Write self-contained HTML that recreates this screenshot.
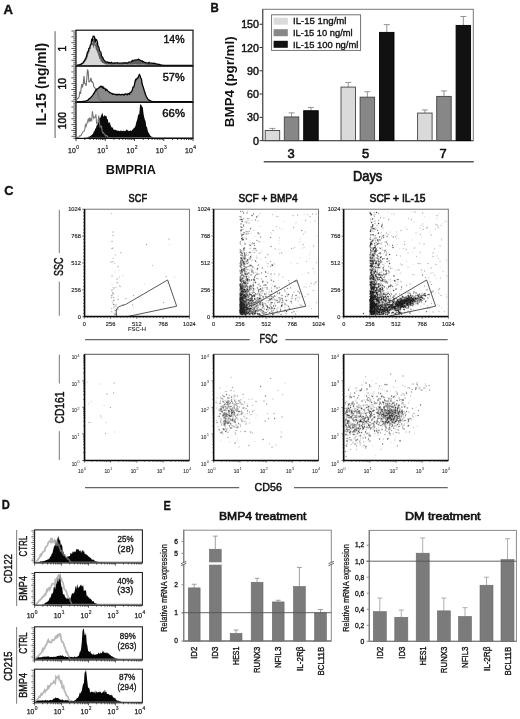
<!DOCTYPE html><html><head><meta charset="utf-8"><style>html,body{margin:0;padding:0;background:#fff;}svg{display:block;font-family:"Liberation Sans",sans-serif;will-change:transform;}</style></head><body><svg width="520" height="719" viewBox="0 0 520 719" font-family='"Liberation Sans", sans-serif'><rect width="520" height="719" fill="#fff"/><text x="3.5" y="13.8" font-size="12.5" font-weight="bold" fill="#111" stroke="#111" stroke-width="0.35" textLength="9.5" lengthAdjust="spacingAndGlyphs">A</text><text x="210.5" y="12.2" font-size="12.21" font-weight="bold" fill="#111" stroke="#111" stroke-width="0.35" textLength="8.3" lengthAdjust="spacingAndGlyphs">B</text><text x="4.2" y="195.2" font-size="13.37" font-weight="bold" fill="#111" stroke="#111" stroke-width="0.35" textLength="9.3" lengthAdjust="spacingAndGlyphs">C</text><text x="1.8" y="508.6" font-size="12.79" font-weight="bold" fill="#111" stroke="#111" stroke-width="0.35" textLength="8.1" lengthAdjust="spacingAndGlyphs">D</text><text x="163.5" y="510.2" font-size="12.79" font-weight="bold" fill="#111" stroke="#111" stroke-width="0.35" textLength="7.3" lengthAdjust="spacingAndGlyphs">E</text><path d="M77 65.4L77 65.21L77.7 65.13L78.4 65.06L79.1 64.83L79.8 64.72L80.5 64.46L81.2 64.23L81.9 63.5L82.6 63.35L83.3 62.73L84 61.63L84.7 60.59L85.4 59.4L86.1 58.33L86.8 56.12L87.5 53.35L88.2 53.17L88.9 50.19L89.6 49.93L90.3 47.27L91 46.46L91.7 42.31L92.4 42.98L93.1 39.22L93.8 39.08L94.5 39.88L95.2 44.82L95.9 42.06L96.6 42.56L97.3 43.97L98 48.25L98.7 48.79L99.4 51.4L100.1 53.2L100.8 53.39L101.5 56.74L102.2 57.83L102.9 58.52L103.6 60.28L104.3 60.95L105 61.49L105.7 61.98L106.4 62.48L107.1 62.6L107.8 62.35L108.5 63.05L109.2 62.8L109.9 63.13L110.6 63.25L111.3 62.65L112 63.08L112.7 63.37L113.4 63.34L114.1 63.2L114.8 63.39L115.5 63.19L116.2 63.4L116.9 63.2L117.6 62.97L118.3 63.42L119 63.35L119.7 63.42L120.4 63.38L121.1 63.43L121.8 63.42L122.5 63.4L123.2 63.12L123.9 63.02L124.6 63.38L125.3 63.33L126 63.06L126.7 63.26L127.4 63.11L128.1 62.98L128.8 62.38L129.5 62.38L130.2 62.45L130.9 62.21L131.6 61.92L132.3 60.91L133 61.38L133.7 61.08L134.4 60.57L135.1 60.57L135.8 60.43L136.5 60.58L137.2 60.28L137.9 60.45L138.6 59.83L139.3 60.31L140 60.9L140.7 60.85L141.4 61.53L142.1 61.31L142.8 62.05L143.5 62.08L144.2 62.66L144.9 62.62L145.6 63.01L146.3 63.14L147 63.17L147.7 63.27L148.4 63.26L149.1 62.67L149.8 63.41L150.5 63.44L151.2 63.4L151.9 63.35L152.6 63.54L153.3 63.59L154 63.45L154.7 63.59L155.4 63.82L156.1 63.97L156.8 64.11L157.5 64.23L158.2 64.4L158.9 64.56L159.6 64.6L160.3 64.89L161 65.04L161.7 65.14L162.4 65.2L163.1 65.28L163.8 65.31L164.5 65.32L165.2 65.36L165.9 65.36L166.6 65.38L167.3 65.38L168 65.39L168.7 65.39L169.4 65.39L170.1 65.4L170.8 65.4L171.5 65.4L172.2 65.4L172.9 65.4L173.6 65.4L174.3 65.4L175 65.4L175.7 65.4L176.4 65.4L177.1 65.4L177.8 65.4L178.5 65.4L179.2 65.4L179.9 65.4L180.6 65.4L181.3 65.4L182 65.4L182.7 65.4L183.4 65.4L184.1 65.4L184.8 65.4L185.5 65.4L186.2 65.4L186.9 65.4L187.6 65.4L188.3 65.4L189 65.4L189.7 65.4L190.4 65.4L191.1 65.4L191.8 65.4L192.5 65.4L192.5 65.4Z" fill="#5e5e5e" stroke="none" stroke-width="1"/><path d="M77 65.4L77 65.39L77.7 65.37L78.4 65.35L79.1 65.32L79.8 65.27L80.5 65.15L81.2 65.03L81.9 64.77L82.6 64.35L83.3 63.94L84 62.85L84.7 62.6L85.4 61.34L86.1 60.22L86.8 58.88L87.5 57.24L88.2 54.2L88.9 53.29L89.6 51.17L90.3 49.08L91 45.19L91.7 44.88L92.4 44.73L93.1 46.37L93.8 48.14L94.5 44.57L95.2 45.96L95.9 49.68L96.6 50.48L97.3 52.21L98 54.24L98.7 56.13L99.4 58.95L100.1 59.07L100.8 61.61L101.5 61.87L102.2 62.83L102.9 63.27L103.6 63.37L104.3 63.83L105 64.36L105.7 64.4L106.4 64.46L107.1 64.6L107.8 64.76L108.5 64.56L109.2 64.56L109.9 64.5L110.6 64.73L111.3 64.79L112 64.77L112.7 64.79L113.4 64.68L114.1 64.59L114.8 64.78L115.5 64.66L116.2 64.57L116.9 64.67L117.6 64.79L118.3 64.69L119 64.66L119.7 64.71L120.4 64.66L121.1 64.68L121.8 64.75L122.5 64.69L123.2 64.71L123.9 64.71L124.6 64.27L125.3 64.61L126 64.57L126.7 64.79L127.4 64.8L128.1 64.6L128.8 64.74L129.5 64.61L130.2 64.79L130.9 64.78L131.6 64.76L132.3 64.5L133 64.8L133.7 64.49L134.4 64.7L135.1 64.52L135.8 64.35L136.5 64.73L137.2 64.45L137.9 64.79L138.6 64.64L139.3 64.67L140 64.51L140.7 64.76L141.4 64.8L142.1 64.8L142.8 64.81L143.5 64.61L144.2 64.69L144.9 64.79L145.6 64.71L146.3 64.75L147 64.94L147.7 64.89L148.4 65.04L149.1 65.04L149.8 65.09L150.5 65.17L151.2 65.15L151.9 65.21L152.6 65.28L153.3 65.3L154 65.33L154.7 65.36L155.4 65.36L156.1 65.37L156.8 65.38L157.5 65.39L158.2 65.39L158.9 65.39L159.6 65.39L160.3 65.4L161 65.4L161.7 65.4L162.4 65.4L163.1 65.4L163.8 65.4L164.5 65.4L165.2 65.4L165.9 65.4L166.6 65.4L167.3 65.4L168 65.4L168.7 65.4L169.4 65.4L170.1 65.4L170.8 65.4L171.5 65.4L172.2 65.4L172.9 65.4L173.6 65.4L174.3 65.4L175 65.4L175.7 65.4L176.4 65.4L177.1 65.4L177.8 65.4L178.5 65.4L179.2 65.4L179.9 65.4L180.6 65.4L181.3 65.4L182 65.4L182.7 65.4L183.4 65.4L184.1 65.4L184.8 65.4L185.5 65.4L186.2 65.4L186.9 65.4L187.6 65.4L188.3 65.4L189 65.4L189.7 65.4L190.4 65.4L191.1 65.4L191.8 65.4L192.5 65.4L192.5 65.4Z" fill="#d8d8d8" stroke="none" stroke-width="1"/><path d="M77 65.19L77.7 65.1L78.4 65.02L79.1 64.77L79.8 64.64L80.5 64.36L81.2 64.1L81.9 63.28L82.6 63.13L83.3 62.43L84 61.21L84.7 60.06L85.4 58.74L86.1 57.55L86.8 55.09L87.5 52.01L88.2 51.81L88.9 48.5L89.6 48.21L90.3 45.25L91 44.36L91.7 39.74L92.4 40.49L93.1 36.31L93.8 36.15L94.5 37.05L95.2 42.54L95.9 39.47L96.6 40.02L97.3 41.59L98 46.35L98.7 46.95L99.4 49.84L100.1 51.84L100.8 52.06L101.5 55.78L102.2 56.99L102.9 57.76L103.6 59.71L104.3 60.45L105 61.06L105.7 61.6L106.4 62.16L107.1 62.29L107.8 62.01L108.5 62.79L109.2 62.52L109.9 62.88L110.6 63.01L111.3 62.35L112 62.82L112.7 63.14L113.4 63.11L114.1 62.96L114.8 63.17L115.5 62.94L116.2 63.18L116.9 62.96L117.6 62.7L118.3 63.2L119 63.12L119.7 63.2L120.4 63.15L121.1 63.21L121.8 63.2L122.5 63.18L123.2 62.86L123.9 62.76L124.6 63.15L125.3 63.1L126 62.8L126.7 63.02L127.4 62.86L128.1 62.71L128.8 62.05L129.5 62.05L130.2 62.12L130.9 61.85L131.6 61.53L132.3 60.41L133 60.93L133.7 60.6L134.4 60.04L135.1 60.03L135.8 59.88L136.5 60.05L137.2 59.71L137.9 59.9L138.6 59.22L139.3 59.75L140 60.4L140.7 60.35L141.4 61.09L142.1 60.85L142.8 61.68L143.5 61.71L144.2 62.35L144.9 62.32L145.6 62.74L146.3 62.89L147 62.92L147.7 63.03L148.4 63.02L149.1 62.36L149.8 63.19L150.5 63.22L151.2 63.18L151.9 63.12L152.6 63.33L153.3 63.39L154 63.24L154.7 63.39L155.4 63.65L156.1 63.81L156.8 63.97L157.5 64.1L158.2 64.29L158.9 64.46L159.6 64.51L160.3 64.83L161 65L161.7 65.12L162.4 65.18L163.1 65.27L163.8 65.3L164.5 65.32L165.2 65.35L165.9 65.36L166.6 65.37L167.3 65.38L168 65.39L168.7 65.39L169.4 65.39L170.1 65.4L170.8 65.4L171.5 65.4L172.2 65.4L172.9 65.4L173.6 65.4L174.3 65.4L175 65.4L175.7 65.4L176.4 65.4L177.1 65.4L177.8 65.4L178.5 65.4L179.2 65.4L179.9 65.4L180.6 65.4L181.3 65.4L182 65.4L182.7 65.4L183.4 65.4L184.1 65.4L184.8 65.4L185.5 65.4L186.2 65.4L186.9 65.4L187.6 65.4L188.3 65.4L189 65.4L189.7 65.4L190.4 65.4L191.1 65.4L191.8 65.4L192.5 65.4" fill="none" stroke="#000" stroke-width="1.3"/><path d="M77 101.7L77 101.68L77.7 101.68L78.4 101.67L79.1 101.66L79.8 101.65L80.5 101.62L81.2 101.59L81.9 101.56L82.6 101.52L83.3 101.47L84 101.36L84.7 101.24L85.4 101.07L86.1 100.87L86.8 100.56L87.5 100.29L88.2 99.88L88.9 99.04L89.6 98.22L90.3 98.08L91 97.38L91.7 96.39L92.4 95.57L93.1 94.65L93.8 93.41L94.5 92.81L95.2 90.9L95.9 90.44L96.6 89.27L97.3 88.79L98 88.47L98.7 88.06L99.4 87.08L100.1 87.01L100.8 86.16L101.5 86.39L102.2 87.59L102.9 86.71L103.6 88.18L104.3 88.1L105 88.42L105.7 90.18L106.4 89.39L107.1 90L107.8 90.84L108.5 91.57L109.2 92.08L109.9 92.84L110.6 92.96L111.3 93.45L112 93.5L112.7 94.24L113.4 93.9L114.1 94.12L114.8 94.38L115.5 94.58L116.2 94.21L116.9 95.09L117.6 94.36L118.3 94.51L119 94.51L119.7 94.48L120.4 94.89L121.1 94.78L121.8 94.36L122.5 94.48L123.2 94.6L123.9 95.15L124.6 94.39L125.3 94L126 94.02L126.7 94.33L127.4 94.8L128.1 93.51L128.8 93.76L129.5 94.22L130.2 92.37L130.9 92.53L131.6 91.55L132.3 90.08L133 87.19L133.7 87.14L134.4 84.9L135.1 81.27L135.8 79.37L136.5 79.68L137.2 78.05L137.9 78.02L138.6 76.37L139.3 74.57L140 75.51L140.7 77.73L141.4 78.9L142.1 83.82L142.8 85.92L143.5 87.89L144.2 90.54L144.9 92.44L145.6 94.74L146.3 96.56L147 97.64L147.7 98.85L148.4 99.62L149.1 100.11L149.8 100.69L150.5 100.97L151.2 101.3L151.9 101.42L152.6 101.53L153.3 101.6L154 101.64L154.7 101.66L155.4 101.68L156.1 101.69L156.8 101.69L157.5 101.7L158.2 101.7L158.9 101.7L159.6 101.7L160.3 101.7L161 101.7L161.7 101.7L162.4 101.7L163.1 101.7L163.8 101.7L164.5 101.7L165.2 101.7L165.9 101.7L166.6 101.7L167.3 101.7L168 101.7L168.7 101.7L169.4 101.7L170.1 101.7L170.8 101.7L171.5 101.7L172.2 101.7L172.9 101.7L173.6 101.7L174.3 101.7L175 101.7L175.7 101.7L176.4 101.7L177.1 101.7L177.8 101.7L178.5 101.7L179.2 101.7L179.9 101.7L180.6 101.7L181.3 101.7L182 101.7L182.7 101.7L183.4 101.7L184.1 101.7L184.8 101.7L185.5 101.7L186.2 101.7L186.9 101.7L187.6 101.7L188.3 101.7L189 101.7L189.7 101.7L190.4 101.7L191.1 101.7L191.8 101.7L192.5 101.7L192.5 101.7Z" fill="#8a8a8a" stroke="none" stroke-width="1"/><path d="M77 99.58L77.7 98.19L78.4 97.96L79.1 96.77L79.8 91.49L80.5 93.88L81.2 87.57L81.9 84.01L82.6 86.39L83.3 83.59L84 75.94L84.7 83.55L85.4 83.78L86.1 85.89L86.8 78.6L87.5 69.46L88.2 71.69L88.9 81.8L89.6 81.66L90.3 80.67L91 77.96L91.7 81.85L92.4 81.62L93.1 82.97L93.8 86.72L94.5 87.45L95.2 88.2L95.9 90.65L96.6 90.9L97.3 89.9L98 94.61L98.7 97.16L99.4 99.01L100.1 99.32L100.8 100.13L101.5 100.58L102.2 101.22L102.9 101.46L103.6 101.6L104.3 101.67L105 101.68L105.7 101.69L106.4 101.69L107.1 101.7L107.8 101.7L108.5 101.7L109.2 101.7L109.9 101.7L110.6 101.7L111.3 101.7L112 101.7L112.7 101.7L113.4 101.7L114.1 101.7L114.8 101.7L115.5 101.7L116.2 101.7L116.9 101.7L117.6 101.7L118.3 101.7L119 101.7L119.7 101.7L120.4 101.7L121.1 101.7L121.8 101.7L122.5 101.7L123.2 101.7L123.9 101.7L124.6 101.7L125.3 101.7L126 101.7L126.7 101.7L127.4 101.7L128.1 101.7L128.8 101.7L129.5 101.7L130.2 101.7L130.9 101.7L131.6 101.7L132.3 101.7L133 101.7L133.7 101.7L134.4 101.7L135.1 101.7L135.8 101.7L136.5 101.7L137.2 101.7L137.9 101.7L138.6 101.7L139.3 101.7L140 101.7L140.7 101.7L141.4 101.7L142.1 101.7L142.8 101.7L143.5 101.7L144.2 101.7L144.9 101.7L145.6 101.7L146.3 101.7L147 101.7L147.7 101.7L148.4 101.7L149.1 101.7L149.8 101.7L150.5 101.7L151.2 101.7L151.9 101.7L152.6 101.7L153.3 101.7L154 101.7L154.7 101.7L155.4 101.7L156.1 101.7L156.8 101.7L157.5 101.7L158.2 101.7L158.9 101.7L159.6 101.7L160.3 101.7L161 101.7L161.7 101.7L162.4 101.7L163.1 101.7L163.8 101.7L164.5 101.7L165.2 101.7L165.9 101.7L166.6 101.7L167.3 101.7L168 101.7L168.7 101.7L169.4 101.7L170.1 101.7L170.8 101.7L171.5 101.7L172.2 101.7L172.9 101.7L173.6 101.7L174.3 101.7L175 101.7L175.7 101.7L176.4 101.7L177.1 101.7L177.8 101.7L178.5 101.7L179.2 101.7L179.9 101.7L180.6 101.7L181.3 101.7L182 101.7L182.7 101.7L183.4 101.7L184.1 101.7L184.8 101.7L185.5 101.7L186.2 101.7L186.9 101.7L187.6 101.7L188.3 101.7L189 101.7L189.7 101.7L190.4 101.7L191.1 101.7L191.8 101.7L192.5 101.7" fill="none" stroke="#707070" stroke-width="1.1"/><path d="M77 101.68L77.7 101.68L78.4 101.67L79.1 101.66L79.8 101.65L80.5 101.62L81.2 101.59L81.9 101.56L82.6 101.52L83.3 101.47L84 101.36L84.7 101.24L85.4 101.07L86.1 100.87L86.8 100.56L87.5 100.29L88.2 99.88L88.9 99.04L89.6 98.22L90.3 98.08L91 97.38L91.7 96.39L92.4 95.57L93.1 94.65L93.8 93.41L94.5 92.81L95.2 90.9L95.9 90.44L96.6 89.27L97.3 88.79L98 88.47L98.7 88.06L99.4 87.08L100.1 87.01L100.8 86.16L101.5 86.39L102.2 87.59L102.9 86.71L103.6 88.18L104.3 88.1L105 88.42L105.7 90.18L106.4 89.39L107.1 90L107.8 90.84L108.5 91.57L109.2 92.08L109.9 92.84L110.6 92.96L111.3 93.45L112 93.5L112.7 94.24L113.4 93.9L114.1 94.12L114.8 94.38L115.5 94.58L116.2 94.21L116.9 95.09L117.6 94.36L118.3 94.51L119 94.51L119.7 94.48L120.4 94.89L121.1 94.78L121.8 94.36L122.5 94.48L123.2 94.6L123.9 95.15L124.6 94.39L125.3 94L126 94.02L126.7 94.33L127.4 94.8L128.1 93.51L128.8 93.76L129.5 94.22L130.2 92.37L130.9 92.53L131.6 91.55L132.3 90.08L133 87.19L133.7 87.14L134.4 84.9L135.1 81.27L135.8 79.37L136.5 79.68L137.2 78.05L137.9 78.02L138.6 76.37L139.3 74.57L140 75.51L140.7 77.73L141.4 78.9L142.1 83.82L142.8 85.92L143.5 87.89L144.2 90.54L144.9 92.44L145.6 94.74L146.3 96.56L147 97.64L147.7 98.85L148.4 99.62L149.1 100.11L149.8 100.69L150.5 100.97L151.2 101.3L151.9 101.42L152.6 101.53L153.3 101.6L154 101.64L154.7 101.66L155.4 101.68L156.1 101.69L156.8 101.69L157.5 101.7L158.2 101.7L158.9 101.7L159.6 101.7L160.3 101.7L161 101.7L161.7 101.7L162.4 101.7L163.1 101.7L163.8 101.7L164.5 101.7L165.2 101.7L165.9 101.7L166.6 101.7L167.3 101.7L168 101.7L168.7 101.7L169.4 101.7L170.1 101.7L170.8 101.7L171.5 101.7L172.2 101.7L172.9 101.7L173.6 101.7L174.3 101.7L175 101.7L175.7 101.7L176.4 101.7L177.1 101.7L177.8 101.7L178.5 101.7L179.2 101.7L179.9 101.7L180.6 101.7L181.3 101.7L182 101.7L182.7 101.7L183.4 101.7L184.1 101.7L184.8 101.7L185.5 101.7L186.2 101.7L186.9 101.7L187.6 101.7L188.3 101.7L189 101.7L189.7 101.7L190.4 101.7L191.1 101.7L191.8 101.7L192.5 101.7" fill="none" stroke="#000" stroke-width="1.3"/><path d="M77 137.8L77 137.78L77.7 137.78L78.4 137.77L79.1 137.77L79.8 137.76L80.5 137.74L81.2 137.73L81.9 137.72L82.6 137.69L83.3 137.68L84 137.64L84.7 137.58L85.4 137.5L86.1 137.43L86.8 137.38L87.5 137.13L88.2 136.84L88.9 136.64L89.6 136.46L90.3 136.06L91 135.41L91.7 135.02L92.4 134.37L93.1 133.48L93.8 131.52L94.5 130.91L95.2 128.82L95.9 128.34L96.6 125.52L97.3 125.09L98 122.94L98.7 117.73L99.4 118.18L100.1 118.35L100.8 116.5L101.5 114.77L102.2 112.48L102.9 115.01L103.6 116.93L104.3 115.13L105 115.43L105.7 116.3L106.4 115.69L107.1 118.66L107.8 119.49L108.5 123.12L109.2 122.49L109.9 122.6L110.6 125.24L111.3 126.79L112 127.77L112.7 127.22L113.4 129.62L114.1 129.69L114.8 129.67L115.5 129.74L116.2 130.59L116.9 130.36L117.6 130.75L118.3 130.63L119 130.8L119.7 131.18L120.4 130.81L121.1 130.27L121.8 131.17L122.5 130.93L123.2 130.45L123.9 131.25L124.6 130.79L125.3 131.29L126 130.26L126.7 129.57L127.4 129.78L128.1 131.13L128.8 130.62L129.5 130.99L130.2 130.95L130.9 129.93L131.6 131.14L132.3 129.6L133 129.77L133.7 127.88L134.4 127.72L135.1 126.9L135.8 124.38L136.5 121.57L137.2 119.75L137.9 115.92L138.6 114.17L139.3 113.91L140 105.33L140.7 104.11L141.4 105.28L142.1 106.81L142.8 107.28L143.5 113.44L144.2 117.13L144.9 119.78L145.6 121.31L146.3 126.6L147 127.18L147.7 130.61L148.4 132.49L149.1 133.19L149.8 134.92L150.5 135.81L151.2 136.45L151.9 136.75L152.6 137.04L153.3 137.47L154 137.59L154.7 137.67L155.4 137.73L156.1 137.76L156.8 137.77L157.5 137.79L158.2 137.79L158.9 137.79L159.6 137.8L160.3 137.8L161 137.8L161.7 137.8L162.4 137.8L163.1 137.8L163.8 137.8L164.5 137.8L165.2 137.8L165.9 137.8L166.6 137.8L167.3 137.8L168 137.8L168.7 137.8L169.4 137.8L170.1 137.8L170.8 137.8L171.5 137.8L172.2 137.8L172.9 137.8L173.6 137.8L174.3 137.8L175 137.8L175.7 137.8L176.4 137.8L177.1 137.8L177.8 137.8L178.5 137.8L179.2 137.8L179.9 137.8L180.6 137.8L181.3 137.8L182 137.8L182.7 137.8L183.4 137.8L184.1 137.8L184.8 137.8L185.5 137.8L186.2 137.8L186.9 137.8L187.6 137.8L188.3 137.8L189 137.8L189.7 137.8L190.4 137.8L191.1 137.8L191.8 137.8L192.5 137.8L192.5 137.8Z" fill="#0a0a0a" stroke="none" stroke-width="1"/><path d="M77 137.56L77.7 137.4L78.4 137.31L79.1 136.9L79.8 135.67L80.5 135.92L81.2 135.2L81.9 133.85L82.6 132.07L83.3 131.84L84 131.39L84.7 129.94L85.4 124.7L86.1 126.36L86.8 123.89L87.5 121.77L88.2 119.35L88.9 121.37L89.6 117.68L90.3 121.33L91 118.86L91.7 120.36L92.4 111.39L93.1 115.86L93.8 118.3L94.5 117.06L95.2 117.1L95.9 114.34L96.6 123.38L97.3 122.79L98 122.41L98.7 115.6L99.4 122.42L100.1 126.93L100.8 126.99L101.5 126.4L102.2 131.64L102.9 132.92L103.6 132.49L104.3 134.25L105 134.93L105.7 136.03L106.4 135.38L107.1 135.98L107.8 136.88L108.5 137.29L109.2 137.61L109.9 137.57L110.6 137.67L111.3 137.71L112 137.74L112.7 137.77L113.4 137.79L114.1 137.79L114.8 137.79L115.5 137.8L116.2 137.8L116.9 137.8L117.6 137.8L118.3 137.8L119 137.8L119.7 137.8L120.4 137.8L121.1 137.8L121.8 137.8L122.5 137.8L123.2 137.8L123.9 137.8L124.6 137.8L125.3 137.8L126 137.8L126.7 137.8L127.4 137.8L128.1 137.8L128.8 137.8L129.5 137.8L130.2 137.8L130.9 137.8L131.6 137.8L132.3 137.8L133 137.8L133.7 137.8L134.4 137.8L135.1 137.8L135.8 137.8L136.5 137.8L137.2 137.8L137.9 137.8L138.6 137.8L139.3 137.8L140 137.8L140.7 137.8L141.4 137.8L142.1 137.8L142.8 137.8L143.5 137.8L144.2 137.8L144.9 137.8L145.6 137.8L146.3 137.8L147 137.8L147.7 137.8L148.4 137.8L149.1 137.8L149.8 137.8L150.5 137.8L151.2 137.8L151.9 137.8L152.6 137.8L153.3 137.8L154 137.8L154.7 137.8L155.4 137.8L156.1 137.8L156.8 137.8L157.5 137.8L158.2 137.8L158.9 137.8L159.6 137.8L160.3 137.8L161 137.8L161.7 137.8L162.4 137.8L163.1 137.8L163.8 137.8L164.5 137.8L165.2 137.8L165.9 137.8L166.6 137.8L167.3 137.8L168 137.8L168.7 137.8L169.4 137.8L170.1 137.8L170.8 137.8L171.5 137.8L172.2 137.8L172.9 137.8L173.6 137.8L174.3 137.8L175 137.8L175.7 137.8L176.4 137.8L177.1 137.8L177.8 137.8L178.5 137.8L179.2 137.8L179.9 137.8L180.6 137.8L181.3 137.8L182 137.8L182.7 137.8L183.4 137.8L184.1 137.8L184.8 137.8L185.5 137.8L186.2 137.8L186.9 137.8L187.6 137.8L188.3 137.8L189 137.8L189.7 137.8L190.4 137.8L191.1 137.8L191.8 137.8L192.5 137.8" fill="none" stroke="#7a7a7a" stroke-width="1.1"/><rect x="76" y="30.2" width="117" height="35.8" fill="none" stroke="#111" stroke-width="1.2"/><rect x="76" y="66" width="117" height="36.3" fill="none" stroke="#111" stroke-width="1.2"/><rect x="76" y="102.3" width="117" height="36.1" fill="none" stroke="#111" stroke-width="1.2"/><path d="M76 31h-4.6M76 32.95h-2.8M76 34.9h-2.8M76 36.85h-4.6M76 38.8h-2.8M76 40.75h-2.8M76 42.7h-4.6M76 44.65h-2.8M76 46.6h-2.8M76 48.55h-4.6M76 50.5h-2.8M76 52.45h-2.8M76 54.4h-4.6M76 56.35h-2.8M76 58.3h-2.8M76 60.25h-4.6M76 62.2h-2.8M76 64.15h-2.8M76 66.1h-4.6M76 68.05h-2.8M76 70h-2.8M76 71.95h-4.6M76 73.9h-2.8M76 75.85h-2.8M76 77.8h-4.6M76 79.75h-2.8M76 81.7h-2.8M76 83.65h-4.6M76 85.6h-2.8M76 87.55h-2.8M76 89.5h-4.6M76 91.45h-2.8M76 93.4h-2.8M76 95.35h-4.6M76 97.3h-2.8M76 99.25h-2.8M76 101.2h-4.6M76 103.15h-2.8M76 105.1h-2.8M76 107.05h-4.6M76 109h-2.8M76 110.95h-2.8M76 112.9h-4.6M76 114.85h-2.8M76 116.8h-2.8M76 118.75h-4.6M76 120.7h-2.8M76 122.65h-2.8M76 124.6h-4.6M76 126.55h-2.8M76 128.5h-2.8M76 130.45h-4.6M76 132.4h-2.8M76 134.35h-2.8M76 136.3h-4.6M76 138.25h-2.8" fill="none" stroke="#222" stroke-width="0.75"/><path d="M76 138.4v2.6M84.81 138.4v1.6M89.96 138.4v1.6M93.61 138.4v1.6M96.44 138.4v1.6M98.76 138.4v1.6M100.72 138.4v1.6M102.42 138.4v1.6M103.91 138.4v1.6M105.25 138.4v2.6M114.06 138.4v1.6M119.21 138.4v1.6M122.86 138.4v1.6M125.69 138.4v1.6M128.01 138.4v1.6M129.97 138.4v1.6M131.67 138.4v1.6M133.16 138.4v1.6M134.5 138.4v2.6M143.31 138.4v1.6M148.46 138.4v1.6M152.11 138.4v1.6M154.94 138.4v1.6M157.26 138.4v1.6M159.22 138.4v1.6M160.92 138.4v1.6M162.41 138.4v1.6M163.75 138.4v2.6M172.56 138.4v1.6M177.71 138.4v1.6M181.36 138.4v1.6M184.19 138.4v1.6M186.51 138.4v1.6M188.47 138.4v1.6M190.17 138.4v1.6M191.66 138.4v1.6M193 138.4v2.6" fill="none" stroke="#111" stroke-width="0.8"/><text x="68.1" y="152.8" font-size="7.06" fill="#222" stroke="#222" stroke-width="0.25" textLength="7.7" lengthAdjust="spacingAndGlyphs">10</text><text x="76.2" y="148.8" font-size="4.94" fill="#222" stroke="#222" stroke-width="0.17">0</text><text x="97.35" y="152.8" font-size="7.06" fill="#222" stroke="#222" stroke-width="0.25" textLength="7.7" lengthAdjust="spacingAndGlyphs">10</text><text x="105.45" y="148.8" font-size="4.94" fill="#222" stroke="#222" stroke-width="0.17">1</text><text x="126.6" y="152.8" font-size="7.06" fill="#222" stroke="#222" stroke-width="0.25" textLength="7.7" lengthAdjust="spacingAndGlyphs">10</text><text x="134.7" y="148.8" font-size="4.94" fill="#222" stroke="#222" stroke-width="0.17">2</text><text x="155.85" y="152.8" font-size="7.06" fill="#222" stroke="#222" stroke-width="0.25" textLength="7.7" lengthAdjust="spacingAndGlyphs">10</text><text x="163.95" y="148.8" font-size="4.94" fill="#222" stroke="#222" stroke-width="0.17">3</text><text x="185.1" y="152.8" font-size="7.06" fill="#222" stroke="#222" stroke-width="0.25" textLength="7.7" lengthAdjust="spacingAndGlyphs">10</text><text x="193.2" y="148.8" font-size="4.94" fill="#222" stroke="#222" stroke-width="0.17">4</text><text x="163.5" y="43.2" font-size="10.76" font-weight="normal" fill="#111" stroke="#111" stroke-width="0.45" textLength="21.1" lengthAdjust="spacingAndGlyphs">14%</text><text x="162.8" y="80.7" font-size="10.47" font-weight="normal" fill="#111" stroke="#111" stroke-width="0.45" textLength="21.8" lengthAdjust="spacingAndGlyphs">57%</text><text x="162.3" y="116.5" font-size="11.05" font-weight="normal" fill="#111" stroke="#111" stroke-width="0.45" textLength="22.7" lengthAdjust="spacingAndGlyphs">66%</text><text x="105.8" y="174.4" font-size="13.66" font-weight="bold" fill="#111" textLength="50.2" lengthAdjust="spacingAndGlyphs">BMPRIA</text><line x1="55.1" y1="31.3" x2="55.1" y2="137.9" stroke="#8a8a8a" stroke-width="1.4"/><text transform="translate(46 125.4) rotate(-90)" font-size="13.95" font-weight="bold" fill="#111" textLength="82.6" lengthAdjust="spacingAndGlyphs">IL-15 (ng/ml)</text><text transform="translate(66.4 51.6) rotate(-90)" font-size="10.17" font-weight="normal" fill="#111" stroke="#111" stroke-width="0.45" textLength="5.8" lengthAdjust="spacingAndGlyphs">1</text><text transform="translate(66.4 89.6) rotate(-90)" font-size="10.17" font-weight="normal" fill="#111" stroke="#111" stroke-width="0.45" textLength="11.6" lengthAdjust="spacingAndGlyphs">10</text><text transform="translate(66.4 129.2) rotate(-90)" font-size="10.17" font-weight="normal" fill="#111" stroke="#111" stroke-width="0.45" textLength="17.3" lengthAdjust="spacingAndGlyphs">100</text><rect x="262.7" y="9.3" width="210.6" height="131.3" fill="none" stroke="#777" stroke-width="1"/><line x1="262.7" y1="9.3" x2="262.7" y2="140.6" stroke="#555" stroke-width="1.2"/><line x1="262.7" y1="140.6" x2="473.3" y2="140.6" stroke="#555" stroke-width="1.2"/><line x1="259.5" y1="140.6" x2="262.7" y2="140.6" stroke="#333" stroke-width="1"/><text x="253" y="144.6" font-size="11.34" font-weight="normal" fill="#111" stroke="#111" stroke-width="0.45" textLength="6" lengthAdjust="spacingAndGlyphs">0</text><line x1="259.5" y1="117.33" x2="262.7" y2="117.33" stroke="#333" stroke-width="1"/><text x="247.1" y="121.33" font-size="11.34" font-weight="normal" fill="#111" stroke="#111" stroke-width="0.45" textLength="11.9" lengthAdjust="spacingAndGlyphs">30</text><line x1="259.5" y1="94.06" x2="262.7" y2="94.06" stroke="#333" stroke-width="1"/><text x="247.1" y="98.06" font-size="11.34" font-weight="normal" fill="#111" stroke="#111" stroke-width="0.45" textLength="11.9" lengthAdjust="spacingAndGlyphs">60</text><line x1="259.5" y1="70.79" x2="262.7" y2="70.79" stroke="#333" stroke-width="1"/><text x="247.1" y="74.79" font-size="11.34" font-weight="normal" fill="#111" stroke="#111" stroke-width="0.45" textLength="11.9" lengthAdjust="spacingAndGlyphs">90</text><line x1="259.5" y1="47.52" x2="262.7" y2="47.52" stroke="#333" stroke-width="1"/><text x="241.2" y="51.52" font-size="11.34" font-weight="normal" fill="#111" stroke="#111" stroke-width="0.45" textLength="17.8" lengthAdjust="spacingAndGlyphs">120</text><line x1="259.5" y1="24.25" x2="262.7" y2="24.25" stroke="#333" stroke-width="1"/><text x="241.2" y="28.25" font-size="11.34" font-weight="normal" fill="#111" stroke="#111" stroke-width="0.45" textLength="17.8" lengthAdjust="spacingAndGlyphs">150</text><text transform="translate(233.7 127.2) rotate(-90)" font-size="13.08" font-weight="bold" fill="#111" textLength="90.9" lengthAdjust="spacingAndGlyphs">BMP4 (pgr/ml)</text><line x1="272.45" y1="128.42" x2="272.45" y2="130.52" stroke="#8a8a8a" stroke-width="0.9"/><line x1="269.45" y1="128.42" x2="275.45" y2="128.42" stroke="#8a8a8a" stroke-width="0.9"/><rect x="265.2" y="130.52" width="14.5" height="10.08" fill="#dadada" stroke="#444" stroke-width="0.9"/><line x1="291.55" y1="112.83" x2="291.55" y2="116.94" stroke="#8a8a8a" stroke-width="0.9"/><line x1="288.55" y1="112.83" x2="294.55" y2="112.83" stroke="#8a8a8a" stroke-width="0.9"/><rect x="284.3" y="116.94" width="14.5" height="23.66" fill="#878787" stroke="#444" stroke-width="0.9"/><line x1="310.95" y1="107.48" x2="310.95" y2="110.74" stroke="#8a8a8a" stroke-width="0.9"/><line x1="307.95" y1="107.48" x2="313.95" y2="107.48" stroke="#8a8a8a" stroke-width="0.9"/><rect x="303.7" y="110.74" width="14.5" height="29.86" fill="#111111" stroke="#000" stroke-width="0.9"/><line x1="348.25" y1="82.42" x2="348.25" y2="87.08" stroke="#8a8a8a" stroke-width="0.9"/><line x1="345.25" y1="82.42" x2="351.25" y2="82.42" stroke="#8a8a8a" stroke-width="0.9"/><rect x="341" y="87.08" width="14.5" height="53.52" fill="#dadada" stroke="#444" stroke-width="0.9"/><line x1="367.35" y1="91.73" x2="367.35" y2="97.16" stroke="#8a8a8a" stroke-width="0.9"/><line x1="364.35" y1="91.73" x2="370.35" y2="91.73" stroke="#8a8a8a" stroke-width="0.9"/><rect x="360.1" y="97.16" width="14.5" height="43.44" fill="#878787" stroke="#444" stroke-width="0.9"/><line x1="386.75" y1="24.64" x2="386.75" y2="32.39" stroke="#8a8a8a" stroke-width="0.9"/><line x1="383.75" y1="24.64" x2="389.75" y2="24.64" stroke="#8a8a8a" stroke-width="0.9"/><rect x="379.5" y="32.39" width="14.5" height="108.21" fill="#111111" stroke="#000" stroke-width="0.9"/><line x1="424.85" y1="109.96" x2="424.85" y2="113.06" stroke="#8a8a8a" stroke-width="0.9"/><line x1="421.85" y1="109.96" x2="427.85" y2="109.96" stroke="#8a8a8a" stroke-width="0.9"/><rect x="417.6" y="113.06" width="14.5" height="27.54" fill="#dadada" stroke="#444" stroke-width="0.9"/><line x1="443.95" y1="90.96" x2="443.95" y2="96.39" stroke="#8a8a8a" stroke-width="0.9"/><line x1="440.95" y1="90.96" x2="446.95" y2="90.96" stroke="#8a8a8a" stroke-width="0.9"/><rect x="436.7" y="96.39" width="14.5" height="44.21" fill="#878787" stroke="#444" stroke-width="0.9"/><line x1="463.35" y1="16.49" x2="463.35" y2="25.41" stroke="#8a8a8a" stroke-width="0.9"/><line x1="460.35" y1="16.49" x2="466.35" y2="16.49" stroke="#8a8a8a" stroke-width="0.9"/><rect x="456.1" y="25.41" width="14.5" height="115.19" fill="#111111" stroke="#000" stroke-width="0.9"/><rect x="271.6" y="14.8" width="89" height="35.6" fill="#fff" stroke="#666" stroke-width="0.9"/><rect x="273.6" y="17.7" width="14.2" height="7" fill="#dadada" stroke="none" stroke-width="1"/><text x="293" y="24.4" font-size="9.3" font-weight="normal" fill="#111" stroke="#111" stroke-width="0.35" textLength="53.5" lengthAdjust="spacingAndGlyphs">IL-15 1ng/ml</text><rect x="273.6" y="29.2" width="14.2" height="7" fill="#878787" stroke="none" stroke-width="1"/><text x="293" y="35.9" font-size="9.3" font-weight="normal" fill="#111" stroke="#111" stroke-width="0.35" textLength="59.6" lengthAdjust="spacingAndGlyphs">IL-15 10 ng/ml</text><rect x="273.6" y="40.8" width="14.2" height="7" fill="#111111" stroke="none" stroke-width="1"/><text x="293" y="47.5" font-size="9.3" font-weight="normal" fill="#111" stroke="#111" stroke-width="0.35" textLength="65.4" lengthAdjust="spacingAndGlyphs">IL-15 100 ng/ml</text><text x="287.4" y="157.6" font-size="13.08" font-weight="normal" fill="#111" stroke="#111" stroke-width="0.6" textLength="7.2" lengthAdjust="spacingAndGlyphs">3</text><text x="361.9" y="157.6" font-size="13.08" font-weight="normal" fill="#111" stroke="#111" stroke-width="0.6" textLength="7.2" lengthAdjust="spacingAndGlyphs">5</text><text x="439.4" y="157.6" font-size="13.08" font-weight="normal" fill="#111" stroke="#111" stroke-width="0.6" textLength="7.2" lengthAdjust="spacingAndGlyphs">7</text><line x1="263.7" y1="161.8" x2="473.8" y2="161.8" stroke="#555" stroke-width="1.5"/><text x="353" y="180.8" font-size="13.95" font-weight="normal" fill="#111" stroke="#111" stroke-width="0.65" textLength="29.3" lengthAdjust="spacingAndGlyphs">Days</text><path d="M112.5 292.5h.1M114.5 305h.1M119.5 285.5h.1M118 296h.1M114.5 304.5h.1M112 312.5h.1M113 302h.1M112 301.5h.1M115 312.5h.1M117 314h.1M113.5 308h.1M113 287.5h.1M112 284.5h.1M119 270.5h.1M115 272h.1M114 314h.1M118 283h.1M119.5 276.5h.1M112.5 295.5h.1M112.5 303h.1M113 289.5h.1M167.5 283.5h.1M120.5 253h.1M119 278h.1M174.5 277h.1M133.5 308h.1M123 275.5h.1M169.5 244.5h.1M144.5 284h.1" stroke="#000" stroke-opacity="0.12" stroke-width="1.3" stroke-linecap="round" fill="none"/><path d="M112.5 262h.1M112 290h.1M111.5 311.5h.1M111.5 311.5h.1M113 261.5h.1M121 252.5h.1M113 248h.1M113 258.5h.1M113.5 304.5h.1M111.5 213.5h.1M116 306.5h.1M113 294h.1M114.5 263.5h.1M114.5 314h.1M116 287.5h.1M115.5 255h.1M111.5 290.5h.1M111.5 308.5h.1M152.5 265.5h.1" stroke="#000" stroke-opacity="0.22" stroke-width="1.3" stroke-linecap="round" fill="none"/><path d="M118 299.5h.1M116 305h.1M115 314.5h.1M132.5 305h.1M113 235.5h.1M112 241.5h.1M117.5 308h.1M117 279h.1M126 298.5h.1M111 262h.1M111.5 295.5h.1M116 310.5h.1M113 293h.1M114 307h.1M118 309.5h.1M114 300h.1M113 293.5h.1M116 314h.1M112 248.5h.1M113.5 297.5h.1M117 282.5h.1M113.5 304.5h.1M115 310.5h.1M118 266.5h.1M114 288h.1M113.5 300.5h.1M113 232h.1M120 286.5h.1M111.5 297.5h.1M112 276h.1M123 305h.1M166 276.5h.1M133.5 295.5h.1M146.5 244.5h.1M163.5 302.5h.1M169 239h.1" stroke="#000" stroke-opacity="0.32" stroke-width="1.3" stroke-linecap="round" fill="none"/><path d="M259.5 303.5h.1M276.5 313h.1M257 287h.1M253.5 280.5h.1M251.5 292.5h.1M270 309h.1M247 279h.1M251.5 255h.1M250.5 308.5h.1M240 304h.1M248 303.5h.1M240.5 291.5h.1M249.5 311h.1M243.5 278.5h.1M250 286.5h.1M255 303h.1M241 293h.1M246 312.5h.1M243 306.5h.1M241 268.5h.1M242 310h.1M240 293h.1M243 307.5h.1M249.5 265h.1M240.5 233.5h.1M245 310h.1M240 284h.1M242.5 235h.1M253.5 281h.1M266 281.5h.1M248 307h.1M242.5 269.5h.1M251 233h.1M256.5 273h.1M243.5 264h.1M250 313h.1M275.5 312h.1M250 288.5h.1M245.5 288.5h.1M244.5 298.5h.1M246.5 284h.1M245.5 311h.1M246.5 299.5h.1M251 310h.1M260.5 288.5h.1M248.5 310h.1M240 302h.1M245.5 299h.1M241.5 300h.1M261.5 251h.1M241 279.5h.1M241 301h.1M241.5 311h.1M279.5 294h.1M250 303.5h.1M242.5 300.5h.1M251 309h.1M262.5 307.5h.1M250.5 229h.1M251.5 308h.1M245.5 304.5h.1M240 311.5h.1M254.5 303.5h.1M240.5 281.5h.1M242 292h.1M241.5 309h.1M245 276.5h.1M242 292.5h.1M240.5 304h.1M248.5 291.5h.1M256.5 256h.1M246.5 298h.1M253 296h.1M258.5 311.5h.1M241.5 257.5h.1M245 308h.1M242 264.5h.1M240.5 250h.1M243 306h.1M242.5 299.5h.1M241.5 314.5h.1M241 287h.1M250 242.5h.1M243.5 306h.1M266 313.5h.1M255.5 306h.1M249 311.5h.1M248.5 304.5h.1M247.5 285h.1M245.5 280h.1M245.5 274.5h.1M241 295.5h.1M245.5 284.5h.1M242.5 251h.1M254 305h.1M251 303.5h.1M245.5 307.5h.1M251.5 305.5h.1M250 314.5h.1M248 310.5h.1M254 307.5h.1M244 304h.1M240 265.5h.1M242 312h.1M246.5 290h.1M252.5 296.5h.1M258 305.5h.1M240.5 307h.1M244 283h.1M241 313h.1M274.5 304.5h.1M246 302.5h.1M255.5 272.5h.1M244.5 307.5h.1M244.5 314h.1M241.5 287.5h.1M247 314.5h.1M256 302.5h.1M252 251h.1M246.5 277.5h.1M242 262h.1M249 305h.1M241 282.5h.1M243.5 310h.1M245 310h.1M244 313.5h.1M256.5 308h.1M251.5 313.5h.1M261 298.5h.1M259 253.5h.1M246 290h.1M242 303h.1M259 309h.1M245 276h.1M244.5 299h.1M244 297.5h.1M240 286h.1M274.5 313.5h.1M252 298.5h.1M266.5 292.5h.1M241.5 306h.1M241.5 314.5h.1M243.5 307h.1M247 291.5h.1M276.5 299.5h.1M242.5 297h.1M241.5 308.5h.1M264 312.5h.1M246.5 313h.1M244 263.5h.1M243.5 213h.1M246 312.5h.1M260.5 259h.1M241 306h.1M246.5 298h.1M262 312.5h.1M241 295h.1M251 297.5h.1M249.5 298.5h.1M248.5 305.5h.1M247 301h.1M248 311.5h.1M244 309.5h.1M249.5 293h.1M249.5 231h.1M242.5 288h.1M243 297h.1M242 304.5h.1M243 310.5h.1M277.5 314h.1M241.5 281.5h.1M248.5 278h.1M252 283.5h.1M243.5 298h.1M249 286.5h.1M240 297h.1M252 220.5h.1M245 284h.1M240 308h.1M241.5 313h.1M247 305h.1M240 311.5h.1M253 286.5h.1M246 305h.1M251 269h.1M242.5 281h.1M245.5 286.5h.1M245.5 278h.1M243.5 306h.1M267.5 298.5h.1M246 309.5h.1M247 313h.1M249 295h.1M241.5 310h.1M257.5 309h.1M243 305h.1M245 278.5h.1M267.5 308.5h.1M244 268.5h.1M252.5 308.5h.1M243.5 296h.1M256.5 250.5h.1M258 295h.1M241.5 300.5h.1M279 287h.1M252.5 307.5h.1M244.5 277.5h.1M242 245.5h.1M250.5 265h.1M250.5 313h.1M241.5 302h.1M243.5 283.5h.1M256 313.5h.1M240 304.5h.1M243.5 307.5h.1M249.5 296h.1M243 310h.1M243 298.5h.1M248.5 293h.1M247.5 291.5h.1M262 308.5h.1M242 297h.1M252 306.5h.1M241 286h.1M252.5 309h.1M261.5 313h.1M247.5 294h.1M240 290h.1M263.5 281.5h.1M246 279.5h.1M252.5 260h.1M252.5 287h.1M242 307h.1M243.5 303h.1M252 296h.1M241 223.5h.1M252.5 306.5h.1M246 306.5h.1M243 299.5h.1M252.5 314.5h.1M241 308h.1M241.5 289.5h.1M261.5 312.5h.1M263.5 305.5h.1M255 282h.1M242.5 309h.1M243.5 314.5h.1M243.5 283.5h.1M247.5 211.5h.1M242.5 280.5h.1M257.5 294h.1M246 281h.1M266 261.5h.1M249 220.5h.1M254 278.5h.1M244.5 290h.1M245 309.5h.1M245.5 290h.1M247.5 232h.1M249.5 265h.1M240.5 266h.1M251.5 305h.1M246 283h.1M240 286.5h.1M248.5 290.5h.1M242 287h.1M242.5 309h.1M243.5 296h.1M240.5 301h.1M240 300h.1M244 298.5h.1M252.5 287.5h.1M257 305h.1M246 269h.1M240.5 255h.1M240 308h.1M240 312h.1M250 304h.1M242 311h.1M253.5 290.5h.1M243.5 262h.1M240 273.5h.1M241.5 285.5h.1M243 285.5h.1M247.5 291.5h.1M243 297h.1M247.5 297.5h.1M241.5 285h.1M244.5 308.5h.1M247 272h.1M247.5 295.5h.1M247 295h.1M245.5 298.5h.1M250 281.5h.1M245.5 283h.1M243 256.5h.1M243.5 307h.1M241 312.5h.1M251.5 307h.1M241 305.5h.1M242 306.5h.1M241.5 282h.1M250 314.5h.1M241.5 312.5h.1M275 305h.1M245.5 306.5h.1M242.5 221.5h.1M252 300.5h.1M243.5 302h.1M245.5 259.5h.1M249 304.5h.1M241.5 305h.1M242 283.5h.1M243 307.5h.1M247 313h.1M244.5 302h.1M246.5 272.5h.1M252.5 306.5h.1M241.5 277.5h.1M241.5 310.5h.1M280.5 308.5h.1M242 288.5h.1M244.5 289.5h.1M244 292.5h.1M241 292h.1M240.5 297.5h.1M247 218.5h.1M241 291.5h.1M242.5 272h.1M262 311.5h.1M252 311.5h.1M244.5 304h.1M259.5 300h.1M243 280.5h.1M245 301.5h.1M244.5 242h.1M258.5 279h.1M251.5 290h.1M255 289h.1M245 237.5h.1M246 302.5h.1M245.5 302.5h.1M241.5 305.5h.1M241 262h.1M242.5 234.5h.1M241.5 313h.1M249.5 313h.1M243 310.5h.1M249.5 293.5h.1M242.5 310h.1M256 307h.1M254.5 314.5h.1M241.5 302h.1M244.5 297.5h.1M256.5 262h.1M251.5 306.5h.1M240.5 312h.1M249 302.5h.1M244 260h.1M240.5 309.5h.1M243.5 300.5h.1M240 301.5h.1M271 277h.1M244.5 257h.1M252.5 301h.1M242.5 260.5h.1M243.5 294.5h.1M252 270.5h.1M244.5 297h.1M250 245h.1M241 280h.1M244.5 274h.1M246.5 296.5h.1M257 294.5h.1M241.5 252.5h.1M243.5 291h.1M243 295h.1M245.5 314h.1M240.5 267h.1M261 305h.1M246.5 314h.1M248 303.5h.1M268 273h.1M254.5 268.5h.1M255 308h.1M244.5 271h.1M252 301.5h.1M243 280h.1M243 298.5h.1M255.5 307h.1M245 300h.1M276.5 311h.1M264.5 309h.1M241 297h.1M241.5 285.5h.1M272.5 285.5h.1M247 272h.1M266.5 305.5h.1M244 283h.1M266.5 301h.1M242.5 307.5h.1M241 282h.1M249 269.5h.1M240.5 309h.1M241 306h.1M246.5 299h.1M240.5 314.5h.1M254 291h.1M267.5 311.5h.1M241 293h.1M242 314.5h.1M243.5 299.5h.1M242 297h.1M245 287.5h.1M244.5 272.5h.1M247 222h.1M263.5 310.5h.1M243.5 276h.1M260.5 286h.1M244 277.5h.1M244.5 307h.1M247.5 309.5h.1M254.5 280h.1M241.5 258.5h.1M244.5 308h.1M256.5 311h.1M245 288h.1M243.5 292h.1M252 297.5h.1M251 312.5h.1M256.5 312h.1M243.5 281h.1M260 306h.1M241.5 312h.1M241 301h.1M241.5 279.5h.1M253.5 307.5h.1M260.5 242h.1M245 278h.1M244 286h.1M241 260h.1M242 291h.1M244.5 298.5h.1M255 312h.1M248 276h.1M241.5 280h.1M247.5 313h.1M246.5 302.5h.1M243.5 297.5h.1M244 309h.1M245 312.5h.1M240.5 298h.1M240 311h.1M240.5 300.5h.1M241.5 309.5h.1M253.5 305.5h.1M247.5 308.5h.1M240 310.5h.1M242 305.5h.1M241.5 307h.1M244 312h.1M243.5 309h.1M243.5 304.5h.1M246.5 260h.1M243 304.5h.1M241.5 306.5h.1M242.5 312h.1M240.5 304.5h.1M241 301.5h.1M241 304h.1M246.5 301h.1M245.5 302.5h.1M241.5 300h.1M241 292.5h.1M241 312h.1M241.5 306h.1M243 311.5h.1M240.5 303h.1M240.5 310h.1M241.5 295h.1M244 302.5h.1M242.5 309h.1M240 312h.1M240.5 312.5h.1M242.5 287.5h.1M242.5 307.5h.1M241.5 301h.1M245 307.5h.1M241.5 312h.1M243 292h.1M242 310.5h.1M241 311.5h.1M246.5 312h.1M240.5 304.5h.1M242 310.5h.1M242 309.5h.1M241.5 312.5h.1M243.5 310h.1M241.5 310h.1M250.5 312.5h.1M241.5 309.5h.1M242.5 306.5h.1M241.5 303h.1M241 308.5h.1M240.5 299h.1M241.5 306.5h.1M240.5 311.5h.1M240 311.5h.1M240 312h.1M240.5 306.5h.1M242 310h.1M240 289h.1M245.5 303.5h.1M240.5 302.5h.1M247 311.5h.1M241 305.5h.1M241 301h.1M242.5 312h.1M246 308.5h.1M240.5 305.5h.1M241 289h.1M241 311h.1M241 312h.1M241.5 298.5h.1M244 312h.1M242 306h.1M241.5 312.5h.1M244.5 312h.1M243 307h.1M244 310.5h.1M242.5 311h.1M241 308.5h.1M241.5 310.5h.1M244.5 278h.1M240 304h.1M241.5 312h.1M241 312h.1M241 310.5h.1M240.5 298.5h.1M241.5 306.5h.1M240 310.5h.1M241.5 300h.1M246.5 310.5h.1M244.5 311h.1M241.5 292.5h.1M241 310.5h.1M241.5 310.5h.1M242.5 306.5h.1M243.5 301.5h.1M246 308.5h.1M242.5 309h.1M250 307.5h.1M240.5 309.5h.1M241.5 303.5h.1M241.5 299h.1M241.5 306h.1M242.5 294h.1M240 300h.1M242 310h.1M242.5 311.5h.1M240.5 312.5h.1M241.5 304h.1M244 307h.1M246.5 308.5h.1M241 307.5h.1M242 310h.1M251.5 290.5h.1M240.5 307h.1M241 309h.1M245 309h.1M249 310.5h.1M242 300h.1M242.5 304.5h.1M240 311h.1M241.5 309h.1M285 297h.1M269.5 304.5h.1M285 305.5h.1M262.5 302.5h.1M273 297h.1M280.5 307.5h.1M268.5 302.5h.1M259.5 304h.1M276.5 295.5h.1M272.5 310.5h.1M268 302.5h.1M282 303.5h.1M263 312h.1M257 308.5h.1M259.5 303.5h.1M241.5 302.5h.1M259 314.5h.1M252.5 309.5h.1M284.5 307.5h.1M270.5 305.5h.1M281 302.5h.1M291 299h.1M278.5 294h.1M272 292h.1M286.5 293h.1M267.5 298.5h.1M291 288.5h.1M275.5 296.5h.1M269 289.5h.1M297 311h.1M268 300.5h.1M286.5 300.5h.1M266.5 300.5h.1M254.5 295h.1M278.5 307.5h.1M301 297h.1M272 292.5h.1M288 306h.1M282.5 300.5h.1M269.5 298.5h.1M298.5 296.5h.1M299.5 298h.1M265.5 295h.1" stroke="#000" stroke-opacity="0.15" stroke-width="1.3" stroke-linecap="round" fill="none"/><path d="M240.5 281h.1M243 285h.1M262 300h.1M243.5 270h.1M249.5 245h.1M270 312.5h.1M259 274h.1M241 300h.1M242 301h.1M244.5 264.5h.1M247 234h.1M258.5 264.5h.1M247 296h.1M242 240h.1M241.5 280h.1M250 290.5h.1M240.5 299.5h.1M245 294h.1M271 309h.1M277 216.5h.1M243.5 301h.1M242.5 271.5h.1M247.5 312.5h.1M244.5 276.5h.1M246 299.5h.1M262 293h.1M240 271.5h.1M245 306.5h.1M241.5 310.5h.1M255 306h.1M262.5 307.5h.1M249.5 293h.1M242 235.5h.1M252 305h.1M274 299h.1M240.5 307.5h.1M244.5 291h.1M244.5 255.5h.1M246.5 313.5h.1M244.5 288h.1M257 258h.1M247.5 279.5h.1M246 276h.1M259 241.5h.1M252 288h.1M258 293.5h.1M251.5 271h.1M260 311h.1M294 292h.1M240.5 298h.1M243.5 312h.1M245 296h.1M241.5 271h.1M242 301.5h.1M250.5 265.5h.1M253.5 310.5h.1M240.5 303h.1M242 298h.1M259.5 313.5h.1M244.5 303h.1M242 310.5h.1M249.5 289h.1M246 253h.1M240.5 312.5h.1M247 304.5h.1M240 291.5h.1M241 287.5h.1M251 299h.1M243.5 309h.1M255 302.5h.1M255 306h.1M245 287h.1M255 304h.1M240.5 241.5h.1M246 302.5h.1M244 309h.1M241 309.5h.1M257 309.5h.1M246 309.5h.1M247 231.5h.1M252 269.5h.1M261.5 291h.1M247.5 311h.1M272.5 313h.1M301.5 230.5h.1M240 301h.1M262.5 290h.1M241.5 290.5h.1M243 312h.1M248 283h.1M261.5 302h.1M245 283h.1M240 291.5h.1M250 258h.1M244 288.5h.1M246 231.5h.1M240 249.5h.1M244.5 303.5h.1M244.5 306.5h.1M261.5 295.5h.1M247.5 308.5h.1M240.5 298.5h.1M270.5 261.5h.1M243 281.5h.1M258 265.5h.1M243 302h.1M245.5 305.5h.1M243 292h.1M240.5 283.5h.1M249 277h.1M241.5 308h.1M257.5 311.5h.1M246.5 309h.1M243 293h.1M241 287.5h.1M242.5 285h.1M244 289.5h.1M265.5 305h.1M259.5 309.5h.1M258 305h.1M254 314.5h.1M253 311.5h.1M241 289.5h.1M242 305h.1M240.5 299.5h.1M244.5 303h.1M241.5 306h.1M244.5 290.5h.1M241.5 303h.1M240.5 300.5h.1M245.5 304h.1M257.5 303.5h.1M260 300.5h.1M247 308.5h.1M290.5 287.5h.1M246.5 263h.1M269 298h.1M241.5 311h.1M244.5 286h.1M257 269.5h.1M241 301.5h.1M242.5 312.5h.1M269 292h.1M240 314h.1M248.5 291.5h.1M241 293.5h.1M253.5 302.5h.1M240.5 297h.1M240 289h.1M272.5 314.5h.1M254.5 252.5h.1M240.5 309.5h.1M244.5 283h.1M244.5 311h.1M241.5 283h.1M243.5 257h.1M244 291h.1M240.5 255h.1M259.5 298.5h.1M241.5 286h.1M241 303h.1M243.5 252h.1M241 258h.1M243 294h.1M244 298h.1M251 286h.1M241 300h.1M241.5 282.5h.1M242.5 237.5h.1M247 295h.1M248.5 312h.1M248 299.5h.1M268 263.5h.1M241.5 288h.1M244 280.5h.1M245 300h.1M241 300h.1M246 311.5h.1M250 248.5h.1M265.5 257.5h.1M246 297.5h.1M246 300.5h.1M243.5 249h.1M242.5 308h.1M260.5 292h.1M247.5 269.5h.1M240.5 288h.1M263 281h.1M243 277.5h.1M245 312.5h.1M241 313h.1M254 248.5h.1M243 285.5h.1M244.5 288h.1M265 312.5h.1M243 240h.1M249.5 289h.1M245 222h.1M241.5 230h.1M240.5 313h.1M241 312.5h.1M242 306h.1M256.5 274.5h.1M243 313.5h.1M249 288h.1M246.5 311h.1M246.5 282.5h.1M253.5 312.5h.1M243 298h.1M256 298h.1M250.5 313h.1M273 297.5h.1M242 314h.1M244.5 300.5h.1M245 306.5h.1M244 313.5h.1M240.5 266.5h.1M246.5 261h.1M249 314.5h.1M245 314.5h.1M240.5 301.5h.1M245 291h.1M243 278h.1M248.5 262.5h.1M240 286.5h.1M240.5 296.5h.1M241.5 270.5h.1M248 307h.1M242 313h.1M257 303h.1M248 307.5h.1M260 253h.1M249 223h.1M250 314h.1M242 293h.1M246.5 285.5h.1M244 291.5h.1M244 313.5h.1M258.5 292h.1M264 308.5h.1M244.5 312h.1M240 308h.1M244.5 311.5h.1M243 303.5h.1M251.5 297h.1M242.5 285.5h.1M241 304h.1M266 294h.1M242.5 300h.1M244.5 293h.1M258 306.5h.1M243 268.5h.1M243 298.5h.1M245.5 313h.1M246.5 313.5h.1M242.5 308h.1M275 285.5h.1M242.5 254h.1M240 289.5h.1M262 311h.1M242 305h.1M241.5 311.5h.1M260 301h.1M251 308.5h.1M253 310.5h.1M240.5 289h.1M242 313h.1M244.5 262.5h.1M241 260h.1M249 304h.1M242.5 314.5h.1M246 263.5h.1M250 303h.1M267 306h.1M241 311.5h.1M251 295h.1M248 255h.1M243 297.5h.1M242.5 281h.1M244.5 287h.1M241 275h.1M247 289h.1M240 290h.1M245 314.5h.1M242 302.5h.1M249.5 305.5h.1M242.5 292h.1M241.5 308h.1M249.5 311h.1M244.5 288h.1M241 310.5h.1M249 310.5h.1M271.5 288h.1M249 314h.1M243 308h.1M242.5 289h.1M247.5 308h.1M274 313.5h.1M250.5 314h.1M243 291.5h.1M243 304.5h.1M243 288h.1M243.5 276.5h.1M263 304.5h.1M241.5 278h.1M244 295h.1M242.5 301h.1M301.5 305.5h.1M241 307.5h.1M273.5 310.5h.1M241 298.5h.1M241 301.5h.1M252 244h.1M241 303h.1M243 297h.1M245.5 300.5h.1M240 299.5h.1M246 294h.1M253.5 279.5h.1M252 296h.1M244 308.5h.1M270.5 299h.1M261 289.5h.1M253 309h.1M259 284h.1M241.5 300h.1M246.5 304h.1M245.5 310h.1M240 304h.1M249.5 286h.1M253 267.5h.1M240.5 244h.1M245 303.5h.1M242 265h.1M248 304h.1M251.5 294.5h.1M249 252.5h.1M244.5 268.5h.1M242 298h.1M240.5 277h.1M242 312.5h.1M246.5 312h.1M242.5 258h.1M241.5 300.5h.1M241 314.5h.1M274.5 274h.1M253 271h.1M273 308.5h.1M241.5 299.5h.1M248.5 233.5h.1M254.5 276.5h.1M241.5 291h.1M240 309h.1M240.5 309.5h.1M245.5 291.5h.1M249.5 314.5h.1M240.5 297h.1M240 295h.1M244.5 304h.1M251 257.5h.1M242 272h.1M248.5 273h.1M241.5 284.5h.1M263 297.5h.1M284 311.5h.1M246 304h.1M243.5 295h.1M289.5 283h.1M240.5 295.5h.1M243.5 218.5h.1M240 243h.1M243.5 300.5h.1M255 302.5h.1M244 310h.1M283 302h.1M243.5 311.5h.1M244 312h.1M243 314h.1M286 313.5h.1M244.5 259h.1M243 286.5h.1M243 288h.1M252.5 243h.1M241 309.5h.1M258 300.5h.1M263.5 285.5h.1M247.5 290h.1M251 306h.1M247.5 311.5h.1M244 310.5h.1M245 291.5h.1M243.5 287h.1M242 313h.1M246 295.5h.1M242 296h.1M253 314.5h.1M245 308h.1M245 290h.1M241 273.5h.1M242.5 307h.1M240 301.5h.1M253 309.5h.1M244 301h.1M248 301.5h.1M254.5 304h.1M241.5 265.5h.1M241.5 263.5h.1M241.5 300.5h.1M251.5 303h.1M247.5 311h.1M241.5 270h.1M256 294.5h.1M240 219.5h.1M246.5 277h.1M251.5 313h.1M240 285.5h.1M256 250.5h.1M246 284h.1M245 264.5h.1M243 290.5h.1M240.5 291.5h.1M244.5 294.5h.1M243 229.5h.1M242.5 280.5h.1M240.5 243.5h.1M258 307.5h.1M242.5 311h.1M240 284.5h.1M245 306h.1M247.5 311h.1M244.5 291h.1M249 303.5h.1M251 289h.1M244.5 300.5h.1M245.5 267h.1M249 291h.1M242.5 311h.1M241 231h.1M242.5 304h.1M251.5 306.5h.1M246 297.5h.1M242.5 211.5h.1M240 296.5h.1M240 297h.1M252 288h.1M245 306h.1M262.5 312.5h.1M262 304h.1M247 296.5h.1M245.5 304.5h.1M242 292h.1M244 312h.1M279 274.5h.1M244 233h.1M243 300h.1M243.5 311.5h.1M246 293.5h.1M245.5 300.5h.1M241 311.5h.1M241 304.5h.1M245.5 304.5h.1M245.5 301h.1M241.5 311.5h.1M241.5 312h.1M242.5 306h.1M247.5 307h.1M241.5 301h.1M243 295h.1M240.5 312h.1M245.5 297h.1M240.5 302.5h.1M247 310h.1M244.5 312.5h.1M240 310h.1M241.5 311.5h.1M241.5 302h.1M243 307h.1M240.5 300h.1M240 308h.1M243 302.5h.1M241.5 304.5h.1M241.5 302.5h.1M241 312.5h.1M242 310.5h.1M250 311.5h.1M241.5 310h.1M240.5 308.5h.1M242 299h.1M244 312.5h.1M243.5 305.5h.1M242 301h.1M240.5 305.5h.1M243 309.5h.1M246 309.5h.1M241.5 306h.1M241.5 307h.1M240.5 306.5h.1M246.5 312.5h.1M241.5 305.5h.1M242 302h.1M240.5 310.5h.1M243 308h.1M240.5 310.5h.1M241.5 312h.1M240.5 304.5h.1M242 312.5h.1M240.5 312h.1M244.5 308h.1M240.5 307h.1M241 310h.1M242.5 305.5h.1M242 304h.1M242.5 302.5h.1M241.5 305h.1M243 306h.1M242.5 312.5h.1M240 307h.1M242 305.5h.1M241.5 310.5h.1M240.5 300h.1M241 310.5h.1M245.5 306h.1M242.5 305h.1M245.5 310.5h.1M241 303.5h.1M242.5 312h.1M241 312.5h.1M242 305h.1M242 312.5h.1M240 311.5h.1M242 302.5h.1M244.5 308h.1M245.5 296.5h.1M241.5 311.5h.1M242 309.5h.1M241 309.5h.1M240.5 309h.1M247 311.5h.1M245.5 306h.1M241 311.5h.1M241.5 303.5h.1M243 301.5h.1M242.5 304h.1M241 310.5h.1M240 306.5h.1M241 311.5h.1M242.5 309.5h.1M240.5 311h.1M241.5 312h.1M241.5 305h.1M242 291.5h.1M244 312h.1M245 296h.1M242 306.5h.1M240.5 310h.1M241.5 306.5h.1M240.5 299.5h.1M240.5 310h.1M241.5 283h.1M241 305h.1M240.5 303h.1M241.5 307.5h.1M240.5 304h.1M241 311.5h.1M240.5 303.5h.1M240 311h.1M243 309h.1M240.5 312.5h.1M242 306.5h.1M241.5 301.5h.1M241.5 301h.1M242 289.5h.1M242.5 306.5h.1M242.5 303.5h.1M241 307h.1M242 311.5h.1M246.5 298.5h.1M242.5 312.5h.1M243.5 312.5h.1M241 312.5h.1M240.5 311h.1M240 311.5h.1M242.5 311.5h.1M242.5 307.5h.1M292 298.5h.1M275 292h.1M298 301h.1M292 296.5h.1M295.5 314h.1M263.5 299h.1M269 294.5h.1M289 309h.1M291.5 303h.1M260 296.5h.1M253 307.5h.1M253.5 301h.1M269 300.5h.1M282.5 295.5h.1M246 291h.1M281.5 295.5h.1M274.5 286.5h.1M263 306h.1M264 303.5h.1M286 311h.1M265.5 303.5h.1M260 298h.1M285 291.5h.1M302.5 296.5h.1M278.5 302h.1M271.5 280.5h.1M295.5 298.5h.1M261 302h.1M274.5 303h.1M260.5 295h.1M280.5 298h.1M284.5 290h.1M277 309h.1M270 296.5h.1M295.5 300h.1M287 294.5h.1M259 300.5h.1M300 305h.1" stroke="#000" stroke-opacity="0.3" stroke-width="1.3" stroke-linecap="round" fill="none"/><path d="M253.5 214h.1M243 312.5h.1M240 266h.1M245.5 287h.1M241.5 313.5h.1M256.5 300.5h.1M249 311h.1M245 298.5h.1M253 303.5h.1M241.5 267.5h.1M241 263h.1M240.5 312h.1M240.5 298h.1M249.5 301h.1M240 301h.1M244 283h.1M246.5 310.5h.1M250 304h.1M241.5 230h.1M243 295h.1M241 307.5h.1M252.5 296.5h.1M250 308.5h.1M262.5 303h.1M246.5 278.5h.1M260.5 314.5h.1M241.5 311h.1M244 297.5h.1M285.5 296.5h.1M241.5 289h.1M245 307.5h.1M242 227.5h.1M243 275.5h.1M241 261h.1M248 260h.1M241.5 255.5h.1M240.5 297.5h.1M254.5 245.5h.1M246 279.5h.1M248 313.5h.1M245 292h.1M246 310.5h.1M269.5 312.5h.1M267.5 282.5h.1M248 266.5h.1M255.5 275.5h.1M258.5 302h.1M243 300h.1M243 309h.1M250 300h.1M246 292.5h.1M247.5 287.5h.1M246.5 239h.1M245 272h.1M240 306h.1M271 302.5h.1M246.5 267.5h.1M266 285h.1M246 314.5h.1M242.5 290h.1M243 304.5h.1M246 314h.1M240.5 311.5h.1M263 296.5h.1M240 298h.1M241 294.5h.1M250.5 285.5h.1M240 310h.1M240.5 309.5h.1M249.5 311h.1M247 304.5h.1M257.5 313.5h.1M246 234h.1M251 303h.1M249.5 310.5h.1M240.5 230.5h.1M243.5 289.5h.1M243.5 304.5h.1M244.5 308.5h.1M244.5 306h.1M260.5 298.5h.1M253 311.5h.1M243.5 312h.1M246.5 274h.1M249 303h.1M252 311.5h.1M241 260.5h.1M246.5 305h.1M254 249h.1M247 305.5h.1M244 307.5h.1M240.5 298.5h.1M246 295.5h.1M254 295h.1M241 217h.1M251.5 300h.1M240.5 309h.1M248 300h.1M240 280.5h.1M261.5 273h.1M241.5 293h.1M248.5 308.5h.1M243.5 307h.1M243.5 234.5h.1M240 299.5h.1M255.5 220h.1M258 310h.1M242.5 270h.1M260 286h.1M243 239.5h.1M248 260h.1M242.5 285h.1M246 305.5h.1M249 296h.1M242 293.5h.1M240.5 297.5h.1M257 278.5h.1M244 291.5h.1M240 293.5h.1M243 292h.1M244 289.5h.1M240.5 297h.1M244.5 307.5h.1M271 306.5h.1M271 274h.1M262 310.5h.1M246 302h.1M245.5 309.5h.1M254.5 280.5h.1M250 305h.1M241.5 309h.1M245.5 312.5h.1M252.5 303h.1M240.5 298h.1M255.5 293.5h.1M272 312h.1M246 274.5h.1M244 313.5h.1M270.5 237.5h.1M245.5 309h.1M240.5 293.5h.1M257 240.5h.1M240 299.5h.1M255 295h.1M246 300h.1M247.5 309.5h.1M246 267.5h.1M249 298.5h.1M242.5 303h.1M242.5 255.5h.1M240.5 273h.1M244.5 266.5h.1M242 274h.1M260 299h.1M242.5 309h.1M240 305h.1M241 292.5h.1M267 289h.1M251.5 295.5h.1M241.5 305h.1M241 224h.1M243.5 309h.1M242 312.5h.1M244.5 295.5h.1M253.5 285.5h.1M262.5 268h.1M247 313h.1M243 294.5h.1M241.5 238.5h.1M246.5 286.5h.1M243 310h.1M247 306h.1M242.5 290h.1M250.5 228.5h.1M260 310h.1M241.5 304.5h.1M241.5 288h.1M251 300h.1M247.5 292h.1M250.5 245.5h.1M251 305.5h.1M241.5 286h.1M246 301.5h.1M243.5 303h.1M246 304h.1M240.5 297.5h.1M249 295h.1M242.5 270h.1M277.5 311.5h.1M241 272h.1M241.5 303.5h.1M294 311.5h.1M247 312h.1M247 299.5h.1M254.5 277.5h.1M249.5 287h.1M245.5 298h.1M241.5 236h.1M258.5 290.5h.1M241 287h.1M244.5 284h.1M246 255h.1M246 297h.1M244 304.5h.1M244 307.5h.1M242 260.5h.1M244 296h.1M273.5 281.5h.1M241.5 307.5h.1M242 307h.1M241 250.5h.1M251.5 306.5h.1M242 288h.1M245.5 274h.1M240.5 258h.1M245 313.5h.1M241 307.5h.1M271 304h.1M240 302.5h.1M275 286.5h.1M245.5 291.5h.1M255 307h.1M254.5 304.5h.1M247 292.5h.1M249.5 314.5h.1M243 305.5h.1M252.5 266.5h.1M242 309h.1M240.5 211.5h.1M248 279.5h.1M257.5 274h.1M247 213h.1M246.5 296.5h.1M248 300h.1M245 255.5h.1M246.5 294h.1M242.5 307h.1M241 295h.1M245.5 283.5h.1M252.5 293h.1M247.5 281h.1M246 306h.1M249 313h.1M248 281h.1M240.5 251.5h.1M246.5 293h.1M253 313h.1M254.5 311.5h.1M243 283h.1M247.5 263.5h.1M253.5 273h.1M242.5 306.5h.1M244 232.5h.1M241.5 314h.1M245 298h.1M250 314h.1M244 308h.1M240 263.5h.1M247.5 307.5h.1M263.5 311.5h.1M247 308.5h.1M241.5 304.5h.1M247.5 286.5h.1M255.5 248.5h.1M258 301.5h.1M240 284h.1M243 299.5h.1M241 280h.1M292 312.5h.1M259.5 294h.1M253.5 305h.1M243 311.5h.1M240.5 286h.1M250 308h.1M243 310.5h.1M254.5 299.5h.1M243 312.5h.1M243.5 261.5h.1M262.5 288h.1M241 296h.1M240.5 294h.1M242.5 308.5h.1M244 298.5h.1M244 292.5h.1M271 246.5h.1M241 301h.1M281 314.5h.1M254.5 304.5h.1M250 259h.1M248.5 313.5h.1M244.5 311h.1M251 302h.1M242.5 310.5h.1M247 261.5h.1M249.5 266h.1M248 291h.1M241 311h.1M252.5 293h.1M251 308.5h.1M245.5 274h.1M243.5 283h.1M241 258h.1M254.5 304.5h.1M245 313h.1M257.5 288h.1M243 289.5h.1M247 309h.1M242.5 294.5h.1M243.5 213h.1M241 292.5h.1M257 310.5h.1M242.5 284h.1M248 218.5h.1M249 273h.1M244.5 304.5h.1M243.5 226h.1M241 267.5h.1M246 309h.1M267 306h.1M253.5 286h.1M240 252h.1M245 261.5h.1M268 310h.1M244 264.5h.1M240 304h.1M240.5 278h.1M246 293h.1M243.5 287h.1M253 291h.1M243 302h.1M245 311.5h.1M242 312.5h.1M254.5 313.5h.1M246 296.5h.1M240 313h.1M244.5 298.5h.1M252.5 312.5h.1M240 299h.1M240.5 305.5h.1M240 216.5h.1M243.5 248.5h.1M242 310h.1M240.5 307.5h.1M242.5 297.5h.1M248 290h.1M240 306h.1M240.5 292.5h.1M249.5 289.5h.1M247.5 303h.1M248.5 304h.1M257 308h.1M240 303.5h.1M240 277h.1M255.5 311.5h.1M244.5 268.5h.1M246.5 313h.1M254 312.5h.1M243 263h.1M263 291h.1M246.5 301h.1M243 313.5h.1M248 309h.1M242 311.5h.1M245.5 308h.1M259.5 314.5h.1M247 303h.1M262 300h.1M243.5 275.5h.1M244 286h.1M252 297.5h.1M264 313.5h.1M241.5 286.5h.1M243 303h.1M258.5 310.5h.1M263 313.5h.1M249.5 313.5h.1M241.5 297h.1M246 308h.1M251.5 302.5h.1M252 309.5h.1M246 311.5h.1M263.5 297h.1M240 307.5h.1M242 313.5h.1M242 292h.1M263.5 306.5h.1M244 281h.1M243.5 225h.1M271.5 311h.1M281.5 306h.1M259.5 295h.1M243.5 266h.1M240.5 302h.1M289.5 308.5h.1M249.5 311h.1M247 293.5h.1M245 295.5h.1M249.5 305.5h.1M241 290h.1M240.5 289.5h.1M240.5 313h.1M248.5 312.5h.1M241 276h.1M256.5 310.5h.1M260.5 237h.1M240 270.5h.1M245 314.5h.1M245.5 294.5h.1M246 294h.1M242.5 313h.1M246 292.5h.1M247.5 283.5h.1M241 281.5h.1M244.5 253h.1M240.5 311.5h.1M241 309h.1M241.5 303.5h.1M241.5 294.5h.1M244.5 310.5h.1M272.5 265.5h.1M247.5 289.5h.1M249 313.5h.1M241.5 309.5h.1M243.5 301h.1M245.5 281.5h.1M246.5 307h.1M241 311h.1M241 305.5h.1M242 309.5h.1M247 311.5h.1M242.5 312h.1M242 309h.1M241 310h.1M241 311h.1M245 305.5h.1M242 311h.1M245 309.5h.1M241 306.5h.1M242.5 298.5h.1M242 288.5h.1M242 311h.1M240.5 303h.1M249.5 310h.1M242.5 309.5h.1M241.5 312h.1M240.5 295h.1M242.5 311.5h.1M244.5 303.5h.1M240 311.5h.1M240.5 302.5h.1M240.5 295.5h.1M240.5 308.5h.1M242.5 302h.1M241.5 294.5h.1M240.5 305h.1M241.5 307.5h.1M241 311h.1M241 297.5h.1M241 312h.1M240 295.5h.1M241.5 311h.1M240.5 299h.1M240 299h.1M242 305.5h.1M242.5 312h.1M241 307h.1M246 309h.1M242 309h.1M246.5 301.5h.1M243 311h.1M242.5 297.5h.1M243.5 297h.1M244.5 312h.1M242 304.5h.1M241 303.5h.1M241.5 310.5h.1M242.5 302.5h.1M241.5 305h.1M240.5 288.5h.1M241.5 281.5h.1M241 292.5h.1M244.5 301.5h.1M241 311.5h.1M242 305.5h.1M242.5 300.5h.1M240.5 308h.1M243 310h.1M244.5 305h.1M242.5 310.5h.1M241.5 298.5h.1M242 308.5h.1M243.5 294h.1M249.5 311h.1M241 302h.1M241.5 308.5h.1M245 290h.1M240 306.5h.1M240.5 311.5h.1M242.5 297h.1M243.5 300.5h.1M240.5 311.5h.1M243 310h.1M240 307.5h.1M243 309.5h.1M243 310h.1M243 308.5h.1M243 306h.1M240 304.5h.1M241 307.5h.1M241 298.5h.1M243.5 307h.1M242.5 307h.1M242.5 309h.1M240.5 296.5h.1M243 304h.1M241 306.5h.1M244 307h.1M240.5 308.5h.1M241 294.5h.1M240.5 303h.1M241.5 310.5h.1M247 307h.1M246 308.5h.1M240.5 309.5h.1M240.5 306h.1M240.5 310h.1M242 302.5h.1M241 308h.1M241.5 308.5h.1M242 307.5h.1M244 311.5h.1M277.5 293h.1M277.5 302.5h.1M260 303h.1M298 291.5h.1M265.5 296.5h.1M299.5 293h.1M279 298h.1M257 305h.1M259 298h.1M292.5 295h.1M271.5 296.5h.1M288.5 306.5h.1M273 297h.1M272 299.5h.1M282 302.5h.1M270 300h.1M287.5 288.5h.1M282.5 300h.1M255.5 299.5h.1M251 294.5h.1M271.5 308h.1M275 300h.1M251.5 297.5h.1M275.5 306h.1M279.5 302h.1M286.5 300.5h.1M267 287.5h.1M250 294h.1M266.5 297h.1" stroke="#000" stroke-opacity="0.45" stroke-width="1.3" stroke-linecap="round" fill="none"/><path d="M241 314h.1M244.5 310h.1M241 300h.1M251 311h.1M252.5 314h.1M247 305h.1M247.5 280h.1M247 280.5h.1M250 311h.1M245 283h.1M242 314h.1M270 299.5h.1M265.5 272h.1M268 307.5h.1M288.5 294.5h.1M240 300h.1M245 274h.1M248.5 297h.1M241 265h.1M241.5 301.5h.1M253 296h.1M244.5 289.5h.1M254 302.5h.1M240 306h.1M244.5 312.5h.1M258 299.5h.1M241.5 306h.1M242 234.5h.1M240 304.5h.1M241.5 297.5h.1M253.5 289h.1M241 227h.1M245 298h.1M244 258.5h.1M262.5 282h.1M247 308.5h.1M241 264.5h.1M242.5 294h.1M255.5 302h.1M241.5 295.5h.1M259 314h.1M257 302h.1M258 314h.1M241 300.5h.1M257.5 298h.1M244.5 304.5h.1M243.5 295.5h.1M253 285h.1M245 302.5h.1M242 253.5h.1M246 314h.1M244 263.5h.1M252 304h.1M252 304h.1M262.5 305h.1M269.5 308h.1M247.5 313.5h.1M249.5 280h.1M266 312.5h.1M244 250h.1M250 294.5h.1M252 301h.1M265 285h.1M264.5 294h.1M260 304.5h.1M257.5 268.5h.1M252.5 313.5h.1M254 310h.1M250.5 300.5h.1M255.5 310.5h.1M255.5 312h.1M245 244h.1M241 219.5h.1M250 288h.1M252 272h.1M241.5 308.5h.1M244.5 248h.1M255.5 261h.1M242 238.5h.1M245.5 296.5h.1M246 313h.1M247.5 274h.1M282 298.5h.1M272 308h.1M240.5 287h.1M253 300.5h.1M247.5 308h.1M273 314.5h.1M246 307h.1M240.5 302h.1M272 265h.1M244 301h.1M241.5 295.5h.1M266 276.5h.1M254.5 298.5h.1M242.5 314h.1M244 290h.1M242 286.5h.1M241.5 288.5h.1M245.5 291.5h.1M245 310h.1M247.5 289.5h.1M241.5 258.5h.1M243.5 282h.1M251 265.5h.1M246.5 276.5h.1M251.5 280h.1M242 306h.1M249.5 309h.1M241.5 291.5h.1M244.5 307h.1M279.5 293h.1M246 306h.1M243 291.5h.1M240 310h.1M243.5 304.5h.1M242 308h.1M245 257h.1M244.5 282.5h.1M257.5 314h.1M242 275h.1M242 272h.1M282 305h.1M273.5 306h.1M254 295.5h.1M241 308h.1M241.5 306h.1M242 288h.1M242 219.5h.1M240.5 262h.1M246.5 291h.1M249 300h.1M253.5 288.5h.1M244.5 296h.1M244 269.5h.1M244.5 295h.1M254.5 313.5h.1M250 301h.1M266.5 309.5h.1M240.5 308h.1M243 239.5h.1M252 215.5h.1M244.5 271h.1M242.5 299.5h.1M240 312h.1M242 221.5h.1M254 279.5h.1M241.5 270.5h.1M240.5 300h.1M240 294h.1M256.5 217h.1M244.5 312h.1M249 308.5h.1M245 301.5h.1M243.5 270h.1M240 306h.1M280.5 310h.1M240 285h.1M241.5 306h.1M250 252.5h.1M240.5 287.5h.1M249.5 308.5h.1M254 308h.1M243 262h.1M243 298h.1M246.5 307.5h.1M242.5 308.5h.1M244 314h.1M247.5 279h.1M250.5 256.5h.1M244 306h.1M260.5 289h.1M242.5 288h.1M240 298h.1M240.5 294h.1M240 312.5h.1M243.5 307.5h.1M246 285.5h.1M241.5 269.5h.1M241.5 307.5h.1M243.5 263h.1M240.5 284.5h.1M251 286.5h.1M248.5 309h.1M248.5 312.5h.1M247 300h.1M250.5 298.5h.1M252.5 301h.1M259 289.5h.1M242 303h.1M255.5 282.5h.1M254 243.5h.1M241 299h.1M242 279h.1M254.5 296.5h.1M254.5 309h.1M240.5 280h.1M245 307.5h.1M248.5 300h.1M250 309.5h.1M271.5 298.5h.1M255.5 310.5h.1M259.5 298.5h.1M245 273.5h.1M242.5 260h.1M242 299.5h.1M241 308h.1M251.5 313h.1M242 313h.1M244.5 254h.1M240.5 313h.1M246.5 305.5h.1M243.5 309.5h.1M241 252.5h.1M240.5 298.5h.1M247.5 295h.1M271.5 291h.1M242 234.5h.1M240.5 308.5h.1M256.5 306h.1M243.5 312.5h.1M240 279h.1M247.5 260h.1M254.5 309h.1M242.5 314.5h.1M255.5 313.5h.1M245 258.5h.1M267.5 307h.1M240.5 310.5h.1M241 303h.1M240.5 300h.1M242.5 278.5h.1M242 309h.1M258 233h.1M243.5 304.5h.1M251 275h.1M250.5 308.5h.1M252 299.5h.1M247 289h.1M242.5 300h.1M246 307h.1M240.5 306.5h.1M244 311h.1M244 305h.1M240.5 311.5h.1M240 312h.1M240 310.5h.1M241.5 295h.1M241 310.5h.1M241.5 294h.1M244 307.5h.1M241 311h.1M243 309.5h.1M241 298h.1M241.5 304.5h.1M240.5 295.5h.1M242 290.5h.1M240.5 308.5h.1M242 291.5h.1M241 310h.1M241 309.5h.1M241 312h.1M240 310.5h.1M241 308.5h.1M242.5 305.5h.1M243.5 306h.1M240.5 308h.1M241 312.5h.1M241 300.5h.1M241 310h.1M241.5 312h.1M245.5 310h.1M240 306h.1M243 310h.1M248.5 302.5h.1M241 308h.1M243.5 309h.1M241.5 312h.1M242.5 297.5h.1M243 303.5h.1M241.5 309h.1M240.5 285h.1M243 296.5h.1M242 312h.1M242.5 311h.1M243 302.5h.1M242.5 310h.1M242.5 303.5h.1M242 311.5h.1M244 305.5h.1M240.5 308h.1M240 309.5h.1M240.5 304h.1M241 306h.1M247 309.5h.1M240.5 306.5h.1M242 298.5h.1M240.5 307.5h.1M243 311.5h.1M242 308.5h.1M240.5 311h.1M240.5 302.5h.1M272 302.5h.1M274.5 296h.1M274.5 308.5h.1M261 309.5h.1M286.5 311.5h.1M271 294.5h.1M296 295.5h.1M280 300h.1M277 300.5h.1M271 294.5h.1M281.5 306h.1M254 292.5h.1M277 288h.1M291 301.5h.1M252 298.5h.1M285 304h.1M260 303h.1M251 311h.1" stroke="#000" stroke-opacity="0.65" stroke-width="1.3" stroke-linecap="round" fill="none"/><path d="M296 307h.1M279.5 227.5h.1M278.5 276.5h.1M309.5 254.5h.1M247 252.5h.1M291 263h.1M282 306h.1M280 249.5h.1M267 297.5h.1M302 248.5h.1M254 281h.1M246 271.5h.1M257.5 290.5h.1M280 229h.1M287 310h.1M255 260h.1M247.5 295.5h.1M275.5 302h.1M310.5 252h.1M317 236h.1M271 284h.1M253.5 315.5h.1M253 252.5h.1M246 238.5h.1M300 239h.1M283.5 221.5h.1M283 229h.1M272.5 265h.1M307.5 272.5h.1M268.5 255.5h.1M304 307h.1M314.5 290.5h.1M299 299h.1M299 242.5h.1M250 270.5h.1M260 232.5h.1M278.5 280.5h.1M255 236.5h.1M252 260.5h.1M268 273.5h.1M293 298.5h.1M259.5 226h.1M314.5 273h.1M279 240.5h.1M279 243.5h.1M309.5 258.5h.1M297 280.5h.1M245 238.5h.1M266.5 273h.1M300.5 241.5h.1M304 214h.1M274.5 288h.1M278.5 249.5h.1M264 242h.1M272.5 314.5h.1M300 258h.1M302 274.5h.1M306 284h.1M257.5 270h.1M296 281.5h.1M293.5 248.5h.1M296 281.5h.1M314.5 271h.1M310.5 222h.1M278 216.5h.1M260.5 312h.1" stroke="#000" stroke-opacity="0.1" stroke-width="1.3" stroke-linecap="round" fill="none"/><path d="M297 298h.1M279 297.5h.1M305 232h.1M316.5 281.5h.1M285.5 300h.1M271 233h.1M251 289h.1M315 221h.1M313 290.5h.1M308.5 273h.1M303.5 234h.1M287 305h.1M304 286.5h.1M258 221h.1M260 213.5h.1M316.5 262.5h.1M279.5 253.5h.1M279.5 238h.1M272.5 214.5h.1M265 287.5h.1M254 230.5h.1M279.5 287.5h.1M313 268.5h.1M309.5 286.5h.1M305 296.5h.1M306 287.5h.1M309 306h.1M302 230.5h.1M249 258h.1M316.5 302.5h.1M247 221h.1M294.5 247.5h.1M267.5 266.5h.1M297.5 263.5h.1M247.5 297.5h.1M307.5 214.5h.1M311.5 308.5h.1M304 247.5h.1M296 281.5h.1M276.5 226.5h.1M306.5 261.5h.1M283 277h.1M246 271h.1M296 222.5h.1" stroke="#000" stroke-opacity="0.2" stroke-width="1.3" stroke-linecap="round" fill="none"/><path d="M258 216h.1M273 230.5h.1M249 231.5h.1M311 283.5h.1M259 234h.1M274 264h.1M244.5 313h.1M313.5 246h.1M316 214h.1M258.5 291.5h.1M291.5 248.5h.1M310 216.5h.1M246 269.5h.1M270.5 266.5h.1M305.5 220.5h.1M275 249h.1M315.5 282.5h.1M295 281.5h.1M258 284.5h.1M314 284h.1M253.5 283h.1M285 309.5h.1M312.5 214h.1M308 294.5h.1M246.5 223h.1M245 296.5h.1M297.5 215h.1M288.5 280.5h.1M279 313h.1M267.5 254.5h.1M303 244.5h.1M271 280h.1M293.5 227.5h.1M261.5 279h.1M281.5 253h.1M293 215.5h.1M287.5 296h.1" stroke="#000" stroke-opacity="0.3" stroke-width="1.3" stroke-linecap="round" fill="none"/><path d="M384 298h.1M380.5 296.5h.1M381.5 310h.1M371 299h.1M379.5 243.5h.1M371 304h.1M377 272.5h.1M370 280.5h.1M377 302.5h.1M397.5 281.5h.1M375 286h.1M370.5 276h.1M386.5 292.5h.1M376.5 301h.1M371 305h.1M378 280.5h.1M372.5 299h.1M373 261h.1M382.5 223h.1M373.5 314h.1M385 306h.1M381 257h.1M384.5 309h.1M375.5 227.5h.1M375 301h.1M371 303h.1M372.5 295h.1M371 245.5h.1M378.5 262h.1M374.5 298h.1M381.5 271.5h.1M381 233.5h.1M372.5 275.5h.1M375.5 291.5h.1M372.5 292.5h.1M372 243.5h.1M370.5 245.5h.1M379.5 307h.1M372.5 298h.1M378 298.5h.1M372.5 309.5h.1M377.5 247.5h.1M375.5 296h.1M381.5 307h.1M371 307h.1M380 259.5h.1M372.5 301h.1M371.5 291.5h.1M374 307h.1M379 242.5h.1M389 301h.1M380 256.5h.1M371 272.5h.1M371 312h.1M375.5 288h.1M387 304h.1M372.5 302h.1M374.5 298h.1M371.5 300.5h.1M371 305h.1M373 310h.1M370.5 300.5h.1M393.5 290.5h.1M372 288h.1M370.5 243.5h.1M385 263h.1M377 302h.1M390.5 293h.1M373 299h.1M383.5 292.5h.1M370.5 288h.1M376 261.5h.1M371.5 295.5h.1M371 251.5h.1M379.5 311h.1M392.5 309.5h.1M378 311h.1M379 240h.1M371.5 248.5h.1M374.5 288.5h.1M388 313h.1M372.5 308.5h.1M384.5 266h.1M373.5 309.5h.1M378 278h.1M379 309h.1M373 308.5h.1M379 290.5h.1M376.5 306.5h.1M383.5 314.5h.1M370.5 304h.1M370 269h.1M374.5 313.5h.1M380.5 258h.1M378 263.5h.1M373.5 285.5h.1M371 290h.1M373 299.5h.1M405 311h.1M376.5 288.5h.1M375.5 270h.1M373 303.5h.1M375.5 292.5h.1M391 282h.1M427.5 305.5h.1M370.5 296.5h.1M398.5 299.5h.1M370.5 273.5h.1M394 308h.1M376 239h.1M374 307h.1M377.5 313.5h.1M371 308h.1M383.5 228h.1M381 309h.1M379.5 302.5h.1M375 309.5h.1M371 284h.1M373 287.5h.1M372 269h.1M372 280h.1M373.5 296h.1M385.5 314.5h.1M374 270.5h.1M371 275.5h.1M374 312h.1M386.5 287.5h.1M373 314.5h.1M371 253.5h.1M376 285.5h.1M387.5 306.5h.1M373.5 298h.1M378 276h.1M372.5 287.5h.1M375 307h.1M370 247h.1M374 302h.1M373 302h.1M377 267.5h.1M370 304h.1M381.5 277h.1M376 280h.1M383.5 288.5h.1M390 232h.1M390.5 280h.1M370 312h.1M376 314h.1M404 312.5h.1M370.5 266.5h.1M382 275h.1M377 277.5h.1M400.5 273h.1M375 214.5h.1M373 309h.1M382 242.5h.1M374.5 286h.1M375 310h.1M376.5 282.5h.1M378.5 259h.1M379.5 290.5h.1M382 247.5h.1M372.5 307.5h.1M373.5 301.5h.1M373.5 259.5h.1M384.5 293.5h.1M377.5 303h.1M374.5 296.5h.1M374 312h.1M370.5 246h.1M373.5 285h.1M372.5 302.5h.1M377 298.5h.1M376.5 289h.1M371.5 270h.1M384 296.5h.1M375.5 247h.1M371.5 302h.1M378 297.5h.1M374 291.5h.1M378 309.5h.1M378.5 274h.1M371.5 275h.1M379 274h.1M372.5 253.5h.1M395.5 283.5h.1M376 300.5h.1M374 269.5h.1M387.5 292h.1M378.5 313h.1M393.5 275.5h.1M374 270.5h.1M419.5 300h.1M372 266h.1M370 301.5h.1M371.5 279h.1M388.5 279.5h.1M375 295.5h.1M375 297h.1M377 314h.1M380 297.5h.1M376 262h.1M382 312h.1M390 299.5h.1M380 286.5h.1M373 231.5h.1M404 306h.1M373 295h.1M371.5 291h.1M372.5 261.5h.1M375.5 265h.1M382 295h.1M370 302h.1M370 285.5h.1M378 307h.1M378.5 290.5h.1M370 275.5h.1M376 268h.1M376 301.5h.1M392.5 305.5h.1M377.5 256h.1M383.5 307.5h.1M391.5 314h.1M372.5 255.5h.1M382 296h.1M380.5 260h.1M372 304h.1M378.5 273.5h.1M373.5 312h.1M371 278h.1M370.5 257h.1M381.5 302h.1M381 284h.1M375.5 275h.1M380 313h.1M373 300h.1M374 288.5h.1M378 312h.1M373 254.5h.1M370.5 292.5h.1M379.5 293.5h.1M371 307.5h.1M380 301.5h.1M378 306h.1M376.5 277h.1M381.5 300h.1M381.5 278h.1M371.5 308.5h.1M372 304h.1M370.5 306.5h.1M377.5 266.5h.1M374 303.5h.1M413.5 309.5h.1M375.5 279h.1M393.5 314h.1M376 281h.1M380.5 275h.1M383 235.5h.1M383 310.5h.1M373 264h.1M376 264h.1M373.5 297.5h.1M377.5 311.5h.1M372 272h.1M372.5 255.5h.1M385.5 282h.1M376 303.5h.1M378.5 305.5h.1M381.5 297h.1M370.5 258h.1M371 288.5h.1M382 263h.1M373 277h.1M370 279h.1M379.5 296h.1M420.5 306.5h.1M371 311.5h.1M377 281.5h.1M382.5 307.5h.1M377 293h.1M388 293h.1M371 311.5h.1M372 293h.1M370.5 286.5h.1M381.5 291h.1M371 298.5h.1M385.5 293h.1M374.5 298.5h.1M375.5 291h.1M374 274.5h.1M372.5 292.5h.1M371.5 300.5h.1M370 302.5h.1M370.5 313.5h.1M372.5 304h.1M373 312.5h.1M375 286h.1M371 277.5h.1M379 259.5h.1M379 275h.1M376.5 294h.1M373 258h.1M372 303h.1M371.5 242.5h.1M384 312.5h.1M385.5 282.5h.1M380.5 299.5h.1M383 236.5h.1M373.5 301h.1M379 284h.1M375.5 310h.1M377 308.5h.1M376.5 313.5h.1M370 296.5h.1M371 298.5h.1M373.5 286.5h.1M373.5 299.5h.1M387 288.5h.1M376 314.5h.1M382.5 301.5h.1M376.5 308.5h.1M370 308.5h.1M372 287h.1M390.5 291h.1M378.5 301h.1M373 285h.1M371 283.5h.1M373.5 308.5h.1M370.5 301.5h.1M374 282.5h.1M374.5 297.5h.1M376.5 229h.1M386 299.5h.1M389 301.5h.1M389 272.5h.1M371.5 301.5h.1M374 235.5h.1M372 286.5h.1M374 313.5h.1M386 255h.1M375 246h.1M381 285.5h.1M378.5 314h.1M378.5 303h.1M384 312h.1M401 314h.1M372.5 309.5h.1M377.5 299.5h.1M373 221.5h.1M371.5 293h.1M374 304h.1M375 236h.1M380.5 288.5h.1M389 261h.1M373.5 271h.1M372.5 296h.1M373.5 301.5h.1M370.5 306h.1M370 290.5h.1M373 311.5h.1M370 303.5h.1M382.5 309h.1M371 289.5h.1M378.5 314h.1M371.5 241.5h.1M385 311.5h.1M376 309.5h.1M372.5 306.5h.1M370.5 292h.1M375 301h.1M370 311.5h.1M391.5 235.5h.1M384.5 270h.1M386 274.5h.1M370.5 305.5h.1M380 299.5h.1M374 231.5h.1M376.5 245h.1M375.5 293h.1M373.5 307h.1M372.5 269h.1M387.5 281h.1M397 244.5h.1M387 309h.1M375.5 313.5h.1M378 266h.1M376.5 289.5h.1M371.5 307.5h.1M377.5 295.5h.1M375 264.5h.1M371 291.5h.1M379.5 293.5h.1M371 302.5h.1M370 274h.1M374.5 289.5h.1M370.5 262.5h.1M382.5 292h.1M383 306.5h.1M381.5 237.5h.1M371 292h.1M378 308h.1M373 298.5h.1M379.5 308.5h.1M397 310.5h.1M376 301h.1M370.5 221h.1M419 312h.1M396 285.5h.1M380.5 266.5h.1M371.5 296.5h.1M372 256.5h.1M372 293.5h.1M404.5 301h.1M370.5 313h.1M398 284.5h.1M372.5 295h.1M370 297h.1M381.5 287.5h.1M378 306h.1M373 278.5h.1M373 295.5h.1M372 288h.1M372 313h.1M374 218.5h.1M375.5 298.5h.1M380 313.5h.1M385 282.5h.1M383.5 308h.1M380.5 280h.1M388.5 292h.1M376 310.5h.1M376 313.5h.1M370.5 313h.1M378 279.5h.1M373 313.5h.1M370 211.5h.1M388 310h.1M376.5 311.5h.1M371.5 305.5h.1M373 284h.1M370.5 297h.1M371 310.5h.1M371 311.5h.1M389 245.5h.1M370 311h.1M372 312h.1M372 283.5h.1M370 283h.1M373.5 263h.1M371 307.5h.1M386 298.5h.1M374 312h.1M371.5 294.5h.1M371 280.5h.1M373 264.5h.1M377 307h.1M373.5 239.5h.1M374.5 285h.1M382.5 228h.1M370.5 312h.1M371 310h.1M373.5 309h.1M371 304.5h.1M372.5 311h.1M371.5 309.5h.1M371 310.5h.1M372 305h.1M377.5 311h.1M371.5 288.5h.1M390 289h.1M377 312.5h.1M376.5 307.5h.1M371 308h.1M370 301.5h.1M371.5 294h.1M370 312h.1M372.5 310h.1M370.5 292h.1M374 310.5h.1M372.5 303.5h.1M370.5 311.5h.1M370.5 307.5h.1M370 306.5h.1M374.5 311h.1M374 310.5h.1M371.5 312h.1M371 308.5h.1M374 301.5h.1M371.5 300h.1M370.5 307h.1M371.5 312h.1M370 275.5h.1M371 289.5h.1M383 299.5h.1M371.5 305.5h.1M370.5 303h.1M374.5 310.5h.1M372 294h.1M374 293h.1M370.5 301.5h.1M371.5 310h.1M373 307h.1M375.5 306h.1M384 307h.1M378 305h.1M372 311.5h.1M380 309h.1M371 309.5h.1M372.5 302.5h.1M373.5 309.5h.1M373 304h.1M374 307.5h.1M380.5 302.5h.1M371.5 311h.1M370.5 307.5h.1M375 303h.1M370.5 311h.1M372 300.5h.1M371 295h.1M381.5 307.5h.1M374 290.5h.1M381.5 311h.1M371 311h.1M370 310h.1M373.5 308.5h.1M370 311h.1M379.5 284h.1M370.5 300.5h.1M373.5 311.5h.1M371.5 305h.1M371 306h.1M372.5 288.5h.1M370.5 312h.1M371.5 310h.1M371 308h.1M373 305h.1M370.5 308.5h.1M376.5 297.5h.1M378 301.5h.1M372.5 305h.1M371.5 297h.1M374 300.5h.1M371 305.5h.1M371.5 308h.1M373.5 302.5h.1M375.5 312h.1M377 287h.1M371 312h.1M370.5 304.5h.1M370.5 305.5h.1M375 309h.1M370.5 312h.1M375 309h.1M370.5 308.5h.1M371 300.5h.1M373 304.5h.1M371.5 306h.1M370.5 310.5h.1M379.5 311.5h.1M370.5 278h.1M377 306h.1M378 307.5h.1M371 297.5h.1M371.5 310h.1M370.5 298.5h.1M375.5 311.5h.1M371.5 311h.1M370.5 302h.1M371 311h.1M373 311.5h.1M374.5 311h.1M378 306h.1M371.5 299.5h.1M370.5 291.5h.1M376.5 311.5h.1M370.5 307.5h.1M372 307.5h.1M370.5 292h.1M412 299h.1M412 295.5h.1M408 302.5h.1M402 301.5h.1M402 307h.1M403 304.5h.1M392 309.5h.1M416 299.5h.1M397 308h.1M390 306h.1M398.5 305.5h.1M388 308h.1M400 301.5h.1M402 302h.1M424 298h.1M399.5 306h.1M404 302h.1M405 306h.1M381 306.5h.1M396.5 306.5h.1M414.5 301h.1M384 311.5h.1M388.5 310.5h.1M399 303h.1M399 303h.1M389 311.5h.1M415.5 298h.1M411.5 300.5h.1M415 301.5h.1M407 297h.1M412 297.5h.1M382 308.5h.1M396.5 305h.1M401.5 305h.1M399.5 298.5h.1M378 309h.1M387.5 310h.1M398.5 303.5h.1M410 303h.1M397 307.5h.1M403.5 303h.1M402.5 303.5h.1M410 297.5h.1M384.5 308.5h.1M405 308.5h.1M413.5 300h.1M401 303.5h.1M398 302h.1M404 309h.1M406.5 305h.1M388.5 307.5h.1M387 307.5h.1M391 305h.1M389.5 312h.1M398 305h.1M393.5 306h.1M399.5 305h.1M397.5 303.5h.1M406.5 304h.1M403.5 306h.1M389.5 306h.1M405 303h.1M405.5 300.5h.1M411.5 301h.1M406 302h.1M395.5 304.5h.1M414.5 300.5h.1M414 299.5h.1M410.5 308.5h.1M411 297.5h.1M407.5 305h.1M398.5 306h.1M414.5 300.5h.1M399.5 307h.1M403 301.5h.1M400 302.5h.1M401.5 304h.1M401.5 306h.1M392 309h.1M406 302.5h.1M388.5 307.5h.1M408.5 300.5h.1M402 300h.1M396.5 305.5h.1M391 306.5h.1M400.5 307h.1M399.5 305.5h.1M401.5 301h.1M415.5 295.5h.1M394.5 307.5h.1M401.5 309h.1M414 298.5h.1M392.5 301.5h.1M401 303h.1M412 300.5h.1M394.5 308.5h.1M390.5 307.5h.1M400 307h.1M413 301.5h.1M394 302.5h.1M398.5 307h.1M398.5 306.5h.1M415 304.5h.1M397 300h.1M394.5 301.5h.1M412 304h.1M389 301h.1M408.5 304h.1M395 306.5h.1M401.5 304.5h.1M400 299h.1M403.5 303h.1M400 304.5h.1M419.5 294.5h.1M404.5 302h.1M400 304.5h.1M401.5 306h.1M404 305.5h.1M435 293.5h.1M410 302.5h.1M407.5 300.5h.1M405.5 303h.1M414 301.5h.1M401 304.5h.1M405.5 303.5h.1M404 297.5h.1M402 302h.1M398 305.5h.1M379.5 312.5h.1M398 302h.1M424 294.5h.1M410.5 297.5h.1M429.5 296h.1M417 302h.1M404 306h.1M393 308h.1M400.5 307h.1M395 307h.1M409.5 297.5h.1M397 306h.1M394 304.5h.1M392 309h.1M397.5 307h.1M404.5 304h.1M412.5 300.5h.1M407 301.5h.1M418.5 296.5h.1M408 298h.1M392.5 306h.1M390.5 309h.1M390.5 306h.1M417.5 301h.1M420.5 301h.1M426.5 300.5h.1M389.5 310.5h.1M406.5 302h.1M408 300.5h.1M407 296h.1M409.5 296h.1M400.5 302.5h.1M421 299h.1M399.5 306.5h.1M384.5 308.5h.1M404 303.5h.1M391 308h.1M398 304.5h.1M391.5 298h.1M386.5 308h.1M411 300h.1M403.5 301.5h.1M408.5 301h.1M398.5 305h.1M400.5 305.5h.1M413 302.5h.1M413 301h.1M385.5 304h.1M416 299h.1M417.5 303.5h.1M400 300.5h.1M401 306.5h.1M373.5 309h.1M397.5 301h.1M387 306h.1M412 301h.1M405 301h.1M407 303.5h.1M392.5 309.5h.1M377.5 307h.1M401.5 303.5h.1M396 306.5h.1M422.5 298.5h.1M365.5 315.5h.1M410 302.5h.1M414.5 299.5h.1M412.5 301.5h.1M409.5 302h.1M418 298h.1M424 294h.1M400.5 298.5h.1M401.5 300h.1M407.5 297h.1M400.5 301.5h.1M409 301.5h.1M399 300.5h.1M403.5 302.5h.1M400 307.5h.1M403 303h.1M398.5 309h.1M416 298h.1M397.5 302.5h.1M392 309.5h.1M396 304h.1M387.5 307.5h.1M410.5 300.5h.1M396 303.5h.1M393 302.5h.1M423 298.5h.1M397.5 302h.1M420 301h.1M393.5 306h.1M413 298.5h.1M405.5 299.5h.1M402 304.5h.1M401 302h.1M404.5 299.5h.1M403.5 307.5h.1M419 301h.1M404.5 302h.1M395 305h.1M396.5 307.5h.1M405 301h.1M411 300h.1M401 305.5h.1M410.5 295.5h.1M397.5 307h.1M405.5 302.5h.1M409.5 292.5h.1M420 301.5h.1M412 302h.1M410.5 298.5h.1M406.5 301h.1M403 304.5h.1M406 304.5h.1M396 307h.1M413.5 298h.1M397 303.5h.1M401 300h.1" stroke="#000" stroke-opacity="0.15" stroke-width="1.3" stroke-linecap="round" fill="none"/><path d="M371 302.5h.1M372 308.5h.1M372 303.5h.1M379 239.5h.1M390.5 299h.1M377 291h.1M377 299h.1M370.5 313.5h.1M372.5 283h.1M376.5 276.5h.1M381 272.5h.1M391.5 308h.1M373 302h.1M379.5 272.5h.1M375 280h.1M370 294h.1M384 308.5h.1M377 287.5h.1M387 289h.1M371 255h.1M374.5 311h.1M370 231.5h.1M371.5 265h.1M389.5 311h.1M373.5 259h.1M378 308h.1M375.5 308h.1M374 250.5h.1M374.5 288h.1M395.5 313.5h.1M377.5 308h.1M370.5 299.5h.1M376.5 314h.1M375 245.5h.1M373.5 311h.1M381.5 301h.1M394.5 314h.1M371 311h.1M377.5 255.5h.1M381.5 287h.1M370 311h.1M370 294h.1M373.5 279h.1M371.5 308.5h.1M377 271.5h.1M405.5 293h.1M375 271.5h.1M378 314.5h.1M377 306h.1M371.5 258.5h.1M374 314.5h.1M374 309h.1M375 309h.1M390.5 305.5h.1M371 306.5h.1M409.5 305.5h.1M395.5 313h.1M379 289.5h.1M391 302.5h.1M376 311.5h.1M383.5 302.5h.1M381.5 308h.1M376 312h.1M371 287h.1M370.5 287h.1M372 314h.1M370.5 303h.1M376 309h.1M373 250.5h.1M374 284h.1M378.5 304h.1M375 307h.1M371 262.5h.1M370.5 237.5h.1M371 294.5h.1M382.5 294h.1M387 314.5h.1M374 311.5h.1M375 313.5h.1M372.5 311h.1M373.5 293h.1M372 291.5h.1M374.5 310h.1M372 227.5h.1M374.5 312h.1M370 263.5h.1M375.5 290.5h.1M407 300h.1M398 312.5h.1M378.5 298.5h.1M371.5 300.5h.1M382 300h.1M380.5 293.5h.1M370 299h.1M371.5 266.5h.1M390 305.5h.1M375.5 277h.1M382.5 281h.1M376 275h.1M371.5 300h.1M370.5 304.5h.1M372 240h.1M376.5 281.5h.1M373 289.5h.1M374.5 314.5h.1M383.5 274h.1M375.5 240.5h.1M370 255h.1M388.5 300.5h.1M370 306.5h.1M373.5 256h.1M397.5 308h.1M375 307h.1M375 248h.1M401 313h.1M386.5 301.5h.1M433 312h.1M370.5 303.5h.1M373 297h.1M371.5 284h.1M371 288.5h.1M377.5 302h.1M385.5 294.5h.1M381.5 302h.1M376 313h.1M371 307h.1M384.5 252h.1M380.5 217.5h.1M376.5 238h.1M371 311.5h.1M372 310h.1M371 280h.1M372 309.5h.1M384.5 311.5h.1M386.5 310.5h.1M387.5 310.5h.1M370.5 302h.1M372 289h.1M376 290.5h.1M373 235.5h.1M372.5 311h.1M372.5 270.5h.1M389.5 272h.1M380 294h.1M370.5 279.5h.1M387 302.5h.1M372.5 302h.1M418 299.5h.1M373.5 268h.1M373 293.5h.1M372 314h.1M377 307.5h.1M375 314h.1M380 285h.1M371.5 285.5h.1M372 292h.1M371.5 296h.1M383 302.5h.1M374 284h.1M382.5 295.5h.1M371 294.5h.1M372.5 308.5h.1M372 307.5h.1M393 305h.1M371 292h.1M370 314.5h.1M377.5 307.5h.1M402 298h.1M371 305.5h.1M370 299.5h.1M371 293h.1M371.5 294h.1M372.5 269h.1M371 290.5h.1M375 308h.1M373 262.5h.1M383 302h.1M374 298h.1M384 308.5h.1M372 314.5h.1M387.5 304.5h.1M378 265.5h.1M370.5 219h.1M401 289.5h.1M380 305h.1M388.5 296.5h.1M373.5 251h.1M377 298.5h.1M371.5 302h.1M379 265h.1M372 308h.1M372.5 313.5h.1M373 306.5h.1M371 264h.1M388 311.5h.1M376 306.5h.1M372.5 309.5h.1M371 298h.1M376.5 308h.1M374.5 303h.1M378.5 220.5h.1M379.5 284.5h.1M378 292.5h.1M372.5 265.5h.1M378.5 314h.1M382.5 280.5h.1M373.5 253h.1M373 308.5h.1M371 289h.1M386 314h.1M378.5 261.5h.1M370.5 308h.1M374 310.5h.1M379.5 248h.1M372.5 293.5h.1M371 311.5h.1M374 287h.1M373 303h.1M386.5 281.5h.1M408 300h.1M382.5 302h.1M375.5 304h.1M379 309h.1M374.5 255h.1M380.5 275h.1M371.5 311.5h.1M395.5 306h.1M380 311h.1M371 290.5h.1M372 284.5h.1M378.5 264.5h.1M379.5 312.5h.1M387.5 302.5h.1M373 274h.1M370.5 249h.1M373 293h.1M372 306.5h.1M374.5 314h.1M374.5 309.5h.1M399.5 307h.1M379 297.5h.1M373.5 277h.1M378.5 265h.1M372.5 270.5h.1M381 303h.1M372 297h.1M372 313.5h.1M377.5 270.5h.1M372.5 303h.1M371 312h.1M374.5 279.5h.1M382.5 288.5h.1M370 256h.1M377 299.5h.1M384.5 306.5h.1M376 281.5h.1M370 314h.1M385 309h.1M384 304h.1M371 289.5h.1M380.5 309.5h.1M375.5 276.5h.1M375.5 306h.1M370.5 242.5h.1M375.5 246.5h.1M381.5 298h.1M382.5 309.5h.1M371 291.5h.1M392.5 309h.1M378.5 213.5h.1M372.5 289.5h.1M370.5 310.5h.1M377 312.5h.1M370.5 242.5h.1M381 275.5h.1M374.5 292.5h.1M371 310.5h.1M377 299h.1M377 225.5h.1M383 286h.1M374 263.5h.1M375.5 308h.1M372 314h.1M371 289h.1M388.5 219.5h.1M379.5 278h.1M370 311h.1M379.5 279.5h.1M374.5 306h.1M370.5 285h.1M380.5 280.5h.1M375.5 311h.1M375.5 272h.1M370 289h.1M386.5 253h.1M372 288.5h.1M370.5 311h.1M372.5 253.5h.1M381 313.5h.1M375.5 262h.1M374.5 273h.1M377.5 292h.1M372 293h.1M370.5 303.5h.1M386 304.5h.1M370.5 295.5h.1M371 298.5h.1M393.5 303.5h.1M374 304.5h.1M374.5 286.5h.1M375.5 296.5h.1M376.5 306h.1M378.5 264h.1M371.5 305h.1M370.5 242h.1M413.5 300h.1M371 314.5h.1M374 239h.1M379.5 253h.1M372.5 302h.1M389 261h.1M374.5 294.5h.1M374.5 292h.1M371 308.5h.1M370 313.5h.1M373 281h.1M375.5 235.5h.1M375.5 254h.1M377 313h.1M399.5 310h.1M384.5 280h.1M380.5 300.5h.1M370 303h.1M382.5 314h.1M375 258h.1M380 300h.1M384 286.5h.1M372 277.5h.1M378.5 312.5h.1M371.5 228.5h.1M396.5 313h.1M393 297h.1M371 290.5h.1M371 267.5h.1M378 288h.1M390.5 284.5h.1M385.5 312h.1M373 269.5h.1M372 299.5h.1M390 302.5h.1M378 309h.1M374 258h.1M373.5 314.5h.1M370 271h.1M373.5 275.5h.1M376.5 278.5h.1M377 244.5h.1M373 288h.1M373 284h.1M388 234.5h.1M370 300.5h.1M382.5 250h.1M372 230.5h.1M375.5 305.5h.1M378.5 259.5h.1M375.5 251.5h.1M371 292h.1M380 268h.1M377 294h.1M373.5 312.5h.1M371 313h.1M370.5 301.5h.1M387.5 312h.1M373.5 303.5h.1M376.5 274.5h.1M374.5 274h.1M373.5 288h.1M371.5 310.5h.1M400 311.5h.1M372.5 311h.1M375 309h.1M372 269.5h.1M371 309h.1M372.5 279.5h.1M370.5 298h.1M371.5 303h.1M371.5 314.5h.1M372 274.5h.1M385 242h.1M370.5 258h.1M383.5 310h.1M373 281h.1M373 303h.1M375 314h.1M370.5 295.5h.1M371 297h.1M387 301.5h.1M373 309h.1M402 313h.1M412 299h.1M383.5 296.5h.1M378 280h.1M371 314h.1M372.5 258h.1M375.5 245.5h.1M376 314.5h.1M381 283h.1M372 276h.1M398.5 312h.1M375.5 307h.1M372.5 311.5h.1M374 212.5h.1M379 287h.1M371 273.5h.1M377.5 296.5h.1M389 306h.1M373.5 285h.1M386 303h.1M371.5 310.5h.1M374 286h.1M371 265h.1M388.5 266.5h.1M405 313h.1M379 261.5h.1M371 310h.1M371 303h.1M372.5 293h.1M372.5 309.5h.1M394 296h.1M370 303.5h.1M377 305h.1M374.5 309.5h.1M372.5 279.5h.1M370.5 282.5h.1M384 290.5h.1M372 313.5h.1M370.5 292.5h.1M373.5 304.5h.1M372 285.5h.1M375.5 263h.1M371 308h.1M371 314h.1M371 251h.1M382 307h.1M372 229h.1M376 251.5h.1M379 286h.1M371 303h.1M370.5 308.5h.1M376 263.5h.1M372 287.5h.1M377 311h.1M372.5 305.5h.1M372 285.5h.1M381.5 309h.1M379.5 303h.1M377.5 310.5h.1M372 309.5h.1M383 264.5h.1M381.5 302.5h.1M379.5 302h.1M384.5 276.5h.1M374.5 304.5h.1M376 277h.1M375 287.5h.1M393.5 304.5h.1M370 276.5h.1M371 274.5h.1M371.5 269h.1M382 304h.1M374 308h.1M373 276h.1M370.5 257.5h.1M385.5 301.5h.1M371 309h.1M379 309.5h.1M383.5 300h.1M373 302h.1M376 293.5h.1M375 221h.1M373 309.5h.1M383.5 294h.1M390.5 268.5h.1M375 260.5h.1M376 294.5h.1M371 285h.1M382 291h.1M377.5 308h.1M374 281.5h.1M379.5 295.5h.1M381 300h.1M372 292.5h.1M372 308.5h.1M374 314h.1M390 298.5h.1M372.5 312.5h.1M371.5 313h.1M379.5 308.5h.1M376.5 303h.1M385.5 246h.1M378 301h.1M381.5 238.5h.1M373.5 272h.1M370 300.5h.1M372.5 279.5h.1M370.5 305.5h.1M376.5 309h.1M376.5 299h.1M380.5 308h.1M397 301h.1M375 308.5h.1M373 256h.1M378.5 311.5h.1M375 253.5h.1M371 252h.1M373.5 311.5h.1M373 289h.1M371 288h.1M387.5 299h.1M377 302h.1M370.5 314h.1M372.5 303.5h.1M372.5 293.5h.1M373.5 292.5h.1M373 289h.1M372 286.5h.1M370.5 290.5h.1M373.5 306h.1M375 313h.1M370 307h.1M374 215h.1M372 230.5h.1M373 272h.1M374 269.5h.1M371 261.5h.1M375 311.5h.1M372.5 296h.1M379 301.5h.1M376 266h.1M370.5 290h.1M401 281.5h.1M387.5 308.5h.1M375 269h.1M376 260.5h.1M374 277.5h.1M372.5 292h.1M372 302h.1M373 309h.1M373.5 291h.1M373.5 302h.1M372 308h.1M383.5 267h.1M379 313h.1M370.5 299h.1M375.5 313.5h.1M388 312h.1M382 305h.1M385.5 275h.1M378.5 258.5h.1M373.5 256h.1M371 305h.1M392 306.5h.1M375 223.5h.1M373.5 277h.1M370.5 285h.1M377 294h.1M375 299h.1M377 301h.1M373.5 309h.1M377 305.5h.1M371.5 303h.1M373 309h.1M379 310h.1M371.5 311.5h.1M373 300h.1M370.5 309h.1M370 306.5h.1M371.5 302h.1M374.5 303.5h.1M373.5 312h.1M374 291.5h.1M374.5 312h.1M375 309.5h.1M372 306.5h.1M370.5 309h.1M373.5 295h.1M372.5 311h.1M372 310h.1M374 303h.1M372 308h.1M376 308h.1M371.5 311.5h.1M377 299.5h.1M370.5 309.5h.1M372.5 308h.1M371.5 300.5h.1M374 311.5h.1M371 306.5h.1M372.5 307h.1M372.5 307h.1M371 309.5h.1M374.5 308.5h.1M370.5 303h.1M370.5 307.5h.1M373 310h.1M371 302h.1M371.5 308h.1M374 303.5h.1M376 308h.1M370 302h.1M371 308.5h.1M373 290.5h.1M376.5 305.5h.1M371.5 296h.1M372 309h.1M371.5 291.5h.1M370.5 300.5h.1M371.5 309.5h.1M373.5 306.5h.1M377 310h.1M375.5 309h.1M372 307h.1M374.5 311h.1M374 287h.1M370.5 306h.1M371 299.5h.1M376.5 310.5h.1M376.5 302.5h.1M372 306.5h.1M374 305.5h.1M371.5 287.5h.1M371.5 290.5h.1M371 309h.1M385 305.5h.1M370 299.5h.1M370.5 310.5h.1M373 312h.1M371.5 305.5h.1M376.5 303h.1M371 307h.1M381.5 308h.1M374.5 309h.1M381 297.5h.1M374.5 289.5h.1M370 304.5h.1M371 294.5h.1M370 307.5h.1M374.5 310h.1M371.5 294h.1M371 303h.1M372 302h.1M373.5 310h.1M372 301h.1M373 300.5h.1M370 311h.1M370.5 307.5h.1M376.5 306h.1M376 304h.1M370 307.5h.1M370 311.5h.1M371.5 307h.1M372 312h.1M371 311.5h.1M370.5 309h.1M372 296h.1M384 293h.1M372 310.5h.1M372.5 288h.1M382 299h.1M371.5 291h.1M372.5 301h.1M370 310.5h.1M376 307h.1M373 310.5h.1M371.5 306.5h.1M372 291h.1M371.5 310.5h.1M370.5 304.5h.1M371.5 308.5h.1M371 310h.1M371.5 281.5h.1M374 309h.1M371 305h.1M371 311h.1M370.5 305.5h.1M377 306.5h.1M374 309.5h.1M376 294h.1M371 307.5h.1M370.5 307h.1M379 311.5h.1M380 311.5h.1M374.5 285.5h.1M376.5 308h.1M371 303.5h.1M371 301h.1M370.5 311h.1M376 310.5h.1M370.5 302h.1M377 304.5h.1M373.5 310.5h.1M375.5 305h.1M374 294h.1M372.5 311.5h.1M378 309h.1M371.5 303.5h.1M374 304.5h.1M374.5 305h.1M370.5 296h.1M380.5 304.5h.1M372 292.5h.1M373 300h.1M377.5 311h.1M372 311.5h.1M374 311.5h.1M397 305h.1M392 309h.1M401 305.5h.1M404 298h.1M403 304.5h.1M383 312h.1M401 303.5h.1M418 300h.1M421.5 300.5h.1M399 308.5h.1M405 302h.1M418 296.5h.1M394.5 300h.1M401 305h.1M399 299.5h.1M415 300.5h.1M394.5 302.5h.1M413.5 299.5h.1M393.5 306.5h.1M403.5 305h.1M417 303.5h.1M415.5 295.5h.1M433 291h.1M396.5 301h.1M407 303.5h.1M405.5 302h.1M392 305h.1M405.5 301.5h.1M402.5 304.5h.1M410 304h.1M412 299.5h.1M393 305h.1M397.5 308.5h.1M396.5 308.5h.1M386.5 302.5h.1M394 307h.1M399.5 306h.1M409.5 301.5h.1M383 312.5h.1M413.5 299.5h.1M393 307.5h.1M407.5 302.5h.1M420 296h.1M401 299h.1M407 304.5h.1M398.5 312h.1M408.5 300.5h.1M403.5 306.5h.1M391.5 308.5h.1M382.5 307h.1M405 297.5h.1M410 301h.1M406 301h.1M417 302h.1M408.5 304.5h.1M404.5 300.5h.1M398.5 311.5h.1M403 302h.1M392.5 305.5h.1M414.5 300.5h.1M418.5 301h.1M412.5 303h.1M406.5 304h.1M407 298h.1M387.5 304.5h.1M415.5 301h.1M412 303h.1M402.5 304h.1M421 300.5h.1M431.5 292.5h.1M394.5 301h.1M404.5 301h.1M401 306.5h.1M409 301.5h.1M402.5 302h.1M400.5 303.5h.1M397 307.5h.1M404 307h.1M401.5 301h.1M398.5 301.5h.1M400 304.5h.1M400 305.5h.1M388.5 307.5h.1M405 302h.1M397.5 299.5h.1M409 302h.1M393.5 303.5h.1M392.5 312.5h.1M399 306h.1M392.5 307h.1M382.5 308.5h.1M400.5 301h.1M389.5 308.5h.1M405 300.5h.1M407.5 299h.1M404.5 302.5h.1M402.5 304h.1M393.5 306h.1M414.5 301h.1M408 302h.1M412.5 300.5h.1M399 304h.1M396.5 306.5h.1M412.5 299h.1M418 299.5h.1M409 298h.1M385.5 308h.1M411 299h.1M405 299h.1M399 306h.1M400 299h.1M405 305.5h.1M398.5 307h.1M400.5 300.5h.1M406 303h.1M387 309.5h.1M411.5 300h.1M409 305h.1M411 303.5h.1M411 300h.1M407 297h.1M398 303h.1M388.5 304h.1M401 304h.1M417.5 301.5h.1M404 304h.1M409.5 304.5h.1M379 314.5h.1M414.5 298.5h.1M412.5 304h.1M389 313h.1M412.5 299h.1M400 304.5h.1M396.5 311h.1M396.5 307h.1M396 306.5h.1M398 310h.1M404 302h.1M403 305.5h.1M404 298h.1M405 302h.1M391 305.5h.1M405 298h.1M411 300.5h.1M410 302h.1M407 304.5h.1M410 297.5h.1M408.5 302.5h.1M399.5 302.5h.1M393.5 300h.1M402 304.5h.1M397.5 305h.1M405 305.5h.1M418.5 295.5h.1M420.5 297.5h.1M414 303h.1M410.5 305h.1M394 308h.1M395 307h.1M408 301.5h.1M399 307h.1M422.5 300.5h.1M393 309h.1M423.5 295.5h.1M382.5 311.5h.1M400 301.5h.1M396 302h.1M393 307.5h.1M389.5 308.5h.1M395 307.5h.1M406 300.5h.1M418.5 296h.1M400.5 303h.1M401.5 303.5h.1M410 305h.1M404.5 302.5h.1M399 306h.1M416.5 298h.1M408 300.5h.1M407 300.5h.1M369.5 315h.1M406 299h.1M404.5 303h.1M389.5 307h.1M397 304h.1M402.5 300.5h.1M395.5 303.5h.1M412.5 302.5h.1M419 298.5h.1M400 310h.1M396.5 306h.1M406.5 302h.1M411 300h.1M392 308h.1M401.5 299h.1M385.5 309h.1M411.5 297.5h.1M407 299h.1M393 302.5h.1M391.5 310h.1M413.5 293.5h.1M400 309h.1M422 295h.1M406.5 302h.1M415.5 300.5h.1M394 302.5h.1M410 306h.1M406 305.5h.1M418 304.5h.1M418.5 300h.1M399.5 304h.1M407.5 301h.1M404.5 301.5h.1M402 301.5h.1M397 302.5h.1M374.5 308h.1M399.5 304.5h.1M401 300h.1M396.5 306h.1M416 300h.1M397 302.5h.1M422 293.5h.1M407 302.5h.1M415.5 298.5h.1M400 303.5h.1M387.5 305h.1M393 307h.1M400.5 300h.1M405 302h.1M413 303.5h.1M394.5 303.5h.1M412 303.5h.1M399.5 307h.1M420 297.5h.1M412.5 303.5h.1M406.5 300.5h.1M409 299.5h.1M402.5 307h.1M393.5 304.5h.1M390.5 310.5h.1M402 302.5h.1M406.5 304h.1M419 295h.1M418 297h.1M405.5 300.5h.1M414 299.5h.1M398.5 300h.1M397.5 307.5h.1M397.5 304h.1M407.5 298h.1M401 300.5h.1M402.5 306h.1M393.5 312.5h.1M398.5 305.5h.1M398.5 308.5h.1M399 306.5h.1M406 301.5h.1M402 303.5h.1M402.5 307h.1M422.5 297.5h.1M406.5 300h.1M402 305.5h.1M404 304h.1M409.5 304h.1M421.5 296.5h.1M406 303.5h.1M400.5 306h.1M387.5 309.5h.1M404 305.5h.1M375 310h.1M416 303.5h.1M411.5 298.5h.1M420 300h.1M414.5 297h.1M407.5 301.5h.1M390 300.5h.1M396.5 301h.1M393.5 307h.1M403.5 303h.1M417.5 303.5h.1M391 305h.1M394 307.5h.1M393 307.5h.1M395 307.5h.1M411 301h.1M391 310h.1M409 300h.1M402 305h.1M396 307.5h.1M386 310h.1" stroke="#000" stroke-opacity="0.3" stroke-width="1.3" stroke-linecap="round" fill="none"/><path d="M410.5 302.5h.1M371.5 313h.1M374.5 297h.1M384 313.5h.1M375 271h.1M370.5 276h.1M378 312h.1M372.5 262h.1M377 255h.1M371.5 297h.1M395 314h.1M376.5 300h.1M371 310.5h.1M373.5 254.5h.1M373 275.5h.1M427.5 308h.1M393 303h.1M371.5 293.5h.1M386.5 300h.1M377 304h.1M379.5 302.5h.1M401 313h.1M383 310h.1M374.5 305.5h.1M381 277.5h.1M376 304h.1M376 249h.1M370 239h.1M372 309h.1M378 297.5h.1M373.5 279.5h.1M372 291.5h.1M373.5 289h.1M370.5 302h.1M370.5 213.5h.1M379.5 306.5h.1M376 310.5h.1M393 301h.1M371 299.5h.1M371.5 298h.1M385 310.5h.1M372.5 298.5h.1M373.5 287h.1M372.5 302h.1M376 291.5h.1M388.5 271h.1M372 265h.1M371.5 289h.1M371.5 314.5h.1M373.5 289.5h.1M386 281.5h.1M378.5 309.5h.1M374.5 282.5h.1M378 274.5h.1M386 298h.1M374.5 285h.1M370.5 244h.1M370 305.5h.1M376 291.5h.1M376.5 300h.1M371.5 302h.1M383.5 237.5h.1M396 294h.1M372 305.5h.1M378.5 274.5h.1M382.5 285h.1M372 278.5h.1M370 254.5h.1M377 298.5h.1M374 291h.1M378 261h.1M381 310h.1M378.5 261.5h.1M371 308h.1M371.5 282.5h.1M380.5 248.5h.1M381 299.5h.1M376 242.5h.1M386.5 273h.1M385 294.5h.1M387 304.5h.1M371 312.5h.1M379 253.5h.1M374.5 247.5h.1M373.5 277h.1M373 297h.1M371 311.5h.1M380.5 292h.1M370 291h.1M375.5 307.5h.1M407 300h.1M381.5 280.5h.1M370.5 263.5h.1M379.5 298h.1M372.5 297h.1M374 283h.1M382 278.5h.1M376.5 306.5h.1M380.5 300h.1M380 240h.1M383.5 298.5h.1M391.5 294h.1M376.5 263.5h.1M378.5 291h.1M373 294h.1M389.5 301h.1M382.5 314h.1M378.5 243.5h.1M381.5 313h.1M371 234.5h.1M386 295h.1M371 297.5h.1M380 311.5h.1M375.5 270.5h.1M387.5 308.5h.1M387.5 310h.1M380 314.5h.1M378 256.5h.1M371 286.5h.1M377.5 290h.1M376 276h.1M375.5 309h.1M372.5 311.5h.1M379 304.5h.1M384 258.5h.1M378.5 309.5h.1M375.5 291.5h.1M377.5 279.5h.1M375 280h.1M398 305h.1M372 260h.1M370 279.5h.1M381.5 261.5h.1M376 305.5h.1M379.5 275h.1M373 283.5h.1M376.5 283h.1M376.5 276.5h.1M370.5 292.5h.1M371 257h.1M372 259h.1M392.5 312.5h.1M389.5 302.5h.1M387 261.5h.1M375 276h.1M377 313h.1M373 309.5h.1M384.5 287h.1M374 311.5h.1M379.5 298.5h.1M383.5 308h.1M386 282.5h.1M370.5 239.5h.1M391.5 313h.1M372.5 287h.1M372 281.5h.1M380.5 253.5h.1M371.5 285.5h.1M374.5 253.5h.1M394 296h.1M387 236.5h.1M378.5 286.5h.1M374.5 310.5h.1M372.5 298h.1M371 286h.1M377.5 295h.1M375 312h.1M370.5 303h.1M381 295h.1M372.5 300.5h.1M388.5 297h.1M371 261.5h.1M375 295.5h.1M372 296.5h.1M382.5 304h.1M374 290.5h.1M372 283h.1M387.5 311h.1M373 312.5h.1M374.5 295.5h.1M382 298.5h.1M371 304.5h.1M377 296h.1M384 309h.1M381 299.5h.1M375 238h.1M382 313.5h.1M378 307h.1M373.5 305h.1M378.5 309.5h.1M372 279h.1M386.5 242h.1M387 308h.1M371 313.5h.1M382 314.5h.1M385.5 308h.1M383.5 300h.1M383 291h.1M372 264h.1M370.5 252.5h.1M398 304.5h.1M370.5 313.5h.1M373 303.5h.1M378.5 291.5h.1M388 310h.1M373 293h.1M372 287.5h.1M373 240.5h.1M373 301.5h.1M386 271.5h.1M384 307h.1M371.5 264h.1M380 309h.1M370.5 308h.1M372 304.5h.1M372 298.5h.1M380.5 308h.1M374.5 287.5h.1M371.5 242h.1M370.5 313h.1M377 309h.1M370 282h.1M373.5 299h.1M372 299h.1M375 306.5h.1M378.5 305h.1M370.5 273h.1M408 311.5h.1M377.5 279h.1M381.5 312.5h.1M382 304.5h.1M375.5 267.5h.1M382.5 310h.1M388.5 299h.1M372.5 308.5h.1M380.5 300h.1M375.5 308h.1M371 273.5h.1M374.5 284.5h.1M371.5 299h.1M373.5 306h.1M422.5 275h.1M373 295.5h.1M376.5 288.5h.1M370 260h.1M373.5 304h.1M373 312.5h.1M371 287.5h.1M380 314.5h.1M371.5 296.5h.1M370 269.5h.1M379 274h.1M377 301h.1M382.5 285.5h.1M382.5 275.5h.1M386 312.5h.1M384 277.5h.1M370.5 253h.1M373.5 298.5h.1M384.5 300.5h.1M370.5 306h.1M380.5 260.5h.1M380.5 285.5h.1M384 313.5h.1M378 309.5h.1M371.5 299.5h.1M376 301.5h.1M376.5 299.5h.1M370.5 258.5h.1M381.5 306h.1M374 304.5h.1M384 294.5h.1M373.5 305h.1M389.5 294.5h.1M370.5 266h.1M419.5 302h.1M380.5 262.5h.1M371 304h.1M390.5 296h.1M384 297h.1M371 308.5h.1M370 311h.1M391 305h.1M399.5 307h.1M374.5 260h.1M372.5 297h.1M380 262h.1M385 297h.1M371.5 307.5h.1M377 313.5h.1M376 296.5h.1M379 291h.1M377.5 230.5h.1M384 307.5h.1M385.5 313h.1M382.5 302.5h.1M386 310h.1M375.5 295.5h.1M387.5 244h.1M371 291h.1M381 281h.1M381 294.5h.1M374.5 303h.1M387.5 305h.1M371.5 291h.1M383 309h.1M386 255h.1M371.5 310h.1M370.5 309h.1M387.5 283h.1M377.5 309h.1M397.5 305.5h.1M373 289h.1M373.5 312.5h.1M370.5 293h.1M372 277h.1M378.5 305.5h.1M374 306.5h.1M372 266.5h.1M370 291h.1M370.5 245h.1M392.5 245.5h.1M386.5 310h.1M382.5 310h.1M378 306.5h.1M383.5 313.5h.1M375 306h.1M372 307h.1M373.5 296.5h.1M381 274.5h.1M380 311h.1M370.5 285h.1M377 298h.1M378.5 300h.1M374.5 266.5h.1M375 295.5h.1M373.5 277.5h.1M376 304h.1M374 278h.1M374 311.5h.1M385.5 309.5h.1M377 300.5h.1M374.5 286h.1M378 260.5h.1M387 294.5h.1M372.5 257.5h.1M374 307h.1M379 294.5h.1M380 309.5h.1M371 283h.1M370.5 269.5h.1M371 265h.1M373.5 305.5h.1M373.5 267h.1M370.5 308.5h.1M373 305.5h.1M372 298.5h.1M373.5 298h.1M370.5 314h.1M403 303h.1M372.5 314.5h.1M384.5 310.5h.1M373 306.5h.1M387.5 258.5h.1M426.5 311.5h.1M379 298.5h.1M372.5 303h.1M372.5 288h.1M370.5 296.5h.1M376.5 292.5h.1M383.5 235.5h.1M371.5 274.5h.1M370.5 247.5h.1M383 302h.1M370.5 269.5h.1M374.5 251.5h.1M374.5 305.5h.1M373.5 306h.1M372 248h.1M375 279h.1M380 296h.1M377.5 303.5h.1M386 300.5h.1M371.5 261h.1M370 257.5h.1M372 304h.1M384 307h.1M370.5 235h.1M373 249.5h.1M371.5 312h.1M372.5 275.5h.1M372 313h.1M371 258.5h.1M374.5 309.5h.1M387.5 304.5h.1M377 278h.1M380.5 253h.1M373 312h.1M376 267.5h.1M375 304h.1M384 305.5h.1M373 225h.1M372.5 269h.1M370 292h.1M376 308.5h.1M370 314h.1M399.5 302h.1M393 297.5h.1M370.5 243h.1M374.5 311.5h.1M378 241h.1M375.5 280.5h.1M377 250.5h.1M399.5 312.5h.1M375 286.5h.1M371 215h.1M384 308h.1M373 308h.1M370.5 285.5h.1M373 293.5h.1M372.5 261h.1M383.5 308h.1M371 284h.1M370 279h.1M372 278h.1M372.5 288h.1M371.5 289.5h.1M382.5 289.5h.1M399 305h.1M384 281.5h.1M376.5 300.5h.1M374.5 292h.1M399 313.5h.1M371 298h.1M372 244.5h.1M392.5 286.5h.1M374.5 243.5h.1M376 307.5h.1M376.5 288.5h.1M370 304.5h.1M383 279.5h.1M393.5 302.5h.1M373 293h.1M375 229.5h.1M401.5 287h.1M377 314h.1M372.5 291.5h.1M372.5 295.5h.1M370.5 307.5h.1M375 307.5h.1M382.5 312h.1M371.5 312.5h.1M373.5 309.5h.1M372.5 299h.1M372.5 307.5h.1M373.5 310h.1M370.5 309.5h.1M373 308.5h.1M373.5 295.5h.1M377.5 306h.1M380.5 305.5h.1M376.5 311h.1M370.5 301.5h.1M375 305.5h.1M377.5 307h.1M373.5 305.5h.1M374 306h.1M373 302.5h.1M378.5 312.5h.1M372.5 311.5h.1M375 307.5h.1M377.5 295h.1M370.5 310h.1M372 305h.1M376 310h.1M374.5 308.5h.1M372 307.5h.1M372 306.5h.1M370.5 312.5h.1M376 309h.1M370 300h.1M371.5 304.5h.1M372.5 306.5h.1M370.5 298.5h.1M376.5 287.5h.1M370.5 310h.1M371.5 303.5h.1M373.5 307h.1M375.5 297.5h.1M370.5 310h.1M376 305h.1M372.5 311h.1M379 312h.1M370.5 282h.1M373.5 311.5h.1M372.5 293.5h.1M370 299.5h.1M374 306h.1M374 295.5h.1M373 302h.1M380.5 306h.1M371 303.5h.1M372.5 292.5h.1M381.5 306.5h.1M371 307.5h.1M370.5 312h.1M371.5 311h.1M376 311.5h.1M371.5 306.5h.1M375.5 311h.1M371.5 308h.1M370.5 304.5h.1M371.5 309.5h.1M377.5 311h.1M373 298.5h.1M372.5 307.5h.1M370.5 309.5h.1M370.5 300.5h.1M375.5 303.5h.1M378.5 305.5h.1M370.5 309h.1M376.5 311h.1M371.5 304.5h.1M372.5 303.5h.1M377 312h.1M379 283.5h.1M373 297.5h.1M371 312h.1M373 297h.1M371.5 295.5h.1M371 312h.1M370.5 309.5h.1M371.5 308.5h.1M373 302.5h.1M375.5 308h.1M371.5 304.5h.1M375.5 307.5h.1M376.5 312h.1M393 308h.1M370.5 308h.1M373 306.5h.1M370.5 307h.1M374 312h.1M371.5 305h.1M371 305.5h.1M371.5 304.5h.1M373 305.5h.1M372.5 303.5h.1M371.5 299.5h.1M371 303h.1M372 309.5h.1M372.5 311.5h.1M371 305h.1M374.5 302h.1M377 304.5h.1M372.5 306.5h.1M372.5 308h.1M372.5 307.5h.1M379 312h.1M370.5 307h.1M376.5 309h.1M375 303.5h.1M370.5 311h.1M373 299.5h.1M370.5 306.5h.1M375 311.5h.1M370.5 306.5h.1M375.5 305h.1M372.5 309.5h.1M380.5 297h.1M373 312.5h.1M394 307h.1M415 301.5h.1M395.5 304.5h.1M415 302h.1M410 303.5h.1M400 302h.1M409 304h.1M389.5 309.5h.1M387.5 304.5h.1M393 309.5h.1M404 302h.1M399 306.5h.1M418 298.5h.1M389.5 307.5h.1M403 299h.1M401 304h.1M413.5 304.5h.1M407.5 302h.1M410 304h.1M394.5 308.5h.1M405.5 299h.1M402.5 304h.1M386 313h.1M385.5 308.5h.1M410 302.5h.1M413 300h.1M408.5 308h.1M403 301.5h.1M400 305h.1M395 306.5h.1M395.5 303.5h.1M402.5 303.5h.1M410.5 296h.1M417 295.5h.1M406 301h.1M392 305h.1M403 303.5h.1M410.5 299h.1M406.5 303.5h.1M402.5 301.5h.1M395.5 309.5h.1M404.5 301h.1M408.5 296.5h.1M400.5 301h.1M414 301.5h.1M409.5 299.5h.1M403 304h.1M398.5 304h.1M427 290h.1M399 299.5h.1M402.5 306h.1M397 302.5h.1M408 301.5h.1M385.5 314.5h.1M408.5 299.5h.1M400.5 304.5h.1M393.5 306.5h.1M408.5 304.5h.1M410 302.5h.1M411 309.5h.1M421.5 297.5h.1M388 310h.1M407 302.5h.1M408.5 307h.1M396 303.5h.1M396 308.5h.1M395 307.5h.1M396.5 303.5h.1M404 297.5h.1M397.5 304h.1M406 306h.1M393 304.5h.1M412.5 298.5h.1M410 302h.1M390 307h.1M407.5 304h.1M408.5 300h.1M401.5 306.5h.1M410 301.5h.1M397 303.5h.1M413 296h.1M402.5 300h.1M397.5 301.5h.1M400 301.5h.1M405.5 301.5h.1M408 304.5h.1M428 294.5h.1M408 300h.1M402 305.5h.1M403 305h.1M408 299.5h.1M397.5 305h.1M410.5 301.5h.1M404 306.5h.1M395 303.5h.1M409 299.5h.1M402.5 303.5h.1M402 300.5h.1M414 299h.1M406.5 301.5h.1M406 304.5h.1M403 297h.1M412 304h.1M407 299h.1M397 302h.1M403 301.5h.1M420 296h.1M379 314.5h.1M410 293.5h.1M396.5 302h.1M402 300.5h.1M374 314h.1M395 308.5h.1M415 297h.1M399.5 305h.1M382.5 309.5h.1M405 302.5h.1M399 301.5h.1M409.5 299.5h.1M391.5 305h.1M406.5 300h.1M401 302.5h.1M389 307h.1M407.5 301.5h.1M420.5 299.5h.1M410.5 305h.1M407 300.5h.1M405 301.5h.1M405.5 307h.1M386 309h.1M400.5 309.5h.1M394 301h.1M398.5 301.5h.1M404 306h.1M400 306h.1M395 307h.1M396 303h.1M399 304.5h.1M409 298.5h.1M407.5 305.5h.1M422.5 298h.1M410.5 304h.1M393 306h.1M404 309.5h.1M399 300.5h.1M408 293h.1M415.5 298h.1M405 300.5h.1M412.5 301h.1M385.5 306.5h.1M402 305h.1M411.5 301h.1M411.5 297h.1M392 307.5h.1M405.5 302.5h.1M403.5 302.5h.1M399.5 309h.1M386.5 304.5h.1M399.5 303h.1M401 300h.1M428 298h.1M398 307h.1M408 303.5h.1M419.5 300h.1M392 306h.1M395 306h.1M402.5 303.5h.1M418 299h.1M405 306.5h.1M396.5 304h.1M400.5 307.5h.1M394 307h.1M376.5 309.5h.1M390.5 308h.1M411 297.5h.1M404 300h.1M412 296h.1M407.5 299.5h.1M376 311.5h.1M410.5 300.5h.1M416.5 299h.1M422.5 298.5h.1M388.5 305h.1M400.5 303.5h.1M401 299h.1M394.5 308h.1M397.5 305h.1M412 298.5h.1M401.5 304.5h.1M408 298.5h.1M400.5 304h.1M405.5 306h.1M410.5 299h.1M402.5 305.5h.1M402 303h.1M412.5 300h.1M381 310.5h.1M385 302h.1M407.5 301.5h.1M414.5 300h.1M374.5 313h.1M398.5 311.5h.1M406 302.5h.1M416 301.5h.1M411.5 298h.1M405 298.5h.1M406.5 301.5h.1M397.5 306h.1M417.5 300.5h.1M392 306.5h.1M389 306.5h.1M404.5 300h.1M396 303.5h.1M425.5 296h.1M405.5 303.5h.1M402 297.5h.1M404.5 305.5h.1M411 299h.1M421 301h.1M396 304.5h.1M394.5 306.5h.1M399.5 302h.1M396.5 303h.1M397 312.5h.1M419.5 294h.1M413 303.5h.1M389 309h.1M384.5 310.5h.1M404.5 303.5h.1M406 302.5h.1M408.5 303h.1M417.5 295h.1M408 301.5h.1M413.5 297.5h.1M413 301.5h.1M406 303h.1M411 302h.1M408.5 302h.1M409 302h.1M400 302h.1M399 306.5h.1M406 302h.1M424.5 295.5h.1M389 312.5h.1M416 299h.1M397 310.5h.1M401.5 302h.1M406 301h.1M399 302h.1M415 300h.1M384.5 309h.1M403 304h.1M398.5 302.5h.1M404.5 302.5h.1M407 301h.1M412 300h.1M395 308h.1M403 302h.1" stroke="#000" stroke-opacity="0.5" stroke-width="1.3" stroke-linecap="round" fill="none"/><path d="M390.5 306h.1M384 274.5h.1M370 261h.1M379.5 237h.1M370.5 231.5h.1M372.5 226.5h.1M371 283h.1M377.5 240h.1M377 300.5h.1M374.5 303h.1M372 286.5h.1M394 276h.1M372 299h.1M376 284.5h.1M371.5 222.5h.1M371.5 310h.1M377 258h.1M387.5 314.5h.1M386 274h.1M370 300.5h.1M375.5 311.5h.1M370 277.5h.1M373.5 296h.1M370.5 293h.1M370.5 283h.1M395.5 314h.1M375 311.5h.1M372 314h.1M387.5 296.5h.1M370 266h.1M375.5 271.5h.1M377.5 306.5h.1M396 289h.1M380.5 290h.1M378 277.5h.1M370 309h.1M376 249h.1M371.5 301.5h.1M400 312.5h.1M383.5 311h.1M372 308.5h.1M378.5 307.5h.1M379.5 291h.1M394.5 280.5h.1M372 313.5h.1M379 267.5h.1M380.5 308h.1M385 300.5h.1M372.5 241h.1M374.5 300h.1M379.5 314h.1M375.5 250h.1M373.5 305.5h.1M373.5 289.5h.1M389 313h.1M379 279.5h.1M370.5 312.5h.1M373 274h.1M379 301.5h.1M372.5 298h.1M373.5 279h.1M371.5 295h.1M371 285.5h.1M372 313h.1M399 314h.1M399 312.5h.1M375 251h.1M380.5 289.5h.1M371.5 310h.1M376.5 293.5h.1M374 302.5h.1M373.5 299h.1M383.5 294h.1M388 293.5h.1M372 297h.1M387 259h.1M374 296.5h.1M372 282h.1M370 246h.1M370.5 304h.1M372.5 305h.1M376 311h.1M372.5 304h.1M377 309h.1M389.5 263.5h.1M383.5 313.5h.1M371.5 314.5h.1M393.5 290.5h.1M376.5 304h.1M379 300h.1M373 295h.1M380.5 277h.1M381 309.5h.1M371 305h.1M386 270.5h.1M379.5 311h.1M383 311.5h.1M385 250.5h.1M385 299.5h.1M372 310.5h.1M371.5 307.5h.1M373.5 301.5h.1M372 255h.1M374.5 303.5h.1M371 292h.1M371.5 297h.1M376 251.5h.1M370.5 309.5h.1M370.5 312.5h.1M372.5 288h.1M382.5 306h.1M387 308h.1M388.5 311h.1M388 313h.1M374 256h.1M378.5 312.5h.1M370.5 305h.1M385 307.5h.1M370.5 294.5h.1M382.5 259h.1M374.5 284.5h.1M371 271h.1M373 261h.1M371.5 289h.1M370.5 303.5h.1M375 305.5h.1M371.5 300h.1M371.5 278h.1M371.5 300.5h.1M373 264h.1M371 302h.1M374 256h.1M377 273h.1M375 295.5h.1M380.5 288.5h.1M375 313.5h.1M384.5 309.5h.1M398 308h.1M381 314.5h.1M378.5 287h.1M371.5 294.5h.1M375 299h.1M374 288.5h.1M377 297h.1M371.5 313h.1M372.5 266h.1M378 307.5h.1M372.5 292.5h.1M373 300.5h.1M370.5 309h.1M386.5 298h.1M377.5 308.5h.1M381.5 226.5h.1M371 312h.1M374 261h.1M373 228.5h.1M378.5 223.5h.1M382 310h.1M372 299h.1M371 300h.1M373.5 263h.1M373 299h.1M378 308.5h.1M373.5 314.5h.1M370 300h.1M388.5 300h.1M378.5 265.5h.1M385 305h.1M373 284.5h.1M383.5 299h.1M376 312h.1M371.5 272.5h.1M370.5 307h.1M371 293.5h.1M373 308h.1M372.5 219h.1M370.5 303.5h.1M379 303h.1M377.5 293h.1M372 301h.1M378 300h.1M371 303h.1M373 313h.1M371.5 271.5h.1M373.5 277.5h.1M374 272h.1M370.5 250h.1M378 267.5h.1M374 313.5h.1M373 308h.1M370.5 244.5h.1M378.5 233h.1M376.5 212.5h.1M380 288.5h.1M370.5 260.5h.1M373.5 306.5h.1M374.5 284.5h.1M410 313h.1M379 267.5h.1M388.5 287h.1M408.5 295.5h.1M374.5 312.5h.1M375 247.5h.1M370.5 230h.1M375.5 298h.1M373.5 249h.1M381.5 298h.1M381.5 299.5h.1M377.5 301h.1M383 307.5h.1M372.5 306.5h.1M376 292.5h.1M378.5 301.5h.1M373 278.5h.1M374.5 312.5h.1M373 312h.1M371 282h.1M382.5 311h.1M378 284h.1M372.5 306.5h.1M372 263.5h.1M373.5 304.5h.1M382.5 288h.1M371 305.5h.1M372 301h.1M373 312h.1M376.5 292.5h.1M372 289h.1M370.5 306h.1M375 297.5h.1M383.5 311.5h.1M377.5 244h.1M376.5 262h.1M371 288h.1M373.5 287h.1M372 313.5h.1M372.5 255h.1M375 287.5h.1M373.5 305h.1M372 251h.1M375.5 309.5h.1M382 310.5h.1M376.5 290h.1M373 234.5h.1M372 270.5h.1M371.5 270.5h.1M382.5 311.5h.1M372.5 303h.1M371 292h.1M371 227h.1M378 264.5h.1M371 265.5h.1M377 299.5h.1M389 307h.1M377 307.5h.1M385 307.5h.1M372 313.5h.1M398 279.5h.1M377 288h.1M370.5 213.5h.1M380 291.5h.1M408.5 306h.1M371 310h.1M386 305.5h.1M372.5 298.5h.1M379.5 309.5h.1M390 286.5h.1M375.5 263.5h.1M371.5 292.5h.1M380 305.5h.1M385.5 301h.1M389.5 254.5h.1M373 279h.1M373 303.5h.1M372.5 308.5h.1M370.5 306h.1M383 314h.1M375 308.5h.1M373 313.5h.1M370.5 311.5h.1M383.5 270h.1M380 312.5h.1M376.5 310h.1M371.5 306h.1M372.5 291.5h.1M376.5 299h.1M377 314h.1M380.5 257.5h.1M372.5 307h.1M370.5 310h.1M371.5 298.5h.1M377.5 295h.1M381 293h.1M385 311h.1M379 274.5h.1M370 213h.1M382 296.5h.1M370 294h.1M374.5 273h.1M375.5 275h.1M383.5 314h.1M376.5 289.5h.1M374 281h.1M374 311.5h.1M371.5 300h.1M375 309.5h.1M371.5 214.5h.1M373.5 248h.1M371 270.5h.1M379 297.5h.1M373.5 302h.1M375 284.5h.1M391 285.5h.1M373 276.5h.1M395 281h.1M370 296.5h.1M377.5 294.5h.1M385.5 296.5h.1M371.5 275h.1M373.5 314.5h.1M379.5 312.5h.1M374 305h.1M373 313h.1M383.5 312h.1M376 251h.1M370.5 291.5h.1M373 291.5h.1M382 225h.1M375.5 296h.1M404 309.5h.1M371 307h.1M374.5 309.5h.1M371.5 303.5h.1M372.5 225h.1M371 285h.1M373 313.5h.1M379.5 264h.1M370 312h.1M371.5 301h.1M377 314h.1M379.5 289h.1M381 257h.1M375.5 290.5h.1M374.5 309.5h.1M393 247.5h.1M386.5 310h.1M374 228.5h.1M387.5 310h.1M370 284.5h.1M373 292.5h.1M371 309h.1M378.5 309h.1M373 255.5h.1M372 304h.1M401.5 314h.1M371 285.5h.1M373.5 297h.1M381.5 310h.1M371 275.5h.1M401.5 300h.1M377 300.5h.1M378.5 302h.1M377.5 314h.1M374.5 297h.1M371.5 294.5h.1M382 289.5h.1M393.5 299h.1M375 252h.1M371 311.5h.1M371.5 243.5h.1M383 268h.1M373.5 292h.1M372 261h.1M388.5 307h.1M381 305h.1M371 294h.1M382.5 280h.1M372 307.5h.1M380 277.5h.1M375.5 283.5h.1M371.5 313h.1M383.5 297.5h.1M380 310h.1M374.5 306h.1M374.5 303h.1M375 304.5h.1M370.5 312h.1M371 303.5h.1M373.5 299.5h.1M374 282h.1M371.5 310h.1M377 306.5h.1M370.5 306.5h.1M377.5 299h.1M374.5 307.5h.1M370.5 312h.1M373 297h.1M371 272.5h.1M371.5 306.5h.1M370 307.5h.1M374 310.5h.1M378.5 303h.1M370.5 308h.1M373.5 308h.1M370.5 307.5h.1M374 305h.1M372.5 304h.1M372 311.5h.1M370.5 311h.1M372 305.5h.1M373.5 311h.1M372 309h.1M372 299h.1M378.5 285h.1M370.5 298.5h.1M370.5 278.5h.1M371.5 310.5h.1M373 294h.1M373 311.5h.1M374 299h.1M372.5 302h.1M376.5 309.5h.1M371.5 299.5h.1M385 312h.1M376.5 309.5h.1M374.5 311.5h.1M371 302.5h.1M371 307h.1M373.5 306.5h.1M371 302.5h.1M371.5 312h.1M373.5 284.5h.1M376 304.5h.1M375.5 306h.1M373 305.5h.1M371 309.5h.1M371 301h.1M372.5 311.5h.1M370 311h.1M378 306h.1M372 305.5h.1M372 306h.1M373.5 311.5h.1M374 292.5h.1M377.5 311h.1M370.5 312h.1M371 305h.1M375.5 311.5h.1M373.5 303.5h.1M374 303.5h.1M372 306h.1M372 308.5h.1M373.5 311.5h.1M371 305h.1M370.5 312h.1M376 299.5h.1M375 310h.1M372 308.5h.1M371.5 311h.1M371.5 267h.1M373 311.5h.1M370 310.5h.1M372.5 298.5h.1M377.5 308h.1M371 310.5h.1M373.5 299.5h.1M371.5 272.5h.1M375.5 309h.1M370 301.5h.1M370 299.5h.1M376 309h.1M374.5 306.5h.1M370 311.5h.1M370.5 297h.1M372 309h.1M381.5 312.5h.1M376 305.5h.1M371.5 307.5h.1M371 295.5h.1M381.5 312h.1M372 305.5h.1M373.5 302.5h.1M371.5 307.5h.1M373.5 306h.1M378 311h.1M370.5 311h.1M382 309.5h.1M379.5 306h.1M372.5 303.5h.1M371 304h.1M373 308.5h.1M372 305h.1M370.5 307.5h.1M370.5 303.5h.1M411 298h.1M363.5 313.5h.1M410 304h.1M425 293.5h.1M401 305.5h.1M394 307h.1M421.5 297h.1M410 299h.1M399.5 303.5h.1M410.5 301.5h.1M399 302h.1M425.5 301.5h.1M401.5 306.5h.1M390 304.5h.1M384.5 304h.1M406 300h.1M386.5 309.5h.1M398 306.5h.1M410 301h.1M392 304.5h.1M413.5 299h.1M399.5 302h.1M397.5 304.5h.1M387.5 311.5h.1M410 302h.1M408.5 297.5h.1M424 299h.1M407 308h.1M392 306h.1M390 300.5h.1M411 300.5h.1M396 309h.1M407.5 305h.1M408 295.5h.1M379 311.5h.1M394 306.5h.1M389.5 306.5h.1M402.5 306.5h.1M400.5 307h.1M404 302.5h.1M398.5 305.5h.1M391 307.5h.1M389 302.5h.1M390.5 309.5h.1M419.5 298h.1M410 299.5h.1M402.5 303h.1M386 310.5h.1M386.5 307h.1M405 301.5h.1M399 302h.1M409 302.5h.1M399 302h.1M402 307h.1M406 300.5h.1M400.5 298.5h.1M394.5 306.5h.1M397.5 301h.1M403 305h.1M412.5 301.5h.1M396 306h.1M389.5 310h.1M395.5 304.5h.1M408.5 299.5h.1M417.5 298h.1M408 300h.1M425.5 295.5h.1M392.5 304h.1M404 301h.1M396.5 303.5h.1M405 301.5h.1M418.5 296.5h.1M393.5 307h.1M406 297.5h.1M412 305.5h.1M379.5 311h.1M414 292h.1M393 312.5h.1M403 300h.1M401.5 304.5h.1M402.5 301h.1M400 305.5h.1M402 302.5h.1M403.5 307h.1M420.5 297.5h.1M397 305h.1M397.5 310h.1M390 309.5h.1M396.5 303.5h.1M409 296.5h.1M406.5 299h.1M391 307.5h.1M422 295.5h.1M383.5 310h.1M400 304.5h.1M398.5 310h.1M429 294.5h.1M416 293h.1M406.5 301h.1M404.5 306.5h.1M398.5 304h.1M396 302.5h.1M401.5 303.5h.1M394.5 308.5h.1M410.5 302h.1M395 306.5h.1M397.5 300h.1M400 303.5h.1M396 310.5h.1M410.5 304h.1M401.5 306.5h.1M399 302h.1M415.5 298.5h.1M394 299h.1M407.5 301h.1M403.5 300h.1M410 299h.1M401 301.5h.1M421 299.5h.1M406.5 304h.1M418 295h.1M388 304.5h.1M412 303h.1M396 302h.1M384.5 311.5h.1M407 303h.1M407 303h.1M402.5 301h.1M404.5 303.5h.1M391.5 305h.1M389.5 304.5h.1M413.5 300.5h.1M407 298.5h.1M396.5 304h.1M380.5 307.5h.1M394.5 309h.1M403.5 307.5h.1M409.5 299.5h.1M408 300.5h.1M418 303h.1M424 295h.1M396 304h.1M400.5 308.5h.1M391 309h.1M402.5 296.5h.1M405.5 307h.1M404.5 300.5h.1M395 308h.1M408.5 300h.1M410.5 303h.1M407.5 304.5h.1M400.5 301h.1M404.5 302h.1M402 307h.1M405 300h.1M399.5 302.5h.1M409 300h.1M400 302.5h.1M408 301h.1M411.5 300.5h.1M410.5 303.5h.1M394.5 298.5h.1M407.5 303.5h.1M405.5 301h.1M399 303.5h.1M398 302.5h.1M404.5 303.5h.1M403 301h.1M396 298.5h.1M402 307h.1M413.5 300h.1M384.5 308h.1M412.5 299h.1M397 306h.1M407 303h.1M413 300h.1M416 299h.1M407.5 298.5h.1M406 297h.1M396 304.5h.1M400.5 303h.1M409.5 298h.1M391.5 307.5h.1M398.5 311h.1M410.5 295h.1M401 307h.1M408.5 299.5h.1M399 301.5h.1M381.5 306.5h.1M402.5 305h.1M402 303h.1M402 303.5h.1M388 308h.1M395 310.5h.1M392.5 308h.1M400 305h.1M392 301h.1M387 312h.1M403 303.5h.1M393 302h.1" stroke="#000" stroke-opacity="0.7" stroke-width="1.3" stroke-linecap="round" fill="none"/><path d="M385 279h.1M380 258h.1M390.5 279.5h.1M424.5 216.5h.1M428 269h.1M423 309h.1M422 237h.1M389 219h.1M412 212h.1M410 287h.1M405.5 227.5h.1M385 217.5h.1M399 249h.1M406.5 261.5h.1M429.5 312h.1M378.5 300.5h.1M378.5 296.5h.1M392 213h.1M441.5 308h.1M398.5 238.5h.1M412 240h.1M381.5 245h.1M446.5 260h.1M444.5 220.5h.1M385 235h.1M438 227.5h.1M432.5 291.5h.1M437.5 304.5h.1M437.5 218h.1M427 297.5h.1M413.5 264.5h.1M381.5 301.5h.1M375.5 298.5h.1M436.5 219.5h.1M414.5 222h.1M436.5 278.5h.1M393.5 312h.1M446 294.5h.1M430 232h.1M388 212.5h.1M378 227.5h.1M439 213.5h.1M383 254h.1M410 313.5h.1M443 223h.1M377.5 297h.1M389 293h.1M420.5 253.5h.1M391.5 214h.1M393 281h.1M446 259.5h.1M395 270.5h.1M395 269.5h.1M441.5 240.5h.1M440 267h.1M420.5 295.5h.1M396.5 239.5h.1M398 282.5h.1M430.5 308h.1M415 275h.1M439 294h.1M413 252h.1M389 275.5h.1" stroke="#000" stroke-opacity="0.1" stroke-width="1.3" stroke-linecap="round" fill="none"/><path d="M441.5 239h.1M443 271.5h.1M400.5 256h.1M404.5 241.5h.1M420 252h.1M408 267h.1M399.5 298h.1M434.5 275.5h.1M429 315.5h.1M396.5 235.5h.1M438.5 227.5h.1M377.5 258.5h.1M379 263.5h.1M435.5 229h.1M392 268.5h.1M439.5 306h.1M407 229.5h.1M446 221.5h.1M441 225.5h.1M381.5 232.5h.1M422.5 224h.1M396.5 279.5h.1M427.5 295h.1M403.5 248.5h.1M438.5 258.5h.1M428.5 278h.1M383.5 218h.1M408 253h.1M397.5 270h.1M421 225.5h.1M440.5 278h.1M395 295h.1M396.5 232h.1M420 228h.1M434.5 248.5h.1M416 233h.1M446.5 276h.1M376.5 304h.1M433 273h.1M419.5 243h.1M397 284.5h.1M446.5 297h.1M383 300h.1M437 256h.1M431 273h.1M416.5 256.5h.1M400.5 264h.1M409 291h.1M383 272h.1M413 302h.1M408.5 218.5h.1M377 284.5h.1M439 311.5h.1M386.5 251.5h.1M433 292h.1M423.5 226.5h.1M444.5 311.5h.1M383 296.5h.1M394 214h.1M427.5 227h.1M381 285h.1M393.5 237h.1M386 306h.1M429.5 308.5h.1M438.5 293h.1M440 261.5h.1M390.5 267h.1M377.5 269h.1" stroke="#000" stroke-opacity="0.2" stroke-width="1.3" stroke-linecap="round" fill="none"/><path d="M420.5 234.5h.1M430 282h.1M410 284h.1M436 224.5h.1M382 236h.1M436 264.5h.1M374.5 245.5h.1M404.5 244.5h.1M377.5 305h.1M401 230.5h.1M399 270h.1M422.5 213h.1M421.5 270h.1M395.5 237h.1M431.5 292h.1M413 306h.1M437.5 225.5h.1M418 263.5h.1M374.5 216.5h.1M381 243.5h.1M421.5 302.5h.1M423 229.5h.1M431 268h.1M411.5 219.5h.1M433 256.5h.1M439.5 288.5h.1M389 285.5h.1M414.5 248h.1M420 263.5h.1M376 262.5h.1M441 295.5h.1M424.5 286h.1M426.5 228h.1M396.5 255.5h.1M438.5 290h.1M424 304h.1M431.5 284.5h.1M385.5 280h.1M376.5 303.5h.1M401.5 295h.1M399.5 294h.1M388 273.5h.1M402 265h.1M431.5 303.5h.1M440 246h.1M400 312.5h.1M425.5 277.5h.1M393 237h.1M415 212h.1M386.5 233h.1M428 263.5h.1M439.5 288.5h.1M378 290h.1M382.5 281h.1M424.5 271h.1M378 233.5h.1M424 294h.1M406 249.5h.1M424 244h.1M413 274.5h.1M433 253h.1M437 215.5h.1M406.5 285.5h.1M431 235h.1" stroke="#000" stroke-opacity="0.3" stroke-width="1.3" stroke-linecap="round" fill="none"/><path d="M116.32 316.7L116.32 310.19Q116.94 306.2 125.35 304.63L167.64 279.96L176.67 306.2L126.89 316.7" fill="none" stroke="#444" stroke-width="0.9"/><path d="M245.63 316.7L245.63 310.19Q246.25 306.2 254.64 304.63L296.8 279.96L305.81 306.2L256.17 316.7" fill="none" stroke="#444" stroke-width="0.9"/><path d="M375.64 316.7L375.64 310.19Q376.25 306.2 384.62 304.63L426.67 279.96L435.65 306.2L386.15 316.7" fill="none" stroke="#444" stroke-width="0.9"/><rect x="84.3" y="209.2" width="105.1" height="107.5" fill="none" stroke="#666" stroke-width="0.9"/><line x1="84.6" y1="209.2" x2="84.6" y2="317.2" stroke="#0a0a0a" stroke-width="1.5"/><line x1="83.9" y1="316.5" x2="189.4" y2="316.5" stroke="#0a0a0a" stroke-width="1.5"/><path d="M84.3 316.7h-2.2M84.3 316.7v2.2M84.3 313.34h-1.2M87.58 316.7v1.2M84.3 309.98h-1.2M90.87 316.7v1.2M84.3 306.62h-1.2M94.15 316.7v1.2M84.3 303.26h-1.2M97.44 316.7v1.2M84.3 299.9h-1.2M100.72 316.7v1.2M84.3 296.54h-1.2M104.01 316.7v1.2M84.3 293.18h-1.2M107.29 316.7v1.2M84.3 289.82h-2.2M110.58 316.7v2.2M84.3 286.47h-1.2M113.86 316.7v1.2M84.3 283.11h-1.2M117.14 316.7v1.2M84.3 279.75h-1.2M120.43 316.7v1.2M84.3 276.39h-1.2M123.71 316.7v1.2M84.3 273.03h-1.2M127 316.7v1.2M84.3 269.67h-1.2M130.28 316.7v1.2M84.3 266.31h-1.2M133.57 316.7v1.2M84.3 262.95h-2.2M136.85 316.7v2.2M84.3 259.59h-1.2M140.13 316.7v1.2M84.3 256.23h-1.2M143.42 316.7v1.2M84.3 252.87h-1.2M146.7 316.7v1.2M84.3 249.51h-1.2M149.99 316.7v1.2M84.3 246.15h-1.2M153.27 316.7v1.2M84.3 242.79h-1.2M156.56 316.7v1.2M84.3 239.43h-1.2M159.84 316.7v1.2M84.3 236.07h-2.2M163.12 316.7v2.2M84.3 232.72h-1.2M166.41 316.7v1.2M84.3 229.36h-1.2M169.69 316.7v1.2M84.3 226h-1.2M172.98 316.7v1.2M84.3 222.64h-1.2M176.26 316.7v1.2M84.3 219.28h-1.2M179.55 316.7v1.2M84.3 215.92h-1.2M182.83 316.7v1.2M84.3 212.56h-1.2M186.12 316.7v1.2M84.3 209.2h-2.2M189.4 316.7v2.2" fill="none" stroke="#222" stroke-width="0.6"/><text x="77.65" y="318.9" font-size="6.2" fill="#222" stroke="#222" stroke-width="0.15" textLength="3.15" lengthAdjust="spacingAndGlyphs">0</text><text x="82.72" y="326.1" font-size="6.2" fill="#222" stroke="#222" stroke-width="0.15" textLength="3.15" lengthAdjust="spacingAndGlyphs">0</text><text x="71.35" y="292.02" font-size="6.2" fill="#222" stroke="#222" stroke-width="0.15" textLength="9.45" lengthAdjust="spacingAndGlyphs">256</text><text x="105.85" y="326.1" font-size="6.2" fill="#222" stroke="#222" stroke-width="0.15" textLength="9.45" lengthAdjust="spacingAndGlyphs">256</text><text x="71.35" y="265.15" font-size="6.2" fill="#222" stroke="#222" stroke-width="0.15" textLength="9.45" lengthAdjust="spacingAndGlyphs">512</text><text x="132.12" y="326.1" font-size="6.2" fill="#222" stroke="#222" stroke-width="0.15" textLength="9.45" lengthAdjust="spacingAndGlyphs">512</text><text x="71.35" y="238.27" font-size="6.2" fill="#222" stroke="#222" stroke-width="0.15" textLength="9.45" lengthAdjust="spacingAndGlyphs">768</text><text x="158.4" y="326.1" font-size="6.2" fill="#222" stroke="#222" stroke-width="0.15" textLength="9.45" lengthAdjust="spacingAndGlyphs">768</text><text x="68.2" y="211.4" font-size="6.2" fill="#222" stroke="#222" stroke-width="0.15" textLength="12.6" lengthAdjust="spacingAndGlyphs">1024</text><text x="183.1" y="326.1" font-size="6.2" fill="#222" stroke="#222" stroke-width="0.15" textLength="12.6" lengthAdjust="spacingAndGlyphs">1024</text><rect x="213.7" y="209.2" width="104.8" height="107.5" fill="none" stroke="#666" stroke-width="0.9"/><line x1="213.6" y1="209.2" x2="213.6" y2="317.2" stroke="#0a0a0a" stroke-width="1.5"/><line x1="212.9" y1="316.5" x2="318.5" y2="316.5" stroke="#0a0a0a" stroke-width="1.5"/><path d="M213.7 316.7h-2.2M213.7 316.7v2.2M213.7 313.34h-1.2M216.97 316.7v1.2M213.7 309.98h-1.2M220.25 316.7v1.2M213.7 306.62h-1.2M223.52 316.7v1.2M213.7 303.26h-1.2M226.8 316.7v1.2M213.7 299.9h-1.2M230.07 316.7v1.2M213.7 296.54h-1.2M233.35 316.7v1.2M213.7 293.18h-1.2M236.62 316.7v1.2M213.7 289.82h-2.2M239.9 316.7v2.2M213.7 286.47h-1.2M243.17 316.7v1.2M213.7 283.11h-1.2M246.45 316.7v1.2M213.7 279.75h-1.2M249.72 316.7v1.2M213.7 276.39h-1.2M253 316.7v1.2M213.7 273.03h-1.2M256.27 316.7v1.2M213.7 269.67h-1.2M259.55 316.7v1.2M213.7 266.31h-1.2M262.82 316.7v1.2M213.7 262.95h-2.2M266.1 316.7v2.2M213.7 259.59h-1.2M269.38 316.7v1.2M213.7 256.23h-1.2M272.65 316.7v1.2M213.7 252.87h-1.2M275.93 316.7v1.2M213.7 249.51h-1.2M279.2 316.7v1.2M213.7 246.15h-1.2M282.48 316.7v1.2M213.7 242.79h-1.2M285.75 316.7v1.2M213.7 239.43h-1.2M289.02 316.7v1.2M213.7 236.07h-2.2M292.3 316.7v2.2M213.7 232.72h-1.2M295.57 316.7v1.2M213.7 229.36h-1.2M298.85 316.7v1.2M213.7 226h-1.2M302.12 316.7v1.2M213.7 222.64h-1.2M305.4 316.7v1.2M213.7 219.28h-1.2M308.68 316.7v1.2M213.7 215.92h-1.2M311.95 316.7v1.2M213.7 212.56h-1.2M315.23 316.7v1.2M213.7 209.2h-2.2M318.5 316.7v2.2" fill="none" stroke="#222" stroke-width="0.6"/><text x="207.05" y="318.9" font-size="6.2" fill="#222" stroke="#222" stroke-width="0.15" textLength="3.15" lengthAdjust="spacingAndGlyphs">0</text><text x="212.12" y="326.1" font-size="6.2" fill="#222" stroke="#222" stroke-width="0.15" textLength="3.15" lengthAdjust="spacingAndGlyphs">0</text><text x="200.75" y="292.02" font-size="6.2" fill="#222" stroke="#222" stroke-width="0.15" textLength="9.45" lengthAdjust="spacingAndGlyphs">256</text><text x="235.17" y="326.1" font-size="6.2" fill="#222" stroke="#222" stroke-width="0.15" textLength="9.45" lengthAdjust="spacingAndGlyphs">256</text><text x="200.75" y="265.15" font-size="6.2" fill="#222" stroke="#222" stroke-width="0.15" textLength="9.45" lengthAdjust="spacingAndGlyphs">512</text><text x="261.38" y="326.1" font-size="6.2" fill="#222" stroke="#222" stroke-width="0.15" textLength="9.45" lengthAdjust="spacingAndGlyphs">512</text><text x="200.75" y="238.27" font-size="6.2" fill="#222" stroke="#222" stroke-width="0.15" textLength="9.45" lengthAdjust="spacingAndGlyphs">768</text><text x="287.57" y="326.1" font-size="6.2" fill="#222" stroke="#222" stroke-width="0.15" textLength="9.45" lengthAdjust="spacingAndGlyphs">768</text><text x="197.6" y="211.4" font-size="6.2" fill="#222" stroke="#222" stroke-width="0.15" textLength="12.6" lengthAdjust="spacingAndGlyphs">1024</text><text x="312.2" y="326.1" font-size="6.2" fill="#222" stroke="#222" stroke-width="0.15" textLength="12.6" lengthAdjust="spacingAndGlyphs">1024</text><rect x="343.8" y="209.2" width="104.5" height="107.5" fill="none" stroke="#666" stroke-width="0.9"/><line x1="343.6" y1="209.2" x2="343.6" y2="317.2" stroke="#0a0a0a" stroke-width="1.5"/><line x1="342.9" y1="316.5" x2="448.3" y2="316.5" stroke="#0a0a0a" stroke-width="1.5"/><path d="M343.8 316.7h-2.2M343.8 316.7v2.2M343.8 313.34h-1.2M347.07 316.7v1.2M343.8 309.98h-1.2M350.33 316.7v1.2M343.8 306.62h-1.2M353.6 316.7v1.2M343.8 303.26h-1.2M356.86 316.7v1.2M343.8 299.9h-1.2M360.13 316.7v1.2M343.8 296.54h-1.2M363.39 316.7v1.2M343.8 293.18h-1.2M366.66 316.7v1.2M343.8 289.82h-2.2M369.93 316.7v2.2M343.8 286.47h-1.2M373.19 316.7v1.2M343.8 283.11h-1.2M376.46 316.7v1.2M343.8 279.75h-1.2M379.72 316.7v1.2M343.8 276.39h-1.2M382.99 316.7v1.2M343.8 273.03h-1.2M386.25 316.7v1.2M343.8 269.67h-1.2M389.52 316.7v1.2M343.8 266.31h-1.2M392.78 316.7v1.2M343.8 262.95h-2.2M396.05 316.7v2.2M343.8 259.59h-1.2M399.32 316.7v1.2M343.8 256.23h-1.2M402.58 316.7v1.2M343.8 252.87h-1.2M405.85 316.7v1.2M343.8 249.51h-1.2M409.11 316.7v1.2M343.8 246.15h-1.2M412.38 316.7v1.2M343.8 242.79h-1.2M415.64 316.7v1.2M343.8 239.43h-1.2M418.91 316.7v1.2M343.8 236.07h-2.2M422.18 316.7v2.2M343.8 232.72h-1.2M425.44 316.7v1.2M343.8 229.36h-1.2M428.71 316.7v1.2M343.8 226h-1.2M431.97 316.7v1.2M343.8 222.64h-1.2M435.24 316.7v1.2M343.8 219.28h-1.2M438.5 316.7v1.2M343.8 215.92h-1.2M441.77 316.7v1.2M343.8 212.56h-1.2M445.03 316.7v1.2M343.8 209.2h-2.2M448.3 316.7v2.2" fill="none" stroke="#222" stroke-width="0.6"/><text x="337.15" y="318.9" font-size="6.2" fill="#222" stroke="#222" stroke-width="0.15" textLength="3.15" lengthAdjust="spacingAndGlyphs">0</text><text x="342.23" y="326.1" font-size="6.2" fill="#222" stroke="#222" stroke-width="0.15" textLength="3.15" lengthAdjust="spacingAndGlyphs">0</text><text x="330.85" y="292.02" font-size="6.2" fill="#222" stroke="#222" stroke-width="0.15" textLength="9.45" lengthAdjust="spacingAndGlyphs">256</text><text x="365.2" y="326.1" font-size="6.2" fill="#222" stroke="#222" stroke-width="0.15" textLength="9.45" lengthAdjust="spacingAndGlyphs">256</text><text x="330.85" y="265.15" font-size="6.2" fill="#222" stroke="#222" stroke-width="0.15" textLength="9.45" lengthAdjust="spacingAndGlyphs">512</text><text x="391.32" y="326.1" font-size="6.2" fill="#222" stroke="#222" stroke-width="0.15" textLength="9.45" lengthAdjust="spacingAndGlyphs">512</text><text x="330.85" y="238.27" font-size="6.2" fill="#222" stroke="#222" stroke-width="0.15" textLength="9.45" lengthAdjust="spacingAndGlyphs">768</text><text x="417.45" y="326.1" font-size="6.2" fill="#222" stroke="#222" stroke-width="0.15" textLength="9.45" lengthAdjust="spacingAndGlyphs">768</text><text x="327.7" y="211.4" font-size="6.2" fill="#222" stroke="#222" stroke-width="0.15" textLength="12.6" lengthAdjust="spacingAndGlyphs">1024</text><text x="442" y="326.1" font-size="6.2" fill="#222" stroke="#222" stroke-width="0.15" textLength="12.6" lengthAdjust="spacingAndGlyphs">1024</text><text x="127.9" y="331.0" font-size="6.0" fill="#222" stroke="#222" stroke-width="0.1" textLength="18" lengthAdjust="spacingAndGlyphs">FSC-H</text><text x="128.6" y="201.8" font-size="11.63" font-weight="normal" fill="#111" stroke="#111" stroke-width="0.6" textLength="18.4" lengthAdjust="spacingAndGlyphs">SCF</text><text x="238.5" y="201.6" font-size="11.34" font-weight="normal" fill="#111" stroke="#111" stroke-width="0.6" textLength="59.2" lengthAdjust="spacingAndGlyphs">SCF + BMP4</text><text x="369.5" y="201.6" font-size="11.34" font-weight="normal" fill="#111" stroke="#111" stroke-width="0.6" textLength="55.9" lengthAdjust="spacingAndGlyphs">SCF + IL-15</text><line x1="59.3" y1="209.8" x2="59.3" y2="253.1" stroke="#777" stroke-width="1"/><line x1="59.3" y1="281.6" x2="59.3" y2="315.8" stroke="#777" stroke-width="1"/><text transform="translate(63.4 276) rotate(-90)" font-size="11.92" font-weight="normal" fill="#111" stroke="#111" stroke-width="0.45" textLength="18.5" lengthAdjust="spacingAndGlyphs">SSC</text><line x1="85" y1="339.6" x2="249.8" y2="339.6" stroke="#666" stroke-width="1.3"/><line x1="285.4" y1="339.6" x2="447.7" y2="339.6" stroke="#666" stroke-width="1.3"/><text x="259.4" y="343.3" font-size="12.06" font-weight="normal" fill="#111" stroke="#111" stroke-width="0.45" textLength="18.3" lengthAdjust="spacingAndGlyphs">FSC</text><path d="M104 405.5h.1M91 422.5h.1M106 422.5h.1M101.5 418h.1M88.5 403.5h.1M87 382.5h.1M114.5 432h.1M100.5 384h.1M91 401.5h.1" stroke="#000" stroke-opacity="0.15" stroke-width="1.3" stroke-linecap="round" fill="none"/><path d="M105.5 433.5h.1M114 383h.1M89 422.5h.1M110.5 407.5h.1M113.5 393h.1M100.5 416h.1M107 394h.1" stroke="#000" stroke-opacity="0.3" stroke-width="1.3" stroke-linecap="round" fill="none"/><path d="M243.5 404.5h.1M219.5 414.5h.1M227 416h.1M230 421.5h.1M249 419.5h.1M234 407.5h.1M244.5 404h.1M233.5 397h.1M225.5 419h.1M242.5 413h.1M245.5 418.5h.1M251 432.5h.1M229.5 427.5h.1M256 418h.1M233.5 395.5h.1M222.5 408.5h.1M227.5 410h.1M237.5 405h.1M231.5 416h.1M233.5 406.5h.1M236 427h.1M227.5 432.5h.1M224.5 414.5h.1M226.5 429.5h.1M225.5 413h.1M230 409h.1M219 403h.1M236.5 407.5h.1M233 408.5h.1M224 392h.1M234.5 414.5h.1M231 397.5h.1M220.5 441h.1M236.5 404h.1M226.5 426h.1M237 441h.1M229.5 413.5h.1M226.5 400h.1M234.5 397h.1M222 408h.1M232.5 416h.1M234.5 400.5h.1M234 395h.1M220 418h.1M225 430.5h.1M227.5 414.5h.1M233 423h.1M229 431.5h.1M229 412.5h.1M245.5 414.5h.1M225.5 410h.1M230 400.5h.1M229.5 430h.1M248 415h.1M227 386.5h.1M227.5 422h.1M243.5 416h.1M229 406.5h.1M237.5 414.5h.1M242 413.5h.1M227 418h.1M232 419.5h.1M228.5 411h.1M242.5 419h.1M223.5 407.5h.1M225 418h.1M231 404.5h.1M228 395.5h.1M239 407.5h.1M225 417.5h.1M221.5 420.5h.1M238 413h.1M225 415.5h.1M231 419.5h.1M241 414h.1M234.5 422.5h.1M231.5 427.5h.1M229.5 419.5h.1M237.5 425h.1M235.5 427h.1M232.5 417h.1M222 405.5h.1M222.5 395.5h.1M229 425.5h.1M249.5 412h.1M227.5 418.5h.1M224 423h.1M244.5 417.5h.1M236 402h.1M246.5 423h.1M227 413h.1M231.5 413h.1M233 416h.1M222.5 423.5h.1M233 418h.1M227 400.5h.1M235 410.5h.1M232.5 405.5h.1M247.5 403.5h.1M235 410h.1M230.5 416h.1M222.5 435.5h.1M224.5 410h.1M234.5 408h.1M226.5 417h.1M234 411.5h.1M236.5 404.5h.1M238 413h.1M229 409.5h.1M228 418h.1M232 435.5h.1M234 409h.1M236 410.5h.1M234.5 414.5h.1M229.5 442h.1M219.5 414h.1M216 400.5h.1M220.5 422.5h.1M240 415h.1M225.5 420.5h.1M232 428h.1M219.5 430h.1M217 403h.1M227.5 418h.1M285 383.5h.1M255 441.5h.1M237.5 439h.1M243.5 398h.1M225 424h.1M235 395h.1M257 415h.1" stroke="#000" stroke-opacity="0.1" stroke-width="1.3" stroke-linecap="round" fill="none"/><path d="M235 432.5h.1M220.5 397h.1M221 432.5h.1M218 426.5h.1M222.5 401.5h.1M228 419.5h.1M228.5 405h.1M234.5 408.5h.1M230 420.5h.1M231.5 415h.1M223 433.5h.1M231.5 425.5h.1M224.5 413h.1M233 417h.1M247.5 411.5h.1M226 423h.1M236.5 405.5h.1M226.5 431.5h.1M231 410.5h.1M220 408.5h.1M225 409.5h.1M224.5 414.5h.1M229 412.5h.1M220.5 422h.1M232 401.5h.1M228 412h.1M228.5 419.5h.1M220.5 398.5h.1M241 399.5h.1M238 419.5h.1M240 414.5h.1M241.5 404.5h.1M232 410.5h.1M226.5 409h.1M224.5 414h.1M224.5 413.5h.1M240.5 426.5h.1M236 410h.1M234 421h.1M229 398h.1M224 405h.1M227.5 423.5h.1M226 421.5h.1M218 416.5h.1M224 417.5h.1M219 416h.1M228 417h.1M226 406.5h.1M234 399h.1M236 400h.1M234 405h.1M232.5 420h.1M225 400.5h.1M254 410.5h.1M222.5 406h.1M240 424.5h.1M220.5 401h.1M229.5 395.5h.1M243 421h.1M224 420h.1M240.5 402.5h.1M218.5 429.5h.1M225.5 414h.1M230.5 424.5h.1M246.5 418.5h.1M238 415.5h.1M225.5 419.5h.1M231.5 412.5h.1M232.5 413h.1M222.5 415.5h.1M228.5 417.5h.1M240.5 431.5h.1M241.5 413h.1M225 420.5h.1M244 409h.1M224.5 420h.1M247 418h.1M240.5 400h.1M229 422h.1M223 399.5h.1M244 407.5h.1M216.5 420.5h.1M233 410.5h.1M239.5 407h.1M223 413.5h.1M224 414h.1M231 424h.1M238.5 401h.1M233 412.5h.1M216.5 408h.1M233 411h.1M252.5 433h.1M229 410.5h.1M225.5 408h.1M220.5 402h.1M222.5 415h.1M217 398h.1M225 427h.1M230.5 416h.1M235.5 409.5h.1M240.5 425h.1M225 414h.1M225 418h.1M239.5 401.5h.1M226 401.5h.1M232.5 419h.1M240.5 419h.1M233.5 413.5h.1M231.5 416.5h.1M244 416.5h.1M226.5 430.5h.1M226.5 409h.1M249.5 412.5h.1M226 416.5h.1M249 399.5h.1M238 426.5h.1M231 415h.1M229 423h.1M222.5 395.5h.1M226.5 414h.1M234.5 413.5h.1M225.5 428.5h.1M232 414h.1M228.5 407h.1M220.5 406.5h.1M228.5 415h.1M227 423.5h.1M235.5 416.5h.1M247 413.5h.1M220.5 414h.1M252.5 405.5h.1M231 409.5h.1M249.5 423h.1M228 432.5h.1M222 411h.1M243 412.5h.1M228.5 415.5h.1M232 421h.1M225.5 420.5h.1M227.5 398h.1M235 422.5h.1M229 414.5h.1M229.5 408h.1M228 401.5h.1M231 414.5h.1M220 388h.1M282.5 394.5h.1M231 377.5h.1M276 445h.1M273 399h.1M252 399h.1M234 391h.1M281.5 432h.1M269.5 444h.1M239 447h.1M267.5 413.5h.1M278 390.5h.1M221.5 423h.1" stroke="#000" stroke-opacity="0.22" stroke-width="1.3" stroke-linecap="round" fill="none"/><path d="M241.5 411h.1M241.5 413.5h.1M237.5 410h.1M232.5 408h.1M219.5 430h.1M224.5 414h.1M221.5 406.5h.1M237 408h.1M225.5 414h.1M225 424h.1M229.5 422h.1M236.5 411h.1M223.5 401.5h.1M234.5 427h.1M223.5 410h.1M232 409h.1M229.5 416.5h.1M250.5 432h.1M225.5 418.5h.1M230 403.5h.1M232.5 387.5h.1M226 410.5h.1M238 409h.1M228 421h.1M228.5 398h.1M226 416h.1M236 425h.1M223.5 396.5h.1M234 411h.1M242 414h.1M228 398h.1M235 422h.1M226 391.5h.1M220.5 409.5h.1M225 417h.1M242 414h.1M228 403.5h.1M236.5 409h.1M229 404h.1M227 416.5h.1M222 411h.1M225.5 414.5h.1M228.5 423h.1M227.5 421h.1M227 414h.1M231.5 428h.1M242 421.5h.1M237 418h.1M233 410h.1M234 404h.1M222.5 416h.1M224 422.5h.1M237.5 411h.1M230.5 402.5h.1M234.5 401h.1M227 422.5h.1M246 408.5h.1M223.5 414.5h.1M235 396h.1M230.5 419h.1M227 429h.1M238 403.5h.1M226.5 422h.1M237.5 396h.1M234.5 414h.1M233 412.5h.1M225 425.5h.1M230.5 409h.1M234 407.5h.1M229 411h.1M226.5 413.5h.1M235.5 422.5h.1M224.5 429.5h.1M226 413h.1M225 410.5h.1M223 429h.1M216 402.5h.1M226 418.5h.1M221.5 409.5h.1M246 424h.1M234.5 406h.1M221.5 425h.1M231.5 413.5h.1M223.5 406h.1M224 421h.1M229.5 415.5h.1M226.5 402.5h.1M227.5 401.5h.1M228 405h.1M242 404h.1M220 413.5h.1M222.5 411.5h.1M224.5 410.5h.1M247.5 410.5h.1M227.5 423.5h.1M252.5 411.5h.1M231.5 399.5h.1M227.5 407.5h.1M226 420h.1M225 421h.1M223 401.5h.1M237 415h.1M236 418h.1M228 406.5h.1M239 400.5h.1M231.5 415.5h.1M226 408h.1M221 411h.1M238 427.5h.1M228.5 410.5h.1M226 408h.1M225.5 404h.1M220 411h.1M231 409h.1M229 413.5h.1M225 416h.1M224.5 424.5h.1M236.5 403.5h.1M227.5 408.5h.1M221 419h.1M227.5 403.5h.1M221 408.5h.1M237.5 414.5h.1M236 430.5h.1M234 421h.1M224 402.5h.1M220.5 421h.1M237.5 406.5h.1M228 406.5h.1M228 402.5h.1M224 416h.1M245 421.5h.1M232 414.5h.1M235.5 404.5h.1M235.5 402h.1M231 420h.1M235.5 416h.1M251 414.5h.1M219.5 416.5h.1M240 403h.1M225.5 416h.1M222 407h.1M244.5 402h.1M228.5 400.5h.1M228 437.5h.1M235.5 434h.1M233 411.5h.1M241 411.5h.1M223.5 408h.1M264 401h.1M231 411.5h.1M281 437h.1M256 401.5h.1M224.5 396.5h.1M231 390.5h.1M249 445.5h.1M241.5 420h.1M282 417h.1M268.5 418.5h.1M272 447h.1M270.5 378.5h.1M274 413.5h.1M243 394.5h.1M266.5 404h.1M265 421h.1" stroke="#000" stroke-opacity="0.36" stroke-width="1.3" stroke-linecap="round" fill="none"/><path d="M224 424h.1M225.5 422h.1M224 425h.1M239.5 411.5h.1M223.5 429.5h.1M231.5 397h.1M232 420h.1M224 413h.1M227 402.5h.1M228 415h.1M229 402h.1M232.5 412.5h.1M230.5 428h.1M232.5 403h.1M229.5 426h.1M231.5 412.5h.1M238.5 423.5h.1M226.5 394.5h.1M225 423.5h.1M235 421h.1M222 412h.1M220 403.5h.1M229 411.5h.1M235 443h.1M243 408h.1M230 406.5h.1M217 422.5h.1M233 426h.1M245 431.5h.1M238.5 411.5h.1M222 398.5h.1M247.5 406h.1M226.5 415h.1M230.5 423.5h.1M231 406.5h.1M234 415h.1M221 409h.1M223.5 429h.1M228 423h.1M235 419.5h.1M229.5 415.5h.1M229 411h.1M230.5 416.5h.1M232.5 420.5h.1M223 407.5h.1M223.5 415.5h.1M224 418h.1M234.5 412.5h.1M219 410h.1M225 406.5h.1M233 419h.1M225.5 431.5h.1M231.5 401h.1M221 433h.1M237 427.5h.1M224.5 404.5h.1M229 418.5h.1M224 421.5h.1M231.5 410.5h.1M227 404.5h.1M222 432h.1M260.5 386.5h.1M265.5 396h.1M274.5 418.5h.1M263 439.5h.1" stroke="#000" stroke-opacity="0.5" stroke-width="1.3" stroke-linecap="round" fill="none"/><path d="M358 416h.1M368 417h.1M359.5 399.5h.1M345.5 418.5h.1M362 424.5h.1M360 422h.1M356 410.5h.1M358 419h.1M357.5 424h.1M354 411h.1M352 423h.1M365 413h.1M366.5 415.5h.1M350 427.5h.1M361 436h.1M347 434.5h.1M360.5 436h.1M353 408.5h.1M381 416h.1M356.5 426.5h.1M358.5 417h.1M347.5 409h.1M374 428.5h.1M370 407.5h.1M357.5 421.5h.1M382.5 427h.1M361 408.5h.1M347 417.5h.1M356.5 417h.1M364.5 425.5h.1M368 441h.1M366.5 415h.1M350.5 418h.1M361 412.5h.1M355 424.5h.1M351 413.5h.1M368.5 407.5h.1M353 405.5h.1M349.5 417.5h.1M356.5 409h.1M361 433h.1M385.5 429.5h.1M349 410h.1M354.5 415.5h.1M356 401.5h.1M347 415.5h.1M355.5 416h.1M358.5 428h.1M355.5 411h.1M356 432.5h.1M368 423h.1M351.5 432h.1M361 430.5h.1M380.5 420h.1M346 420h.1M345 423.5h.1M346.5 410h.1M366 410.5h.1M359 420.5h.1M373.5 420h.1M347 409h.1M358 423.5h.1M369 418.5h.1M350 418.5h.1M349 432h.1M370.5 406.5h.1M349 435.5h.1M357 417.5h.1M355 420h.1M356.5 414.5h.1M361.5 418.5h.1M352 432h.1M379 422.5h.1M347.5 451h.1M348 425h.1M357.5 427.5h.1M348 427h.1M366 422h.1M375 416.5h.1M356.5 406.5h.1M374.5 435.5h.1M348 438h.1M361 420.5h.1M362.5 426.5h.1M359 412.5h.1M368.5 424h.1M352 412.5h.1M350.5 410h.1M360 419h.1M360.5 410.5h.1M355.5 416h.1M359.5 424.5h.1M363.5 446.5h.1M349.5 415h.1M359.5 435.5h.1M350.5 434h.1M347 427.5h.1M347 432.5h.1M350 428.5h.1M352 414h.1M363 446.5h.1M373.5 429h.1M349 420.5h.1M350 439.5h.1M359 416h.1M364.5 437h.1M366.5 429.5h.1M354.5 408h.1M350 417h.1M365 441.5h.1M371.5 424.5h.1M345.5 403h.1M365 423h.1M348 427h.1M355.5 400.5h.1M374 394h.1M369 421.5h.1M375.5 455.5h.1M357 418h.1M358.5 422.5h.1M362.5 417h.1M349 410h.1M372 423.5h.1M350 441.5h.1M378.5 409.5h.1M353 404.5h.1M375 431h.1M359 424.5h.1M356.5 424h.1M357 424.5h.1M371.5 423.5h.1M364.5 427h.1M349.5 406h.1M357 402h.1M350 427h.1M361.5 408h.1M351 413h.1M359.5 417h.1M357.5 439h.1M368.5 419h.1M348 408.5h.1M368 420.5h.1M372.5 414h.1M372 415.5h.1M368 421h.1M347 429.5h.1M372.5 446h.1M352 425h.1M350.5 407.5h.1M360 421.5h.1M354 440h.1M345 419.5h.1M367.5 433h.1M373.5 406h.1M361.5 412.5h.1M349 431h.1M353 433h.1M374.5 428.5h.1M358 417h.1M348 415.5h.1M356.5 401.5h.1M386.5 417.5h.1M403 414.5h.1M374 403h.1M385 421h.1M370 425h.1M396.5 409h.1M383.5 419.5h.1M370 427.5h.1M392 413h.1M385.5 428h.1M388.5 416.5h.1M380 399h.1M381.5 397.5h.1M384 415.5h.1M378.5 428h.1M397.5 424h.1M379 406.5h.1M387 423h.1M402.5 424.5h.1M404.5 426h.1M395.5 409h.1M400.5 425.5h.1M378 406h.1M379.5 431.5h.1M385.5 422h.1M397 402.5h.1M382.5 416.5h.1M384 414h.1M408.5 412h.1M384.5 407h.1M389 421.5h.1M392.5 413.5h.1M377.5 422.5h.1M387 407h.1M367 407.5h.1M400 414.5h.1M398.5 408.5h.1M408.5 419h.1M385.5 418.5h.1M380 426h.1M390.5 413.5h.1M412.5 415h.1M364 412.5h.1M395.5 415h.1M395.5 429.5h.1M402 423.5h.1M387 419h.1M385 408h.1M388.5 424h.1M396 426.5h.1M394.5 412h.1M394.5 399h.1M384 397h.1M389.5 426h.1M407 422h.1M399.5 410h.1M383.5 425.5h.1M379.5 412.5h.1M391.5 413.5h.1M391 404.5h.1M393 403h.1M386 406h.1M395.5 410.5h.1M397.5 414.5h.1M404.5 420.5h.1M402.5 411.5h.1M393 415h.1M384 407.5h.1M387.5 417.5h.1M385.5 416.5h.1M393 407h.1M397.5 408h.1M406.5 421h.1M381 421h.1M403 419.5h.1M392.5 397.5h.1M400 416h.1M383.5 422h.1M381 422h.1M399 412h.1M386.5 428.5h.1M388.5 401.5h.1M389.5 405.5h.1M385 409.5h.1M403.5 414.5h.1M391.5 399h.1M393 426h.1M393.5 406.5h.1M396.5 405h.1M379.5 431.5h.1M379.5 405h.1M392 408h.1M388 413h.1M404 425h.1M387.5 407h.1M391 407h.1M402 400.5h.1M388.5 409.5h.1M387.5 413.5h.1M389 414h.1M386.5 419h.1M411 424h.1M379 410h.1M397.5 410.5h.1M385.5 407h.1M382.5 421.5h.1M417 426h.1M405.5 417h.1M391 409h.1M385 399h.1M369.5 414h.1M384 414.5h.1M382 416h.1M368.5 421h.1M373 395h.1M389.5 412h.1M394.5 426h.1M412.5 418h.1M390.5 398h.1M390 433.5h.1M396 420h.1M387.5 410.5h.1M390.5 414.5h.1M370 412h.1M398 427h.1M393.5 412.5h.1M397 418h.1M378 430h.1M400.5 420.5h.1M407.5 423.5h.1M381 422h.1M397 408h.1M382.5 412h.1M391.5 416h.1M393.5 432h.1M389.5 414h.1M379 400.5h.1M391.5 396.5h.1M398.5 421h.1M381.5 409h.1M395.5 412.5h.1M395.5 437h.1M372.5 421h.1M388 415h.1M385.5 412h.1M387.5 415h.1M386.5 425h.1M401 415h.1M381 418.5h.1M393 421h.1M381 414h.1M383 416.5h.1M392.5 425h.1M394 410h.1M395.5 412h.1M389.5 417.5h.1M383.5 422.5h.1M393.5 418h.1M393.5 410h.1M382 418.5h.1M385 430.5h.1M387 414.5h.1M386.5 420h.1M382 419h.1M385 416.5h.1M387.5 415h.1M401 416h.1M395 417h.1M398 414.5h.1M387 424h.1M394 409.5h.1M392.5 418h.1M388.5 418.5h.1M389 413h.1M385.5 419h.1M382.5 412h.1M391.5 415h.1M386 422.5h.1M395.5 416h.1M390 416.5h.1M383 419h.1M390.5 412.5h.1M386.5 415.5h.1M388 414.5h.1M391 410.5h.1M399 422h.1M387 415.5h.1M387 417.5h.1M396.5 420.5h.1M396.5 409.5h.1M387.5 416.5h.1M390.5 414.5h.1M389.5 413h.1M390 422h.1M391 426h.1M406 414.5h.1M394 413h.1M388.5 422.5h.1M392 409h.1M394.5 401.5h.1M392.5 410.5h.1M394 419h.1M385 413h.1M390.5 413.5h.1M391 420h.1M389.5 416.5h.1M388 418h.1M376 403.5h.1M375 405h.1M393.5 415.5h.1M369 395h.1M371 395.5h.1M390.5 391h.1M409.5 401h.1M379.5 406h.1M366.5 390.5h.1M376.5 428.5h.1M355 401h.1M382 414h.1M373 396h.1M397.5 387.5h.1M407.5 389h.1M384.5 406.5h.1M381.5 385.5h.1M405 404.5h.1M371 393h.1M393.5 408.5h.1M406 395h.1M381 389h.1M410.5 419h.1M383.5 425.5h.1M379 399h.1M393.5 423h.1M387 411h.1M363.5 404.5h.1M365 407.5h.1M398.5 405.5h.1M388.5 399h.1M382 418h.1M358 397.5h.1M387.5 420h.1M384 415h.1M356.5 399h.1M395.5 397.5h.1M391.5 396.5h.1M364.5 395h.1M390 425.5h.1M390.5 416.5h.1M369 394.5h.1M396 395.5h.1M372 413.5h.1M383 388.5h.1M382 424.5h.1M379 418.5h.1M350 409h.1M384.5 408.5h.1M364 417.5h.1M371 407.5h.1M386.5 412.5h.1M395 395.5h.1M362 405.5h.1M426 391.5h.1M426 388.5h.1M418 387h.1M416 389h.1M420 389.5h.1M425 388h.1M415.5 416h.1M358 405h.1M406 394h.1M349.5 386h.1M357.5 440h.1M391 442.5h.1M416 407.5h.1M372.5 393.5h.1M381.5 394.5h.1M385.5 428h.1M384.5 390.5h.1M382 390h.1M377 378h.1M414.5 434h.1M406 391.5h.1M363.5 381.5h.1M389.5 423.5h.1M372 380.5h.1" stroke="#000" stroke-opacity="0.1" stroke-width="1.3" stroke-linecap="round" fill="none"/><path d="M378 433h.1M353 424.5h.1M369 418h.1M369.5 406h.1M359 425h.1M372 423.5h.1M361 421.5h.1M357.5 424h.1M354 434h.1M370.5 436.5h.1M367.5 423.5h.1M352 403h.1M371 400h.1M345.5 419.5h.1M355 437.5h.1M348.5 427h.1M349 418h.1M345.5 435h.1M350.5 449.5h.1M351.5 397h.1M369 441h.1M357 431h.1M366.5 413.5h.1M363.5 442h.1M359.5 412.5h.1M372.5 427h.1M360.5 435h.1M346.5 426.5h.1M365.5 405h.1M349 439.5h.1M366.5 421h.1M358.5 408h.1M349.5 412h.1M360.5 438.5h.1M359.5 424.5h.1M363.5 421.5h.1M366.5 423h.1M373.5 423.5h.1M356.5 440.5h.1M371 405h.1M360 440.5h.1M346 396.5h.1M359.5 426.5h.1M368 419.5h.1M347 417h.1M350.5 417.5h.1M364.5 412h.1M381.5 416.5h.1M376 412.5h.1M353.5 431.5h.1M356 436.5h.1M353 411h.1M358.5 428h.1M350 395h.1M349 421h.1M355 431.5h.1M372.5 405h.1M358.5 431.5h.1M378 411.5h.1M347.5 420.5h.1M355.5 436h.1M364 434.5h.1M366.5 415h.1M354.5 409h.1M359 416h.1M350.5 397.5h.1M347 408h.1M355 410h.1M367 433.5h.1M345 445.5h.1M366 430h.1M372 419.5h.1M354.5 415.5h.1M355.5 408.5h.1M355 430h.1M352.5 424h.1M360 444.5h.1M367 407.5h.1M369 397.5h.1M357 434.5h.1M361.5 419.5h.1M360 425.5h.1M357 425.5h.1M350 430.5h.1M362 409h.1M360.5 426h.1M361.5 407.5h.1M360 417h.1M350.5 422.5h.1M345.5 414h.1M377.5 412.5h.1M349 408h.1M363 409.5h.1M358 433h.1M355.5 422h.1M345.5 404h.1M359 417.5h.1M352.5 419h.1M357 443h.1M360.5 408h.1M353.5 413.5h.1M360.5 443h.1M359 436h.1M371.5 409.5h.1M381 449.5h.1M346.5 417.5h.1M352.5 432h.1M377.5 432.5h.1M358.5 406h.1M352.5 412h.1M346 419h.1M352 413.5h.1M346 429.5h.1M362 385h.1M359 436h.1M354 425h.1M369 433h.1M374.5 401.5h.1M359 404.5h.1M374.5 417.5h.1M363.5 429h.1M352 418.5h.1M346 416h.1M377.5 432.5h.1M378.5 413.5h.1M370.5 425h.1M354.5 412h.1M376.5 409.5h.1M365.5 432h.1M360 406h.1M347 423h.1M360.5 415h.1M345.5 425.5h.1M357 428h.1M354 411.5h.1M356 410.5h.1M352 403.5h.1M365 408.5h.1M347 401.5h.1M348 406h.1M364.5 423.5h.1M357 434h.1M366 417.5h.1M365 427.5h.1M346.5 417.5h.1M354 417h.1M372 424h.1M365 418.5h.1M364.5 411h.1M368 423.5h.1M349 426h.1M365.5 437h.1M345.5 427h.1M351 414h.1M368.5 421h.1M371 414.5h.1M349.5 398h.1M368.5 408.5h.1M348.5 420.5h.1M353 442h.1M353.5 427.5h.1M351 444.5h.1M358.5 416.5h.1M346.5 426.5h.1M369.5 426.5h.1M375 427h.1M356 441h.1M359.5 422.5h.1M355.5 429.5h.1M366 424h.1M376 403.5h.1M350 424h.1M366 424h.1M356.5 419.5h.1M354 428h.1M361 415.5h.1M373 407h.1M348.5 431h.1M351.5 429.5h.1M345.5 422.5h.1M402.5 413.5h.1M393 434h.1M391 403.5h.1M382 414.5h.1M391 421.5h.1M376.5 407.5h.1M388 422h.1M394 423h.1M379.5 430h.1M384 408h.1M386 422h.1M401.5 404h.1M384 424.5h.1M377 431h.1M387.5 419h.1M390 409.5h.1M399.5 407h.1M397 432.5h.1M389.5 423.5h.1M389 414.5h.1M389 398h.1M394.5 440h.1M397 429.5h.1M384 412.5h.1M373 404.5h.1M384.5 411.5h.1M391.5 418h.1M378.5 411h.1M373 429h.1M401 413.5h.1M399.5 406h.1M357.5 407.5h.1M390.5 408.5h.1M406 432h.1M385 424.5h.1M412.5 416h.1M380 407h.1M382.5 421h.1M393 422.5h.1M394 410.5h.1M391.5 416.5h.1M408.5 422h.1M387.5 415.5h.1M396 417.5h.1M384.5 415.5h.1M387.5 407.5h.1M392.5 420.5h.1M391.5 419h.1M378 435h.1M381.5 420h.1M403 393.5h.1M370 417.5h.1M413.5 417h.1M381 416h.1M398.5 415h.1M380 412.5h.1M385 415.5h.1M404.5 424h.1M394.5 405.5h.1M392 411.5h.1M387 390.5h.1M386.5 414h.1M393.5 418h.1M397 404.5h.1M385 406.5h.1M408.5 403h.1M401 413h.1M389.5 419.5h.1M394 412.5h.1M381.5 404.5h.1M395.5 411.5h.1M372.5 404.5h.1M385.5 405h.1M407.5 419h.1M395 408h.1M375 433.5h.1M375.5 422.5h.1M391 413h.1M395 418.5h.1M409 412h.1M391.5 427h.1M398 409h.1M410.5 396h.1M370 401.5h.1M403 416h.1M403.5 404.5h.1M389 430h.1M394.5 408.5h.1M404 411.5h.1M383 423.5h.1M371.5 416.5h.1M379 416h.1M395.5 421h.1M397.5 410h.1M386 405.5h.1M381.5 409h.1M385 414.5h.1M380.5 413.5h.1M396 391.5h.1M399.5 415.5h.1M386 410.5h.1M393.5 415h.1M388.5 411h.1M378 424.5h.1M396.5 403.5h.1M392 409.5h.1M388.5 418.5h.1M399 411h.1M391.5 421h.1M393.5 406h.1M376.5 429h.1M378.5 393.5h.1M374.5 425.5h.1M402 409.5h.1M393.5 416h.1M385 412h.1M397.5 412h.1M390.5 400.5h.1M394.5 426h.1M387 405.5h.1M387 411h.1M391 410.5h.1M413.5 427.5h.1M387 405.5h.1M411.5 420h.1M382 409.5h.1M397 412.5h.1M395.5 411h.1M385.5 424h.1M399.5 424.5h.1M386 414.5h.1M390.5 415.5h.1M386 401.5h.1M387 411.5h.1M399.5 408h.1M392.5 420.5h.1M388.5 412h.1M392.5 420h.1M390.5 429h.1M385.5 413.5h.1M394.5 418h.1M398.5 422h.1M385.5 416.5h.1M394 410h.1M385 413.5h.1M391.5 415.5h.1M392.5 417h.1M391.5 414h.1M387.5 416h.1M388.5 411.5h.1M389.5 412h.1M389 411.5h.1M394.5 423h.1M395.5 407h.1M388 411h.1M388.5 407.5h.1M385.5 418.5h.1M385 410.5h.1M387 418h.1M381.5 416h.1M388.5 418h.1M393.5 419h.1M387 419.5h.1M395.5 412.5h.1M392 424h.1M397 411h.1M385.5 412.5h.1M388.5 416h.1M386 410h.1M385 415h.1M389 412.5h.1M390.5 419h.1M388.5 415h.1M401.5 414h.1M385 412h.1M393 414h.1M395.5 417h.1M387.5 413h.1M377.5 418.5h.1M393.5 414.5h.1M385.5 414h.1M392.5 410.5h.1M386.5 413h.1M385 417h.1M397.5 419.5h.1M399.5 416h.1M390.5 413h.1M392 410h.1M397.5 413h.1M390 420.5h.1M388 418.5h.1M391 406h.1M390 420h.1M391.5 420h.1M388.5 417h.1M385.5 413.5h.1M392.5 415.5h.1M392.5 425.5h.1M396.5 421.5h.1M386 420.5h.1M385.5 414.5h.1M385 413.5h.1M390 421h.1M389 415.5h.1M392 421h.1M384 416h.1M396.5 412h.1M385.5 420h.1M385.5 420.5h.1M374 392h.1M384 415h.1M401.5 407h.1M376 383.5h.1M388 398h.1M378.5 392.5h.1M378.5 412h.1M371.5 409h.1M372 408.5h.1M397 420.5h.1M373.5 409.5h.1M394.5 415h.1M374.5 403h.1M360.5 406h.1M370 411.5h.1M374.5 407.5h.1M368.5 409.5h.1M356.5 391h.1M401.5 402h.1M386.5 385h.1M405 386.5h.1M364 400h.1M377.5 400.5h.1M381.5 413.5h.1M383.5 409h.1M387 410h.1M396 405.5h.1M371.5 396h.1M381 420.5h.1M383.5 417.5h.1M401 395.5h.1M359 417h.1M378.5 388.5h.1M371 386.5h.1M402.5 385.5h.1M370 413.5h.1M384.5 402h.1M391.5 404.5h.1M349 388h.1M394.5 406.5h.1M381 419h.1M374 410.5h.1M382 395.5h.1M396.5 416h.1M368 420.5h.1M403 413.5h.1M396.5 421h.1M373.5 398.5h.1M387.5 402.5h.1M419.5 387.5h.1M416.5 388.5h.1M419 388.5h.1M420 387.5h.1M417.5 382.5h.1M425.5 384h.1M421 390h.1M408 387.5h.1M350.5 393h.1M383.5 439h.1M402 394h.1M387 420h.1M393.5 387h.1M352.5 443h.1M376 422h.1M365.5 376.5h.1M354 438.5h.1M356.5 449.5h.1" stroke="#000" stroke-opacity="0.22" stroke-width="1.3" stroke-linecap="round" fill="none"/><path d="M345 421h.1M360.5 415.5h.1M353 427.5h.1M348 421.5h.1M348.5 425.5h.1M362.5 429.5h.1M355 429h.1M367 405h.1M364 420.5h.1M366.5 407.5h.1M368.5 425.5h.1M357 403h.1M364.5 421h.1M380.5 408h.1M365.5 448h.1M348 408h.1M359.5 425h.1M346 419.5h.1M356.5 430.5h.1M360.5 436h.1M357.5 433.5h.1M346 456.5h.1M351.5 418h.1M373.5 411h.1M347 410.5h.1M346.5 429.5h.1M345.5 451.5h.1M367 433.5h.1M356 415.5h.1M348.5 405h.1M355.5 426h.1M346 425h.1M377.5 419.5h.1M364 445.5h.1M356 411.5h.1M348.5 424h.1M353.5 413.5h.1M353 420h.1M359.5 421.5h.1M355.5 417h.1M353.5 420.5h.1M358.5 428h.1M354.5 431.5h.1M363.5 405.5h.1M369 427.5h.1M366 415.5h.1M355.5 417h.1M354 417.5h.1M361.5 417.5h.1M352 424h.1M363 413.5h.1M362.5 416.5h.1M352 428h.1M369 434.5h.1M355 432h.1M354.5 424.5h.1M371 408.5h.1M368 407h.1M350 432.5h.1M367 426.5h.1M352.5 428h.1M379.5 423h.1M345.5 412h.1M356.5 412.5h.1M373.5 425.5h.1M351.5 411.5h.1M349.5 409.5h.1M356.5 428h.1M366.5 421.5h.1M357.5 439.5h.1M349 415.5h.1M351.5 397.5h.1M357 416h.1M357 428.5h.1M369.5 425.5h.1M346.5 414.5h.1M373 423.5h.1M370 401h.1M356 419.5h.1M346.5 426h.1M362.5 424.5h.1M348.5 423.5h.1M349.5 415.5h.1M360.5 420h.1M367 427h.1M371.5 412h.1M358.5 395.5h.1M356.5 446h.1M362.5 429h.1M347 441h.1M356 429h.1M353 434.5h.1M380.5 433h.1M367 421h.1M345.5 421h.1M356 427.5h.1M347 444h.1M360 420h.1M377.5 416h.1M351 425h.1M346.5 420h.1M358 421h.1M378 432.5h.1M346 423.5h.1M365.5 438h.1M355.5 411h.1M365 421.5h.1M370 427h.1M354 427.5h.1M346.5 409h.1M357 429.5h.1M359.5 442h.1M350 416.5h.1M345 408.5h.1M370 416h.1M345.5 402.5h.1M361 416.5h.1M370.5 414.5h.1M348.5 424h.1M355 420h.1M347.5 423h.1M349.5 437.5h.1M350 434h.1M364 424.5h.1M354.5 431.5h.1M370 399h.1M378.5 413.5h.1M354.5 411.5h.1M352 410h.1M359 425h.1M367 412.5h.1M354 424h.1M369 436h.1M345.5 434.5h.1M360.5 421.5h.1M386 419.5h.1M363.5 420h.1M356 427.5h.1M347.5 421.5h.1M350.5 405.5h.1M363 438h.1M347 435h.1M348.5 415.5h.1M372.5 419h.1M351.5 417h.1M349 423h.1M357.5 422h.1M347.5 421.5h.1M349.5 415.5h.1M370 441h.1M368 428h.1M347.5 410h.1M363.5 427.5h.1M364 418h.1M359.5 426.5h.1M349 421.5h.1M359.5 421.5h.1M357 413.5h.1M353 432h.1M373.5 424h.1M370.5 417.5h.1M356 424.5h.1M350 410.5h.1M394.5 416.5h.1M392 413.5h.1M393.5 428h.1M388 421h.1M379 408h.1M401.5 424h.1M392 406h.1M383 422h.1M397.5 412h.1M372 415.5h.1M391 424h.1M384 406.5h.1M392.5 419.5h.1M390 433.5h.1M384 407h.1M387 417.5h.1M396 425.5h.1M405 406h.1M393 410h.1M401.5 416h.1M379 425h.1M384.5 410h.1M399 413.5h.1M374 418h.1M381 411h.1M390 420h.1M385.5 403.5h.1M398 407.5h.1M367 399.5h.1M389 399h.1M396 411h.1M375 417h.1M383 402.5h.1M389.5 416h.1M388.5 421.5h.1M393 402.5h.1M396.5 404h.1M374 422.5h.1M394.5 418.5h.1M387 420.5h.1M389.5 425.5h.1M386.5 421.5h.1M404 417.5h.1M394 402.5h.1M389.5 403h.1M394.5 418h.1M388 414h.1M378 421.5h.1M389.5 407h.1M399 433h.1M389 433h.1M402 413.5h.1M389.5 425h.1M402.5 428h.1M361 414h.1M388.5 413h.1M387.5 404.5h.1M379.5 402h.1M418.5 410.5h.1M366.5 422.5h.1M382.5 424.5h.1M388.5 429h.1M398.5 423h.1M386.5 410.5h.1M378.5 424.5h.1M381 412h.1M391.5 410h.1M389.5 429h.1M377 420.5h.1M368.5 419.5h.1M377 403h.1M385 426h.1M395.5 407.5h.1M387 431.5h.1M391 413h.1M378.5 418h.1M403 421h.1M394 403.5h.1M396.5 415.5h.1M400.5 412.5h.1M379 418.5h.1M391 423h.1M386 417.5h.1M395.5 416h.1M388 411h.1M391.5 413h.1M388.5 401h.1M386 428h.1M386 427.5h.1M391.5 411.5h.1M386.5 406.5h.1M384.5 416.5h.1M392.5 426h.1M389 406h.1M387 403.5h.1M394 428.5h.1M407.5 408h.1M401.5 411.5h.1M391.5 412.5h.1M377 413.5h.1M399 398h.1M385 410h.1M379 410h.1M389.5 410.5h.1M385.5 426.5h.1M378 399.5h.1M398.5 430h.1M402 412h.1M386 405h.1M399.5 400h.1M393.5 420h.1M405.5 415h.1M368 421.5h.1M386 421.5h.1M389 411h.1M385 434.5h.1M409.5 432h.1M390 435h.1M389.5 432h.1M401 417h.1M407 408h.1M384 422h.1M401 399.5h.1M390.5 418h.1M397.5 409h.1M386 405.5h.1M391.5 401h.1M381 421.5h.1M382.5 409.5h.1M389 408h.1M403 426h.1M396 432.5h.1M405 413h.1M403 403h.1M414 413.5h.1M393.5 414h.1M399.5 411h.1M402 407h.1M385 425h.1M397.5 414h.1M379 416h.1M366 417h.1M390.5 412.5h.1M382 419.5h.1M380 409h.1M390.5 401h.1M391.5 430.5h.1M392.5 411.5h.1M394.5 411h.1M393 411h.1M380 414h.1M398 412h.1M387 422.5h.1M384 418h.1M397 417.5h.1M387.5 423.5h.1M389.5 412.5h.1M393 407h.1M400 411h.1M385.5 411h.1M389.5 413.5h.1M384.5 418h.1M383.5 415h.1M380 418h.1M397.5 416h.1M390 424h.1M398.5 414h.1M385.5 430h.1M392 426h.1M390.5 413.5h.1M391.5 411.5h.1M395.5 412.5h.1M390.5 416.5h.1M395.5 415.5h.1M394.5 423.5h.1M392 422h.1M391.5 411h.1M386 419.5h.1M397 410.5h.1M403 414.5h.1M392 406.5h.1M388 419h.1M382.5 411.5h.1M399.5 418.5h.1M384 413h.1M387 413h.1M391 415.5h.1M393 414.5h.1M396 420h.1M392.5 425h.1M385.5 416h.1M391.5 418.5h.1M393 415.5h.1M390 408.5h.1M395 413h.1M394.5 420h.1M391 419h.1M392.5 422.5h.1M396 416h.1M399.5 420.5h.1M392 407h.1M382.5 411.5h.1M400.5 419h.1M383 418h.1M380.5 407.5h.1M393 418h.1M396 421.5h.1M394.5 414.5h.1M386.5 413h.1M392 416h.1M402.5 419h.1M394.5 412h.1M394.5 410h.1M386.5 412.5h.1M389.5 418h.1M389.5 415h.1M394.5 420h.1M397.5 418h.1M390.5 417.5h.1M399.5 415h.1M391.5 414.5h.1M400 409h.1M397.5 410.5h.1M396.5 421.5h.1M390 418.5h.1M387.5 411h.1M352 412h.1M378 400.5h.1M411.5 392h.1M405 398h.1M391 399h.1M368 393h.1M352 403h.1M368 409.5h.1M382.5 414.5h.1M359 407.5h.1M366.5 427.5h.1M378 411h.1M380.5 399h.1M374 424.5h.1M395.5 409h.1M383.5 404h.1M357 411.5h.1M367.5 399h.1M378 418h.1M389.5 409h.1M404 395h.1M405.5 415.5h.1M395 422.5h.1M357 406.5h.1M387 391.5h.1M370 411.5h.1M397 393h.1M378.5 430.5h.1M387.5 418.5h.1M357.5 398h.1M379.5 386h.1M368 397.5h.1M381.5 411h.1M395.5 381h.1M393.5 407.5h.1M379 398.5h.1M397.5 394.5h.1M383.5 423.5h.1M389.5 404h.1M380 407h.1M378.5 414h.1M369.5 386.5h.1M395 415h.1M402.5 403h.1M365.5 402h.1M360 413h.1M387 384.5h.1M385.5 403.5h.1M356 388h.1M359 412h.1M387 407h.1M390.5 374h.1M383 396.5h.1M387 406.5h.1M391.5 406.5h.1M429.5 390h.1M424 388h.1M409.5 388h.1M412 389.5h.1M422 390h.1M417.5 385h.1M415.5 388h.1M426 386h.1M429 385.5h.1M415.5 389.5h.1M416 387.5h.1M351.5 417h.1M412.5 408.5h.1M416.5 384h.1M346 434h.1M413 384h.1M403 376h.1M386.5 427h.1M397.5 446h.1" stroke="#000" stroke-opacity="0.38" stroke-width="1.3" stroke-linecap="round" fill="none"/><path d="M370.5 416h.1M356 430h.1M363.5 428.5h.1M352 404h.1M353.5 406h.1M356 417.5h.1M358 412h.1M348.5 404h.1M362 421.5h.1M368 400.5h.1M368.5 439h.1M350 426h.1M349 417.5h.1M351.5 411h.1M353.5 431h.1M361.5 432.5h.1M354 421h.1M370 435.5h.1M374.5 431h.1M351 440h.1M377 422h.1M358.5 411h.1M363.5 416.5h.1M354.5 393h.1M347.5 423h.1M366 383h.1M352 413h.1M347 428h.1M347 431.5h.1M363.5 422.5h.1M347.5 412h.1M360 416.5h.1M354 404h.1M347.5 430h.1M354 396.5h.1M347.5 415.5h.1M346.5 446h.1M345.5 425h.1M374 417h.1M357.5 423h.1M349 411h.1M357.5 409.5h.1M353 402h.1M354.5 426h.1M346.5 412.5h.1M352 416h.1M360.5 420.5h.1M361 390.5h.1M368 419h.1M368 417.5h.1M379.5 407.5h.1M353 415h.1M353 419h.1M360.5 421.5h.1M370 422.5h.1M345 431h.1M356.5 420h.1M371 428h.1M371.5 420h.1M365.5 418h.1M354.5 430h.1M365.5 432h.1M350 432h.1M353 425.5h.1M362.5 426.5h.1M348.5 415.5h.1M347 441h.1M351 412h.1M370.5 411.5h.1M349.5 432.5h.1M369 425h.1M378 413h.1M350 396.5h.1M364 410h.1M349 427h.1M362.5 427.5h.1M352.5 427h.1M348.5 408.5h.1M349.5 427h.1M366 446.5h.1M364.5 420h.1M360.5 428.5h.1M347.5 415h.1M368.5 425h.1M364.5 426.5h.1M364 418.5h.1M350.5 428h.1M359 430h.1M356 440h.1M361.5 425.5h.1M362.5 423h.1M365.5 421.5h.1M369.5 413h.1M361.5 408.5h.1M355 444h.1M374 427h.1M347 438.5h.1M356.5 420.5h.1M359.5 432.5h.1M358.5 431.5h.1M362.5 419h.1M367.5 417h.1M351 417h.1M370.5 429h.1M382.5 402h.1M359 428.5h.1M350.5 431.5h.1M346.5 411h.1M361.5 421.5h.1M354 434.5h.1M370 416h.1M348 420.5h.1M353.5 406.5h.1M349 429.5h.1M360 390.5h.1M348.5 390h.1M368.5 419h.1M345 413.5h.1M360 421.5h.1M348 421.5h.1M408.5 421h.1M385 415.5h.1M380.5 412.5h.1M390 417h.1M398.5 416.5h.1M381 409.5h.1M374.5 421.5h.1M385 384.5h.1M377 412.5h.1M389.5 427.5h.1M374.5 430.5h.1M392.5 403.5h.1M403.5 400h.1M398.5 405.5h.1M398.5 421h.1M379.5 404h.1M404.5 407h.1M382.5 444h.1M389.5 415.5h.1M376.5 423.5h.1M376.5 431h.1M386 413h.1M395.5 410.5h.1M401 420.5h.1M402 410.5h.1M384 397.5h.1M393.5 397h.1M371 414.5h.1M400 441h.1M408.5 425.5h.1M388 438.5h.1M395.5 407.5h.1M404 429h.1M374 410.5h.1M388 404h.1M402.5 412.5h.1M386 415.5h.1M381.5 415h.1M387.5 414h.1M377 409h.1M385 400.5h.1M392.5 422h.1M388 406h.1M397.5 417h.1M400 420h.1M408 426h.1M387 401h.1M400 422h.1M387 415.5h.1M399 426.5h.1M400 440.5h.1M379.5 439h.1M394.5 417h.1M388.5 417.5h.1M391 410h.1M396.5 415.5h.1M385 423.5h.1M384 407h.1M383 421.5h.1M374 414.5h.1M382 411h.1M394 422h.1M379.5 414.5h.1M389 413h.1M382 429.5h.1M385.5 422.5h.1M399.5 411.5h.1M405 420.5h.1M383.5 414h.1M397.5 408.5h.1M381.5 418.5h.1M387.5 422.5h.1M398 407h.1M399 405h.1M382 410h.1M398.5 413.5h.1M393 413h.1M387.5 419.5h.1M393 412h.1M398.5 412.5h.1M390.5 418h.1M389.5 418h.1M391 415.5h.1M387.5 418h.1M389.5 416.5h.1M392 415.5h.1M398 418.5h.1M384 411h.1M396 413.5h.1M387.5 418h.1M395 412.5h.1M388.5 421.5h.1M399.5 417h.1M393.5 419h.1M392.5 416.5h.1M388 414h.1M385 409.5h.1M390.5 418h.1M396.5 419h.1M392.5 413h.1M391.5 419.5h.1M383 416.5h.1M395.5 410h.1M386 421.5h.1M390 412h.1M394.5 405h.1M388.5 413.5h.1M393.5 420h.1M390 411h.1M391 420.5h.1M391 410h.1M399 412.5h.1M389 422.5h.1M387.5 409h.1M395.5 421.5h.1M388 418.5h.1M385 422.5h.1M397 420h.1M371.5 413h.1M379 407h.1M383.5 415h.1M394 396.5h.1M420.5 405h.1M349.5 404h.1M383 414.5h.1M397 400.5h.1M350.5 407.5h.1M366.5 396h.1M367 389h.1M384.5 400h.1M359 413.5h.1M372.5 396.5h.1M372.5 411h.1M380.5 393.5h.1M402 411.5h.1M384 408h.1M377 396.5h.1M369 410.5h.1M381.5 396.5h.1M383 413h.1M388.5 410.5h.1M392 407h.1M406.5 393h.1M397.5 424.5h.1M369.5 385h.1M402.5 400h.1M410 418.5h.1M362 401h.1M381 425.5h.1M383.5 402.5h.1M408.5 419.5h.1M390 406h.1M361.5 389h.1M368.5 406.5h.1M369 412h.1M406.5 411.5h.1M365.5 413.5h.1M371.5 402.5h.1M380.5 403h.1M375 403h.1M391.5 396h.1M359.5 411h.1M418 415.5h.1M387.5 439h.1" stroke="#000" stroke-opacity="0.58" stroke-width="1.3" stroke-linecap="round" fill="none"/><rect x="84.3" y="354.3" width="105.1" height="106.2" fill="none" stroke="#555" stroke-width="1"/><line x1="84.6" y1="354.3" x2="84.6" y2="461.2" stroke="#0a0a0a" stroke-width="1.5"/><line x1="83.9" y1="460.5" x2="189.4" y2="460.5" stroke="#0a0a0a" stroke-width="1.5"/><path d="M84.3 460.5h-2.2M84.3 460.5v2.2M84.3 452.51h-1.3M92.21 460.5v1.3M84.3 447.83h-1.3M96.84 460.5v1.3M84.3 444.52h-1.3M100.12 460.5v1.3M84.3 441.94h-1.3M102.67 460.5v1.3M84.3 439.84h-1.3M104.75 460.5v1.3M84.3 438.06h-1.3M106.5 460.5v1.3M84.3 436.52h-1.3M108.03 460.5v1.3M84.3 435.16h-1.3M109.37 460.5v1.3M84.3 433.95h-2.2M110.58 460.5v2.2M84.3 425.96h-1.3M118.48 460.5v1.3M84.3 421.28h-1.3M123.11 460.5v1.3M84.3 417.97h-1.3M126.39 460.5v1.3M84.3 415.39h-1.3M128.94 460.5v1.3M84.3 413.29h-1.3M131.02 460.5v1.3M84.3 411.51h-1.3M132.78 460.5v1.3M84.3 409.97h-1.3M134.3 460.5v1.3M84.3 408.61h-1.3M135.65 460.5v1.3M84.3 407.4h-2.2M136.85 460.5v2.2M84.3 399.41h-1.3M144.76 460.5v1.3M84.3 394.73h-1.3M149.39 460.5v1.3M84.3 391.42h-1.3M152.67 460.5v1.3M84.3 388.84h-1.3M155.22 460.5v1.3M84.3 386.74h-1.3M157.3 460.5v1.3M84.3 384.96h-1.3M159.05 460.5v1.3M84.3 383.42h-1.3M160.58 460.5v1.3M84.3 382.06h-1.3M161.92 460.5v1.3M84.3 380.85h-2.2M163.12 460.5v2.2M84.3 372.86h-1.3M171.03 460.5v1.3M84.3 368.18h-1.3M175.66 460.5v1.3M84.3 364.87h-1.3M178.94 460.5v1.3M84.3 362.29h-1.3M181.49 460.5v1.3M84.3 360.19h-1.3M183.57 460.5v1.3M84.3 358.41h-1.3M185.33 460.5v1.3M84.3 356.87h-1.3M186.85 460.5v1.3M84.3 355.51h-1.3M188.2 460.5v1.3" fill="none" stroke="#222" stroke-width="0.6"/><text x="71.7" y="465.5" font-size="5.8" fill="#333" stroke="#333" stroke-width="0.12" textLength="5.2" lengthAdjust="spacingAndGlyphs">10</text><text x="77.3" y="463" font-size="4.2" fill="#333">0</text><text x="78.1" y="472.6" font-size="5.8" fill="#333" stroke="#333" stroke-width="0.12" textLength="5.4" lengthAdjust="spacingAndGlyphs">10</text><text x="83.8" y="469.9" font-size="4.2" fill="#333">0</text><text x="71.7" y="438.95" font-size="5.8" fill="#333" stroke="#333" stroke-width="0.12" textLength="5.2" lengthAdjust="spacingAndGlyphs">10</text><text x="77.3" y="436.45" font-size="4.2" fill="#333">1</text><text x="104.38" y="472.6" font-size="5.8" fill="#333" stroke="#333" stroke-width="0.12" textLength="5.4" lengthAdjust="spacingAndGlyphs">10</text><text x="110.08" y="469.9" font-size="4.2" fill="#333">1</text><text x="71.7" y="412.4" font-size="5.8" fill="#333" stroke="#333" stroke-width="0.12" textLength="5.2" lengthAdjust="spacingAndGlyphs">10</text><text x="77.3" y="409.9" font-size="4.2" fill="#333">2</text><text x="130.65" y="472.6" font-size="5.8" fill="#333" stroke="#333" stroke-width="0.12" textLength="5.4" lengthAdjust="spacingAndGlyphs">10</text><text x="136.35" y="469.9" font-size="4.2" fill="#333">2</text><text x="71.7" y="385.85" font-size="5.8" fill="#333" stroke="#333" stroke-width="0.12" textLength="5.2" lengthAdjust="spacingAndGlyphs">10</text><text x="77.3" y="383.35" font-size="4.2" fill="#333">3</text><text x="156.93" y="472.6" font-size="5.8" fill="#333" stroke="#333" stroke-width="0.12" textLength="5.4" lengthAdjust="spacingAndGlyphs">10</text><text x="162.62" y="469.9" font-size="4.2" fill="#333">3</text><text x="71.7" y="359.3" font-size="5.8" fill="#333" stroke="#333" stroke-width="0.12" textLength="5.2" lengthAdjust="spacingAndGlyphs">10</text><text x="77.3" y="356.8" font-size="4.2" fill="#333">4</text><text x="183.2" y="472.6" font-size="5.8" fill="#333" stroke="#333" stroke-width="0.12" textLength="5.4" lengthAdjust="spacingAndGlyphs">10</text><text x="188.9" y="469.9" font-size="4.2" fill="#333">4</text><rect x="213.7" y="354.3" width="104.8" height="106.2" fill="none" stroke="#555" stroke-width="1"/><line x1="213.6" y1="354.3" x2="213.6" y2="461.2" stroke="#0a0a0a" stroke-width="1.5"/><line x1="212.9" y1="460.5" x2="318.5" y2="460.5" stroke="#0a0a0a" stroke-width="1.5"/><path d="M213.7 460.5h-2.2M213.7 460.5v2.2M213.7 452.51h-1.3M221.59 460.5v1.3M213.7 447.83h-1.3M226.2 460.5v1.3M213.7 444.52h-1.3M229.47 460.5v1.3M213.7 441.94h-1.3M232.01 460.5v1.3M213.7 439.84h-1.3M234.09 460.5v1.3M213.7 438.06h-1.3M235.84 460.5v1.3M213.7 436.52h-1.3M237.36 460.5v1.3M213.7 435.16h-1.3M238.7 460.5v1.3M213.7 433.95h-2.2M239.9 460.5v2.2M213.7 425.96h-1.3M247.79 460.5v1.3M213.7 421.28h-1.3M252.4 460.5v1.3M213.7 417.97h-1.3M255.67 460.5v1.3M213.7 415.39h-1.3M258.21 460.5v1.3M213.7 413.29h-1.3M260.29 460.5v1.3M213.7 411.51h-1.3M262.04 460.5v1.3M213.7 409.97h-1.3M263.56 460.5v1.3M213.7 408.61h-1.3M264.9 460.5v1.3M213.7 407.4h-2.2M266.1 460.5v2.2M213.7 399.41h-1.3M273.99 460.5v1.3M213.7 394.73h-1.3M278.6 460.5v1.3M213.7 391.42h-1.3M281.87 460.5v1.3M213.7 388.84h-1.3M284.41 460.5v1.3M213.7 386.74h-1.3M286.49 460.5v1.3M213.7 384.96h-1.3M288.24 460.5v1.3M213.7 383.42h-1.3M289.76 460.5v1.3M213.7 382.06h-1.3M291.1 460.5v1.3M213.7 380.85h-2.2M292.3 460.5v2.2M213.7 372.86h-1.3M300.19 460.5v1.3M213.7 368.18h-1.3M304.8 460.5v1.3M213.7 364.87h-1.3M308.07 460.5v1.3M213.7 362.29h-1.3M310.61 460.5v1.3M213.7 360.19h-1.3M312.69 460.5v1.3M213.7 358.41h-1.3M314.44 460.5v1.3M213.7 356.87h-1.3M315.96 460.5v1.3M213.7 355.51h-1.3M317.3 460.5v1.3" fill="none" stroke="#222" stroke-width="0.6"/><text x="201.1" y="465.5" font-size="5.8" fill="#333" stroke="#333" stroke-width="0.12" textLength="5.2" lengthAdjust="spacingAndGlyphs">10</text><text x="206.7" y="463" font-size="4.2" fill="#333">0</text><text x="207.5" y="472.6" font-size="5.8" fill="#333" stroke="#333" stroke-width="0.12" textLength="5.4" lengthAdjust="spacingAndGlyphs">10</text><text x="213.2" y="469.9" font-size="4.2" fill="#333">0</text><text x="201.1" y="438.95" font-size="5.8" fill="#333" stroke="#333" stroke-width="0.12" textLength="5.2" lengthAdjust="spacingAndGlyphs">10</text><text x="206.7" y="436.45" font-size="4.2" fill="#333">1</text><text x="233.7" y="472.6" font-size="5.8" fill="#333" stroke="#333" stroke-width="0.12" textLength="5.4" lengthAdjust="spacingAndGlyphs">10</text><text x="239.4" y="469.9" font-size="4.2" fill="#333">1</text><text x="201.1" y="412.4" font-size="5.8" fill="#333" stroke="#333" stroke-width="0.12" textLength="5.2" lengthAdjust="spacingAndGlyphs">10</text><text x="206.7" y="409.9" font-size="4.2" fill="#333">2</text><text x="259.9" y="472.6" font-size="5.8" fill="#333" stroke="#333" stroke-width="0.12" textLength="5.4" lengthAdjust="spacingAndGlyphs">10</text><text x="265.6" y="469.9" font-size="4.2" fill="#333">2</text><text x="201.1" y="385.85" font-size="5.8" fill="#333" stroke="#333" stroke-width="0.12" textLength="5.2" lengthAdjust="spacingAndGlyphs">10</text><text x="206.7" y="383.35" font-size="4.2" fill="#333">3</text><text x="286.1" y="472.6" font-size="5.8" fill="#333" stroke="#333" stroke-width="0.12" textLength="5.4" lengthAdjust="spacingAndGlyphs">10</text><text x="291.8" y="469.9" font-size="4.2" fill="#333">3</text><text x="201.1" y="359.3" font-size="5.8" fill="#333" stroke="#333" stroke-width="0.12" textLength="5.2" lengthAdjust="spacingAndGlyphs">10</text><text x="206.7" y="356.8" font-size="4.2" fill="#333">4</text><text x="312.3" y="472.6" font-size="5.8" fill="#333" stroke="#333" stroke-width="0.12" textLength="5.4" lengthAdjust="spacingAndGlyphs">10</text><text x="318" y="469.9" font-size="4.2" fill="#333">4</text><rect x="343.8" y="354.3" width="104.5" height="106.2" fill="none" stroke="#555" stroke-width="1"/><line x1="343.6" y1="354.3" x2="343.6" y2="461.2" stroke="#0a0a0a" stroke-width="1.5"/><line x1="342.9" y1="460.5" x2="448.3" y2="460.5" stroke="#0a0a0a" stroke-width="1.5"/><path d="M343.8 460.5h-2.2M343.8 460.5v2.2M343.8 452.51h-1.3M351.66 460.5v1.3M343.8 447.83h-1.3M356.26 460.5v1.3M343.8 444.52h-1.3M359.53 460.5v1.3M343.8 441.94h-1.3M362.06 460.5v1.3M343.8 439.84h-1.3M364.13 460.5v1.3M343.8 438.06h-1.3M365.88 460.5v1.3M343.8 436.52h-1.3M367.39 460.5v1.3M343.8 435.16h-1.3M368.73 460.5v1.3M343.8 433.95h-2.2M369.93 460.5v2.2M343.8 425.96h-1.3M377.79 460.5v1.3M343.8 421.28h-1.3M382.39 460.5v1.3M343.8 417.97h-1.3M385.65 460.5v1.3M343.8 415.39h-1.3M388.19 460.5v1.3M343.8 413.29h-1.3M390.25 460.5v1.3M343.8 411.51h-1.3M392 460.5v1.3M343.8 409.97h-1.3M393.52 460.5v1.3M343.8 408.61h-1.3M394.85 460.5v1.3M343.8 407.4h-2.2M396.05 460.5v2.2M343.8 399.41h-1.3M403.91 460.5v1.3M343.8 394.73h-1.3M408.51 460.5v1.3M343.8 391.42h-1.3M411.78 460.5v1.3M343.8 388.84h-1.3M414.31 460.5v1.3M343.8 386.74h-1.3M416.38 460.5v1.3M343.8 384.96h-1.3M418.13 460.5v1.3M343.8 383.42h-1.3M419.64 460.5v1.3M343.8 382.06h-1.3M420.98 460.5v1.3M343.8 380.85h-2.2M422.18 460.5v2.2M343.8 372.86h-1.3M430.04 460.5v1.3M343.8 368.18h-1.3M434.64 460.5v1.3M343.8 364.87h-1.3M437.9 460.5v1.3M343.8 362.29h-1.3M440.44 460.5v1.3M343.8 360.19h-1.3M442.5 460.5v1.3M343.8 358.41h-1.3M444.25 460.5v1.3M343.8 356.87h-1.3M445.77 460.5v1.3M343.8 355.51h-1.3M447.1 460.5v1.3" fill="none" stroke="#222" stroke-width="0.6"/><text x="331.2" y="465.5" font-size="5.8" fill="#333" stroke="#333" stroke-width="0.12" textLength="5.2" lengthAdjust="spacingAndGlyphs">10</text><text x="336.8" y="463" font-size="4.2" fill="#333">0</text><text x="337.6" y="472.6" font-size="5.8" fill="#333" stroke="#333" stroke-width="0.12" textLength="5.4" lengthAdjust="spacingAndGlyphs">10</text><text x="343.3" y="469.9" font-size="4.2" fill="#333">0</text><text x="331.2" y="438.95" font-size="5.8" fill="#333" stroke="#333" stroke-width="0.12" textLength="5.2" lengthAdjust="spacingAndGlyphs">10</text><text x="336.8" y="436.45" font-size="4.2" fill="#333">1</text><text x="363.73" y="472.6" font-size="5.8" fill="#333" stroke="#333" stroke-width="0.12" textLength="5.4" lengthAdjust="spacingAndGlyphs">10</text><text x="369.43" y="469.9" font-size="4.2" fill="#333">1</text><text x="331.2" y="412.4" font-size="5.8" fill="#333" stroke="#333" stroke-width="0.12" textLength="5.2" lengthAdjust="spacingAndGlyphs">10</text><text x="336.8" y="409.9" font-size="4.2" fill="#333">2</text><text x="389.85" y="472.6" font-size="5.8" fill="#333" stroke="#333" stroke-width="0.12" textLength="5.4" lengthAdjust="spacingAndGlyphs">10</text><text x="395.55" y="469.9" font-size="4.2" fill="#333">2</text><text x="331.2" y="385.85" font-size="5.8" fill="#333" stroke="#333" stroke-width="0.12" textLength="5.2" lengthAdjust="spacingAndGlyphs">10</text><text x="336.8" y="383.35" font-size="4.2" fill="#333">3</text><text x="415.98" y="472.6" font-size="5.8" fill="#333" stroke="#333" stroke-width="0.12" textLength="5.4" lengthAdjust="spacingAndGlyphs">10</text><text x="421.68" y="469.9" font-size="4.2" fill="#333">3</text><text x="331.2" y="359.3" font-size="5.8" fill="#333" stroke="#333" stroke-width="0.12" textLength="5.2" lengthAdjust="spacingAndGlyphs">10</text><text x="336.8" y="356.8" font-size="4.2" fill="#333">4</text><text x="442.1" y="472.6" font-size="5.8" fill="#333" stroke="#333" stroke-width="0.12" textLength="5.4" lengthAdjust="spacingAndGlyphs">10</text><text x="447.8" y="469.9" font-size="4.2" fill="#333">4</text><line x1="59.3" y1="354.6" x2="59.3" y2="383.5" stroke="#777" stroke-width="1"/><line x1="59.3" y1="431.2" x2="59.3" y2="460" stroke="#777" stroke-width="1"/><text transform="translate(63.6 423.5) rotate(-90)" font-size="12.06" font-weight="normal" fill="#111" stroke="#111" stroke-width="0.45" textLength="32" lengthAdjust="spacingAndGlyphs">CD161</text><line x1="85" y1="487.7" x2="239.2" y2="487.7" stroke="#666" stroke-width="1.3"/><line x1="294" y1="487.7" x2="447.7" y2="487.7" stroke="#666" stroke-width="1.3"/><text x="254.6" y="491.2" font-size="11.19" font-weight="normal" fill="#111" stroke="#111" stroke-width="0.45" textLength="27.3" lengthAdjust="spacingAndGlyphs">CD56</text><path d="M35.6 562.4L36.3 562.01L37 560.9L37.7 559.96L38.4 559.08L39.1 557.82L39.8 556.97L40.5 554.63L41.2 555.47L41.9 553.64L42.6 552.64L43.3 551.55L44 550.99L44.7 550.87L45.4 547.8L46.1 546.7L46.8 546.05L47.5 545.12L48.2 542.72L48.9 541.85L49.6 541.06L50.3 541.8L51 537.89L51.7 541.34L52.4 539.83L53.1 542.21L53.8 541.41L54.5 540.34L55.2 542.53L55.9 541.35L56.6 544.18L57.3 542.28L58 545.86L58.7 543.66L59.4 547.24L60.1 549.26L60.8 551.14L61.5 551.66L62.2 550.7L62.9 553.9L63.6 554.83L64.3 554.77L65 555L65.7 556.66L66.4 557.52L67.1 558.14L67.8 558.9L68.5 559.27L69.2 559.89L69.9 561.18L70.6 561.99L71.3 562.4L72 562.4L72.7 562.4L73.4 562.4L74.1 562.4L74.8 562.4L75.5 562.4L76.2 562.4L76.9 562.4L77.6 562.4L78.3 562.4L79 562.4L79.7 562.4L80.4 562.4L81.1 562.4L81.8 562.4L82.5 562.4L83.2 562.4L83.9 562.4L84.6 562.4L85.3 562.4L86 562.4L86.7 562.4L87.4 562.4L88.1 562.4L88.8 562.4L89.5 562.4L90.2 562.4L90.9 562.4L91.6 562.4L92.3 562.4L93 562.4L93.7 562.4L94.4 562.4L95.1 562.4L95.8 562.4L96.5 562.4L97.2 562.4L97.9 562.4L98.6 562.4L99.3 562.4L100 562.4L100.7 562.4L101.4 562.4L102.1 562.4L102.8 562.4L103.5 562.4L104.2 562.4L104.9 562.4L105.6 562.4L106.3 562.4L107 562.4L107.7 562.4L108.4 562.4L109.1 562.4L109.8 562.4L110.5 562.4L111.2 562.4L111.9 562.4L112.6 562.4L113.3 562.4L114 562.4L114.7 562.4L115.4 562.4L116.1 562.4L116.8 562.4L117.5 562.4L118.2 562.4L118.9 562.4L119.6 562.4L120.3 562.4L121 562.4L121.7 562.4L122.4 562.4L123.1 562.4L123.8 562.4L124.5 562.4L125.2 562.4L125.9 562.4L126.6 562.4L127.3 562.4L128 562.4L128.7 562.4L129.4 562.4L130.1 562.4L130.8 562.4L131.5 562.4L132.2 562.4L132.9 562.4L133.6 562.4L134.3 562.4L135 562.4L135.7 562.4L136.4 562.4L137.1 562.4L137.8 562.4L138.5 562.4L139.2 562.4L139.9 562.4L140.6 562.4L141.3 562.4L142 562.4" fill="none" stroke="#b8b8b8" stroke-width="1.6"/><path d="M35.6 562.4L35.6 562.27L36.3 562.2L37 562.18L37.7 562.1L38.4 562.04L39.1 561.7L39.8 561.64L40.5 561.3L41.2 561.43L41.9 561.35L42.6 561.34L43.3 561.2L44 560.64L44.7 560.89L45.4 560.47L46.1 560.06L46.8 559.91L47.5 559.57L48.2 559.62L48.9 558.66L49.6 558.17L50.3 556.48L51 556.3L51.7 553.86L52.4 553.58L53.1 550.35L53.8 547.59L54.5 545.37L55.2 546.37L55.9 539.66L56.6 544.44L57.3 536.99L58 539.95L58.7 535.35L59.4 540.31L60.1 540.02L60.8 544.99L61.5 544.35L62.2 546.12L62.9 550.82L63.6 552.38L64.3 554.34L65 555.78L65.7 556.42L66.4 557.18L67.1 557.13L67.8 555.99L68.5 556.73L69.2 555.83L69.9 556.3L70.6 552.79L71.3 553.2L72 554.3L72.7 551.22L73.4 552.39L74.1 550.99L74.8 552.24L75.5 552.12L76.2 548.99L76.9 549.74L77.6 549.35L78.3 548.9L79 550.31L79.7 551.14L80.4 550.08L81.1 552.95L81.8 551.1L82.5 549.9L83.2 552.32L83.9 549.92L84.6 553.45L85.3 554.56L86 553.6L86.7 555.07L87.4 554.91L88.1 556.53L88.8 556.3L89.5 557.31L90.2 557.8L90.9 557.89L91.6 559.24L92.3 559.63L93 559.47L93.7 559.87L94.4 560.49L95.1 561.03L95.8 561.29L96.5 561.53L97.2 561.71L97.9 561.63L98.6 562.1L99.3 562.06L100 562.14L100.7 562.25L101.4 562.27L102.1 562.3L102.8 562.33L103.5 562.34L104.2 562.36L104.9 562.38L105.6 562.38L106.3 562.38L107 562.39L107.7 562.39L108.4 562.39L109.1 562.4L109.8 562.4L110.5 562.4L111.2 562.4L111.9 562.4L112.6 562.4L113.3 562.4L114 562.4L114.7 562.4L115.4 562.4L116.1 562.4L116.8 562.4L117.5 562.4L118.2 562.4L118.9 562.4L119.6 562.4L120.3 562.4L121 562.4L121.7 562.4L122.4 562.4L123.1 562.4L123.8 562.4L124.5 562.4L125.2 562.4L125.9 562.4L126.6 562.4L127.3 562.4L128 562.4L128.7 562.4L129.4 562.4L130.1 562.4L130.8 562.4L131.5 562.4L132.2 562.4L132.9 562.4L133.6 562.4L134.3 562.4L135 562.4L135.7 562.4L136.4 562.4L137.1 562.4L137.8 562.4L138.5 562.4L139.2 562.4L139.9 562.4L140.6 562.4L141.3 562.4L142 562.4L142 562.4Z" fill="#050505" stroke="none" stroke-width="1"/><path d="M35.6 562.4L36.3 562.01L37 560.9L37.7 559.96L38.4 559.08L39.1 557.82L39.8 556.97L40.5 554.63L41.2 555.47L41.9 553.64L42.6 552.64L43.3 551.55L44 550.99L44.7 550.87L45.4 547.8L46.1 546.7L46.8 546.05L47.5 545.12L48.2 542.72L48.9 541.85L49.6 541.06L50.3 541.8L51 537.89L51.7 541.34L52.4 539.83L53.1 542.21L53.8 541.41L54.5 540.34L55.2 542.53L55.9 541.35L56.6 544.18L57.3 542.28L58 545.86L58.7 543.66L59.4 547.24L60.1 549.26L60.8 551.14L61.5 551.66L62.2 550.7L62.9 553.9L63.6 554.83L64.3 554.77L65 555L65.7 556.66L66.4 557.52L67.1 558.14L67.8 558.9L68.5 559.27L69.2 559.89L69.9 561.18L70.6 561.99L71.3 562.4L72 562.4L72.7 562.4L73.4 562.4L74.1 562.4L74.8 562.4L75.5 562.4L76.2 562.4L76.9 562.4L77.6 562.4L78.3 562.4L79 562.4L79.7 562.4L80.4 562.4L81.1 562.4L81.8 562.4L82.5 562.4L83.2 562.4L83.9 562.4L84.6 562.4L85.3 562.4L86 562.4L86.7 562.4L87.4 562.4L88.1 562.4L88.8 562.4L89.5 562.4L90.2 562.4L90.9 562.4L91.6 562.4L92.3 562.4L93 562.4L93.7 562.4L94.4 562.4L95.1 562.4L95.8 562.4L96.5 562.4L97.2 562.4L97.9 562.4L98.6 562.4L99.3 562.4L100 562.4L100.7 562.4L101.4 562.4L102.1 562.4L102.8 562.4L103.5 562.4L104.2 562.4L104.9 562.4L105.6 562.4L106.3 562.4L107 562.4L107.7 562.4L108.4 562.4L109.1 562.4L109.8 562.4L110.5 562.4L111.2 562.4L111.9 562.4L112.6 562.4L113.3 562.4L114 562.4L114.7 562.4L115.4 562.4L116.1 562.4L116.8 562.4L117.5 562.4L118.2 562.4L118.9 562.4L119.6 562.4L120.3 562.4L121 562.4L121.7 562.4L122.4 562.4L123.1 562.4L123.8 562.4L124.5 562.4L125.2 562.4L125.9 562.4L126.6 562.4L127.3 562.4L128 562.4L128.7 562.4L129.4 562.4L130.1 562.4L130.8 562.4L131.5 562.4L132.2 562.4L132.9 562.4L133.6 562.4L134.3 562.4L135 562.4L135.7 562.4L136.4 562.4L137.1 562.4L137.8 562.4L138.5 562.4L139.2 562.4L139.9 562.4L140.6 562.4L141.3 562.4L142 562.4" fill="none" stroke="#b8b8b8" stroke-width="1.6" stroke-opacity="0.55"/><rect x="34.6" y="529.9" width="107.8" height="33.1" fill="none" stroke="#222" stroke-width="1.1"/><path d="M34.6 530.9h-3.2M34.6 532.85h-2M34.6 534.8h-2M34.6 536.75h-3.2M34.6 538.7h-2M34.6 540.65h-2M34.6 542.6h-3.2M34.6 544.55h-2M34.6 546.5h-2M34.6 548.45h-3.2M34.6 550.4h-2M34.6 552.35h-2M34.6 554.3h-3.2M34.6 556.25h-2M34.6 558.2h-2M34.6 560.15h-3.2M34.6 562.1h-2" fill="none" stroke="#222" stroke-width="0.7"/><path d="M34.6 563v2.6M42.71 563v1.5M47.46 563v1.5M50.83 563v1.5M53.44 563v1.5M55.57 563v1.5M57.38 563v1.5M58.94 563v1.5M60.32 563v1.5M61.55 563v2.6M69.66 563v1.5M74.41 563v1.5M77.78 563v1.5M80.39 563v1.5M82.52 563v1.5M84.33 563v1.5M85.89 563v1.5M87.27 563v1.5M88.5 563v2.6M96.61 563v1.5M101.36 563v1.5M104.73 563v1.5M107.34 563v1.5M109.47 563v1.5M111.28 563v1.5M112.84 563v1.5M114.22 563v1.5M115.45 563v2.6M123.56 563v1.5M128.31 563v1.5M131.68 563v1.5M134.29 563v1.5M136.42 563v1.5M138.23 563v1.5M139.79 563v1.5M141.17 563v1.5" fill="none" stroke="#222" stroke-width="0.7"/><path d="M35.6 604.6L36.3 604.24L37 603.42L37.7 602.64L38.4 601.64L39.1 600.62L39.8 600.29L40.5 599.19L41.2 599.11L41.9 598.02L42.6 596.66L43.3 596.89L44 596.13L44.7 594.35L45.4 594.97L46.1 593.17L46.8 590.04L47.5 590.96L48.2 588.56L48.9 587.88L49.6 589.63L50.3 588.3L51 586.79L51.7 584.94L52.4 583.58L53.1 583.69L53.8 583.53L54.5 584.68L55.2 580.67L55.9 582.48L56.6 579.05L57.3 577.54L58 581.57L58.7 574.43L59.4 577.93L60.1 577.01L60.8 578.87L61.5 578.9L62.2 581.68L62.9 582.63L63.6 585.41L64.3 588.89L65 589.76L65.7 590.34L66.4 591.66L67.1 593.96L67.8 595.94L68.5 597.58L69.2 598.54L69.9 598.73L70.6 601.61L71.3 603.08L72 604.6L72.7 604.6L73.4 604.6L74.1 604.6L74.8 604.6L75.5 604.6L76.2 604.6L76.9 604.6L77.6 604.6L78.3 604.6L79 604.6L79.7 604.6L80.4 604.6L81.1 604.6L81.8 604.6L82.5 604.6L83.2 604.6L83.9 604.6L84.6 604.6L85.3 604.6L86 604.6L86.7 604.6L87.4 604.6L88.1 604.6L88.8 604.6L89.5 604.6L90.2 604.6L90.9 604.6L91.6 604.6L92.3 604.6L93 604.6L93.7 604.6L94.4 604.6L95.1 604.6L95.8 604.6L96.5 604.6L97.2 604.6L97.9 604.6L98.6 604.6L99.3 604.6L100 604.6L100.7 604.6L101.4 604.6L102.1 604.6L102.8 604.6L103.5 604.6L104.2 604.6L104.9 604.6L105.6 604.6L106.3 604.6L107 604.6L107.7 604.6L108.4 604.6L109.1 604.6L109.8 604.6L110.5 604.6L111.2 604.6L111.9 604.6L112.6 604.6L113.3 604.6L114 604.6L114.7 604.6L115.4 604.6L116.1 604.6L116.8 604.6L117.5 604.6L118.2 604.6L118.9 604.6L119.6 604.6L120.3 604.6L121 604.6L121.7 604.6L122.4 604.6L123.1 604.6L123.8 604.6L124.5 604.6L125.2 604.6L125.9 604.6L126.6 604.6L127.3 604.6L128 604.6L128.7 604.6L129.4 604.6L130.1 604.6L130.8 604.6L131.5 604.6L132.2 604.6L132.9 604.6L133.6 604.6L134.3 604.6L135 604.6L135.7 604.6L136.4 604.6L137.1 604.6L137.8 604.6L138.5 604.6L139.2 604.6L139.9 604.6L140.6 604.6L141.3 604.6L142 604.6" fill="none" stroke="#b8b8b8" stroke-width="1.6"/><path d="M35.6 604.6L35.6 604.59L36.3 604.58L37 604.57L37.7 604.57L38.4 604.55L39.1 604.53L39.8 604.5L40.5 604.45L41.2 604.4L41.9 604.28L42.6 604.19L43.3 603.96L44 603.74L44.7 603.53L45.4 602.65L46.1 602.42L46.8 602.13L47.5 601.57L48.2 600.99L48.9 600.13L49.6 597.9L50.3 597.65L51 596.25L51.7 593.13L52.4 593.8L53.1 592.29L53.8 587.06L54.5 586.68L55.2 589.22L55.9 583.91L56.6 583.41L57.3 580.36L58 577.6L58.7 581.11L59.4 578.73L60.1 572.6L60.8 582.52L61.5 586.72L62.2 587.26L62.9 593.84L63.6 594.57L64.3 594.29L65 597.08L65.7 597.56L66.4 598.59L67.1 598.44L67.8 598.22L68.5 598.86L69.2 598.37L69.9 597.76L70.6 598.6L71.3 595.57L72 593.42L72.7 593.62L73.4 593.33L74.1 593.02L74.8 590.74L75.5 586.45L76.2 586.08L76.9 589.38L77.6 583.83L78.3 587.99L79 587.47L79.7 586.28L80.4 584.45L81.1 586.71L81.8 584.38L82.5 586.73L83.2 584.9L83.9 591.52L84.6 590.22L85.3 590.43L86 590.3L86.7 596.14L87.4 595.37L88.1 597.73L88.8 596.74L89.5 598.49L90.2 598.74L90.9 599.03L91.6 599.96L92.3 601.34L93 601.54L93.7 600.92L94.4 602.93L95.1 603.09L95.8 603.61L96.5 603.62L97.2 604.15L97.9 604.22L98.6 604.39L99.3 604.42L100 604.44L100.7 604.53L101.4 604.54L102.1 604.55L102.8 604.57L103.5 604.59L104.2 604.59L104.9 604.59L105.6 604.59L106.3 604.6L107 604.6L107.7 604.6L108.4 604.6L109.1 604.6L109.8 604.6L110.5 604.6L111.2 604.6L111.9 604.6L112.6 604.6L113.3 604.6L114 604.6L114.7 604.6L115.4 604.6L116.1 604.6L116.8 604.6L117.5 604.6L118.2 604.6L118.9 604.6L119.6 604.6L120.3 604.6L121 604.6L121.7 604.6L122.4 604.6L123.1 604.6L123.8 604.6L124.5 604.6L125.2 604.6L125.9 604.6L126.6 604.6L127.3 604.6L128 604.6L128.7 604.6L129.4 604.6L130.1 604.6L130.8 604.6L131.5 604.6L132.2 604.6L132.9 604.6L133.6 604.6L134.3 604.6L135 604.6L135.7 604.6L136.4 604.6L137.1 604.6L137.8 604.6L138.5 604.6L139.2 604.6L139.9 604.6L140.6 604.6L141.3 604.6L142 604.6L142 604.6Z" fill="#050505" stroke="none" stroke-width="1"/><path d="M35.6 604.6L36.3 604.24L37 603.42L37.7 602.64L38.4 601.64L39.1 600.62L39.8 600.29L40.5 599.19L41.2 599.11L41.9 598.02L42.6 596.66L43.3 596.89L44 596.13L44.7 594.35L45.4 594.97L46.1 593.17L46.8 590.04L47.5 590.96L48.2 588.56L48.9 587.88L49.6 589.63L50.3 588.3L51 586.79L51.7 584.94L52.4 583.58L53.1 583.69L53.8 583.53L54.5 584.68L55.2 580.67L55.9 582.48L56.6 579.05L57.3 577.54L58 581.57L58.7 574.43L59.4 577.93L60.1 577.01L60.8 578.87L61.5 578.9L62.2 581.68L62.9 582.63L63.6 585.41L64.3 588.89L65 589.76L65.7 590.34L66.4 591.66L67.1 593.96L67.8 595.94L68.5 597.58L69.2 598.54L69.9 598.73L70.6 601.61L71.3 603.08L72 604.6L72.7 604.6L73.4 604.6L74.1 604.6L74.8 604.6L75.5 604.6L76.2 604.6L76.9 604.6L77.6 604.6L78.3 604.6L79 604.6L79.7 604.6L80.4 604.6L81.1 604.6L81.8 604.6L82.5 604.6L83.2 604.6L83.9 604.6L84.6 604.6L85.3 604.6L86 604.6L86.7 604.6L87.4 604.6L88.1 604.6L88.8 604.6L89.5 604.6L90.2 604.6L90.9 604.6L91.6 604.6L92.3 604.6L93 604.6L93.7 604.6L94.4 604.6L95.1 604.6L95.8 604.6L96.5 604.6L97.2 604.6L97.9 604.6L98.6 604.6L99.3 604.6L100 604.6L100.7 604.6L101.4 604.6L102.1 604.6L102.8 604.6L103.5 604.6L104.2 604.6L104.9 604.6L105.6 604.6L106.3 604.6L107 604.6L107.7 604.6L108.4 604.6L109.1 604.6L109.8 604.6L110.5 604.6L111.2 604.6L111.9 604.6L112.6 604.6L113.3 604.6L114 604.6L114.7 604.6L115.4 604.6L116.1 604.6L116.8 604.6L117.5 604.6L118.2 604.6L118.9 604.6L119.6 604.6L120.3 604.6L121 604.6L121.7 604.6L122.4 604.6L123.1 604.6L123.8 604.6L124.5 604.6L125.2 604.6L125.9 604.6L126.6 604.6L127.3 604.6L128 604.6L128.7 604.6L129.4 604.6L130.1 604.6L130.8 604.6L131.5 604.6L132.2 604.6L132.9 604.6L133.6 604.6L134.3 604.6L135 604.6L135.7 604.6L136.4 604.6L137.1 604.6L137.8 604.6L138.5 604.6L139.2 604.6L139.9 604.6L140.6 604.6L141.3 604.6L142 604.6" fill="none" stroke="#b8b8b8" stroke-width="1.6" stroke-opacity="0.55"/><rect x="34.6" y="572.5" width="107.8" height="32.7" fill="none" stroke="#222" stroke-width="1.1"/><path d="M34.6 573.5h-3.2M34.6 575.45h-2M34.6 577.4h-2M34.6 579.35h-3.2M34.6 581.3h-2M34.6 583.25h-2M34.6 585.2h-3.2M34.6 587.15h-2M34.6 589.1h-2M34.6 591.05h-3.2M34.6 593h-2M34.6 594.95h-2M34.6 596.9h-3.2M34.6 598.85h-2M34.6 600.8h-2M34.6 602.75h-3.2M34.6 604.7h-2" fill="none" stroke="#222" stroke-width="0.7"/><path d="M34.6 605.2v2.6M42.71 605.2v1.5M47.46 605.2v1.5M50.83 605.2v1.5M53.44 605.2v1.5M55.57 605.2v1.5M57.38 605.2v1.5M58.94 605.2v1.5M60.32 605.2v1.5M61.55 605.2v2.6M69.66 605.2v1.5M74.41 605.2v1.5M77.78 605.2v1.5M80.39 605.2v1.5M82.52 605.2v1.5M84.33 605.2v1.5M85.89 605.2v1.5M87.27 605.2v1.5M88.5 605.2v2.6M96.61 605.2v1.5M101.36 605.2v1.5M104.73 605.2v1.5M107.34 605.2v1.5M109.47 605.2v1.5M111.28 605.2v1.5M112.84 605.2v1.5M114.22 605.2v1.5M115.45 605.2v2.6M123.56 605.2v1.5M128.31 605.2v1.5M131.68 605.2v1.5M134.29 605.2v1.5M136.42 605.2v1.5M138.23 605.2v1.5M139.79 605.2v1.5M141.17 605.2v1.5" fill="none" stroke="#222" stroke-width="0.7"/><path d="M35.6 658.7L36.3 658.01L37 657.22L37.7 656.62L38.4 655.88L39.1 655.05L39.8 653.9L40.5 653.7L41.2 652.95L41.9 652.19L42.6 649.11L43.3 650.22L44 648.25L44.7 648.27L45.4 645.54L46.1 645.28L46.8 643.64L47.5 641.43L48.2 639.91L48.9 642.07L49.6 641.58L50.3 642.12L51 642.6L51.7 641.56L52.4 639.7L53.1 640.12L53.8 640.2L54.5 639.62L55.2 637.48L55.9 638L56.6 635.2L57.3 638.19L58 633.94L58.7 635.92L59.4 635.34L60.1 633.14L60.8 636.71L61.5 640.64L62.2 642.03L62.9 642.04L63.6 643.69L64.3 646.41L65 647.27L65.7 649.82L66.4 652.39L67.1 652.11L67.8 654.49L68.5 655.74L69.2 657.58L69.9 659.18L70.6 659.4L71.3 659.4L72 659.4L72.7 659.4L73.4 659.4L74.1 659.4L74.8 659.4L75.5 659.4L76.2 659.4L76.9 659.4L77.6 659.4L78.3 659.4L79 659.4L79.7 659.4L80.4 659.4L81.1 659.4L81.8 659.4L82.5 659.4L83.2 659.4L83.9 659.4L84.6 659.4L85.3 659.4L86 659.4L86.7 659.4L87.4 659.4L88.1 659.4L88.8 659.4L89.5 659.4L90.2 659.4L90.9 659.4L91.6 659.4L92.3 659.4L93 659.4L93.7 659.4L94.4 659.4L95.1 659.4L95.8 659.4L96.5 659.4L97.2 659.4L97.9 659.4L98.6 659.4L99.3 659.4L100 659.4L100.7 659.4L101.4 659.4L102.1 659.4L102.8 659.4L103.5 659.4L104.2 659.4L104.9 659.4L105.6 659.4L106.3 659.4L107 659.4L107.7 659.4L108.4 659.4L109.1 659.4L109.8 659.4L110.5 659.4L111.2 659.4L111.9 659.4L112.6 659.4L113.3 659.4L114 659.4L114.7 659.4L115.4 659.4L116.1 659.4L116.8 659.4L117.5 659.4L118.2 659.4L118.9 659.4L119.6 659.4L120.3 659.4L121 659.4L121.7 659.4L122.4 659.4L123.1 659.4L123.8 659.4L124.5 659.4L125.2 659.4L125.9 659.4L126.6 659.4L127.3 659.4L128 659.4L128.7 659.4L129.4 659.4L130.1 659.4L130.8 659.4L131.5 659.4L132.2 659.4L132.9 659.4L133.6 659.4L134.3 659.4L135 659.4L135.7 659.4L136.4 659.4L137.1 659.4L137.8 659.4L138.5 659.4L139.2 659.4L139.9 659.4L140.6 659.4L141.3 659.4L142 659.4" fill="none" stroke="#b8b8b8" stroke-width="1.6"/><path d="M35.6 659.4L35.6 657.9L36.3 658.08L37 657.78L37.7 657.69L38.4 656.63L39.1 657.42L39.8 657.19L40.5 657.27L41.2 657.18L41.9 657.15L42.6 656.64L43.3 656.7L44 656.72L44.7 656.47L45.4 657.04L46.1 656.09L46.8 657.02L47.5 656.49L48.2 655.85L48.9 657.03L49.6 656.77L50.3 657L51 656.9L51.7 656.8L52.4 656.99L53.1 656.93L53.8 656.52L54.5 656.95L55.2 656.81L55.9 656.65L56.6 656.56L57.3 655.91L58 655.98L58.7 655.85L59.4 655.83L60.1 655.69L60.8 655.23L61.5 655.99L62.2 655.35L62.9 655.81L63.6 656.27L64.3 656.81L65 656.85L65.7 656.3L66.4 656.97L67.1 657.02L67.8 657.03L68.5 656.78L69.2 657.1L69.9 656.47L70.6 656.9L71.3 657.1L72 656.74L72.7 657.2L73.4 657.17L74.1 656.97L74.8 656.36L75.5 657.16L76.2 657.09L76.9 656.84L77.6 656.42L78.3 656.08L79 655.24L79.7 651.95L80.4 651.59L81.1 648.91L81.8 642.29L82.5 631.62L83.2 628.47L83.9 629.31L84.6 634.89L85.3 635.13L86 632.43L86.7 642.97L87.4 645.64L88.1 651.02L88.8 651.23L89.5 652.27L90.2 650.79L90.9 653.34L91.6 653.64L92.3 654.1L93 655.21L93.7 653.17L94.4 654.93L95.1 654.42L95.8 654.76L96.5 654.32L97.2 654.17L97.9 654.07L98.6 652.35L99.3 654.09L100 653.49L100.7 652.59L101.4 653.16L102.1 653.05L102.8 650.54L103.5 651.65L104.2 652.95L104.9 652.19L105.6 653.11L106.3 652.29L107 653.79L107.7 652.6L108.4 653.44L109.1 653.95L109.8 654.74L110.5 655.08L111.2 655.95L111.9 656.25L112.6 656.44L113.3 657L114 657.6L114.7 657.73L115.4 658.15L116.1 658.42L116.8 658.58L117.5 658.76L118.2 658.99L118.9 659.06L119.6 659.13L120.3 659.21L121 659.27L121.7 659.28L122.4 659.31L123.1 659.34L123.8 659.36L124.5 659.37L125.2 659.37L125.9 659.38L126.6 659.39L127.3 659.39L128 659.39L128.7 659.39L129.4 659.4L130.1 659.4L130.8 659.4L131.5 659.4L132.2 659.4L132.9 659.4L133.6 659.4L134.3 659.4L135 659.4L135.7 659.4L136.4 659.4L137.1 659.4L137.8 659.4L138.5 659.4L139.2 659.4L139.9 659.4L140.6 659.4L141.3 659.4L142 659.4L142 659.4Z" fill="#050505" stroke="none" stroke-width="1"/><path d="M35.6 658.7L36.3 658.01L37 657.22L37.7 656.62L38.4 655.88L39.1 655.05L39.8 653.9L40.5 653.7L41.2 652.95L41.9 652.19L42.6 649.11L43.3 650.22L44 648.25L44.7 648.27L45.4 645.54L46.1 645.28L46.8 643.64L47.5 641.43L48.2 639.91L48.9 642.07L49.6 641.58L50.3 642.12L51 642.6L51.7 641.56L52.4 639.7L53.1 640.12L53.8 640.2L54.5 639.62L55.2 637.48L55.9 638L56.6 635.2L57.3 638.19L58 633.94L58.7 635.92L59.4 635.34L60.1 633.14L60.8 636.71L61.5 640.64L62.2 642.03L62.9 642.04L63.6 643.69L64.3 646.41L65 647.27L65.7 649.82L66.4 652.39L67.1 652.11L67.8 654.49L68.5 655.74L69.2 657.58L69.9 659.18L70.6 659.4L71.3 659.4L72 659.4L72.7 659.4L73.4 659.4L74.1 659.4L74.8 659.4L75.5 659.4L76.2 659.4L76.9 659.4L77.6 659.4L78.3 659.4L79 659.4L79.7 659.4L80.4 659.4L81.1 659.4L81.8 659.4L82.5 659.4L83.2 659.4L83.9 659.4L84.6 659.4L85.3 659.4L86 659.4L86.7 659.4L87.4 659.4L88.1 659.4L88.8 659.4L89.5 659.4L90.2 659.4L90.9 659.4L91.6 659.4L92.3 659.4L93 659.4L93.7 659.4L94.4 659.4L95.1 659.4L95.8 659.4L96.5 659.4L97.2 659.4L97.9 659.4L98.6 659.4L99.3 659.4L100 659.4L100.7 659.4L101.4 659.4L102.1 659.4L102.8 659.4L103.5 659.4L104.2 659.4L104.9 659.4L105.6 659.4L106.3 659.4L107 659.4L107.7 659.4L108.4 659.4L109.1 659.4L109.8 659.4L110.5 659.4L111.2 659.4L111.9 659.4L112.6 659.4L113.3 659.4L114 659.4L114.7 659.4L115.4 659.4L116.1 659.4L116.8 659.4L117.5 659.4L118.2 659.4L118.9 659.4L119.6 659.4L120.3 659.4L121 659.4L121.7 659.4L122.4 659.4L123.1 659.4L123.8 659.4L124.5 659.4L125.2 659.4L125.9 659.4L126.6 659.4L127.3 659.4L128 659.4L128.7 659.4L129.4 659.4L130.1 659.4L130.8 659.4L131.5 659.4L132.2 659.4L132.9 659.4L133.6 659.4L134.3 659.4L135 659.4L135.7 659.4L136.4 659.4L137.1 659.4L137.8 659.4L138.5 659.4L139.2 659.4L139.9 659.4L140.6 659.4L141.3 659.4L142 659.4" fill="none" stroke="#b8b8b8" stroke-width="1.6" stroke-opacity="0.55"/><rect x="34.6" y="626.8" width="107.8" height="33.2" fill="none" stroke="#222" stroke-width="1.1"/><path d="M34.6 627.8h-3.2M34.6 629.75h-2M34.6 631.7h-2M34.6 633.65h-3.2M34.6 635.6h-2M34.6 637.55h-2M34.6 639.5h-3.2M34.6 641.45h-2M34.6 643.4h-2M34.6 645.35h-3.2M34.6 647.3h-2M34.6 649.25h-2M34.6 651.2h-3.2M34.6 653.15h-2M34.6 655.1h-2M34.6 657.05h-3.2M34.6 659h-2M34.6 660.95h-2" fill="none" stroke="#222" stroke-width="0.7"/><path d="M34.6 660v2.6M42.71 660v1.5M47.46 660v1.5M50.83 660v1.5M53.44 660v1.5M55.57 660v1.5M57.38 660v1.5M58.94 660v1.5M60.32 660v1.5M61.55 660v2.6M69.66 660v1.5M74.41 660v1.5M77.78 660v1.5M80.39 660v1.5M82.52 660v1.5M84.33 660v1.5M85.89 660v1.5M87.27 660v1.5M88.5 660v2.6M96.61 660v1.5M101.36 660v1.5M104.73 660v1.5M107.34 660v1.5M109.47 660v1.5M111.28 660v1.5M112.84 660v1.5M114.22 660v1.5M115.45 660v2.6M123.56 660v1.5M128.31 660v1.5M131.68 660v1.5M134.29 660v1.5M136.42 660v1.5M138.23 660v1.5M139.79 660v1.5M141.17 660v1.5" fill="none" stroke="#222" stroke-width="0.7"/><path d="M35.6 701.34L36.3 700.43L37 699.96L37.7 699.18L38.4 698.07L39.1 696.82L39.8 697.11L40.5 695.42L41.2 693.97L41.9 694.82L42.6 693.25L43.3 692.84L44 691.81L44.7 690.19L45.4 691.63L46.1 690.13L46.8 690.06L47.5 688.45L48.2 685.19L48.9 687.62L49.6 686.31L50.3 685.7L51 683.7L51.7 683.85L52.4 683.66L53.1 682.9L53.8 681.34L54.5 682.06L55.2 683.06L55.9 676.68L56.6 677.75L57.3 678.17L58 676.69L58.7 675.91L59.4 680.13L60.1 680.33L60.8 682.61L61.5 681.68L62.2 687.61L62.9 687.9L63.6 686.5L64.3 690.53L65 691.69L65.7 693.37L66.4 695.24L67.1 695.84L67.8 697.03L68.5 698.78L69.2 700.42L69.9 701.99L70.6 702.2L71.3 702.2L72 702.2L72.7 702.2L73.4 702.2L74.1 702.2L74.8 702.2L75.5 702.2L76.2 702.2L76.9 702.2L77.6 702.2L78.3 702.2L79 702.2L79.7 702.2L80.4 702.2L81.1 702.2L81.8 702.2L82.5 702.2L83.2 702.2L83.9 702.2L84.6 702.2L85.3 702.2L86 702.2L86.7 702.2L87.4 702.2L88.1 702.2L88.8 702.2L89.5 702.2L90.2 702.2L90.9 702.2L91.6 702.2L92.3 702.2L93 702.2L93.7 702.2L94.4 702.2L95.1 702.2L95.8 702.2L96.5 702.2L97.2 702.2L97.9 702.2L98.6 702.2L99.3 702.2L100 702.2L100.7 702.2L101.4 702.2L102.1 702.2L102.8 702.2L103.5 702.2L104.2 702.2L104.9 702.2L105.6 702.2L106.3 702.2L107 702.2L107.7 702.2L108.4 702.2L109.1 702.2L109.8 702.2L110.5 702.2L111.2 702.2L111.9 702.2L112.6 702.2L113.3 702.2L114 702.2L114.7 702.2L115.4 702.2L116.1 702.2L116.8 702.2L117.5 702.2L118.2 702.2L118.9 702.2L119.6 702.2L120.3 702.2L121 702.2L121.7 702.2L122.4 702.2L123.1 702.2L123.8 702.2L124.5 702.2L125.2 702.2L125.9 702.2L126.6 702.2L127.3 702.2L128 702.2L128.7 702.2L129.4 702.2L130.1 702.2L130.8 702.2L131.5 702.2L132.2 702.2L132.9 702.2L133.6 702.2L134.3 702.2L135 702.2L135.7 702.2L136.4 702.2L137.1 702.2L137.8 702.2L138.5 702.2L139.2 702.2L139.9 702.2L140.6 702.2L141.3 702.2L142 702.2" fill="none" stroke="#b8b8b8" stroke-width="1.6"/><path d="M35.6 702.2L35.6 701.14L36.3 700.88L37 701.07L37.7 700.44L38.4 700.48L39.1 700.62L39.8 700.58L40.5 700.4L41.2 700.49L41.9 700.47L42.6 700.31L43.3 700.44L44 700.41L44.7 700.39L45.4 699.46L46.1 700.38L46.8 700.4L47.5 699.89L48.2 700.4L48.9 700.38L49.6 700.37L50.3 699.83L51 699.95L51.7 700.22L52.4 700.06L53.1 699.33L53.8 698.19L54.5 698.68L55.2 697.23L55.9 698.04L56.6 697.96L57.3 698.01L58 697.75L58.7 698.61L59.4 698.91L60.1 699.89L60.8 699.27L61.5 700.27L62.2 699.11L62.9 700.27L63.6 700.37L64.3 700.43L65 700.43L65.7 699.76L66.4 700.39L67.1 699.97L67.8 700.55L68.5 700.61L69.2 700.65L69.9 700.77L70.6 700.82L71.3 700.77L72 700.59L72.7 701.02L73.4 700.95L74.1 700.8L74.8 700.29L75.5 700.11L76.2 699.25L76.9 698L77.6 697.92L78.3 696.91L79 695.82L79.7 692.72L80.4 693.38L81.1 691.9L81.8 690.79L82.5 686.4L83.2 683.81L83.9 683.18L84.6 672.78L85.3 671.92L86 669.47L86.7 675.55L87.4 682.15L88.1 688.04L88.8 687.53L89.5 688.96L90.2 692.63L90.9 692.09L91.6 691.43L92.3 692.28L93 691.55L93.7 692.47L94.4 692.68L95.1 690.17L95.8 693.66L96.5 690.94L97.2 692.67L97.9 691.79L98.6 692.51L99.3 691.58L100 692.44L100.7 691.4L101.4 693.29L102.1 692.95L102.8 692.03L103.5 691L104.2 692.85L104.9 689.23L105.6 692.6L106.3 691.25L107 694.27L107.7 693.73L108.4 694.01L109.1 694.48L109.8 695.19L110.5 694.83L111.2 695.67L111.9 694.16L112.6 696.57L113.3 697.03L114 698.55L114.7 697.66L115.4 698.37L116.1 699.89L116.8 700.3L117.5 700.66L118.2 700.49L118.9 701.11L119.6 701.34L120.3 701.38L121 701.78L121.7 701.85L122.4 701.99L123.1 701.99L123.8 702.06L124.5 702.11L125.2 702.12L125.9 702.13L126.6 702.15L127.3 702.16L128 702.17L128.7 702.18L129.4 702.18L130.1 702.19L130.8 702.19L131.5 702.19L132.2 702.2L132.9 702.2L133.6 702.2L134.3 702.2L135 702.2L135.7 702.2L136.4 702.2L137.1 702.2L137.8 702.2L138.5 702.2L139.2 702.2L139.9 702.2L140.6 702.2L141.3 702.2L142 702.2L142 702.2Z" fill="#050505" stroke="none" stroke-width="1"/><path d="M35.6 701.34L36.3 700.43L37 699.96L37.7 699.18L38.4 698.07L39.1 696.82L39.8 697.11L40.5 695.42L41.2 693.97L41.9 694.82L42.6 693.25L43.3 692.84L44 691.81L44.7 690.19L45.4 691.63L46.1 690.13L46.8 690.06L47.5 688.45L48.2 685.19L48.9 687.62L49.6 686.31L50.3 685.7L51 683.7L51.7 683.85L52.4 683.66L53.1 682.9L53.8 681.34L54.5 682.06L55.2 683.06L55.9 676.68L56.6 677.75L57.3 678.17L58 676.69L58.7 675.91L59.4 680.13L60.1 680.33L60.8 682.61L61.5 681.68L62.2 687.61L62.9 687.9L63.6 686.5L64.3 690.53L65 691.69L65.7 693.37L66.4 695.24L67.1 695.84L67.8 697.03L68.5 698.78L69.2 700.42L69.9 701.99L70.6 702.2L71.3 702.2L72 702.2L72.7 702.2L73.4 702.2L74.1 702.2L74.8 702.2L75.5 702.2L76.2 702.2L76.9 702.2L77.6 702.2L78.3 702.2L79 702.2L79.7 702.2L80.4 702.2L81.1 702.2L81.8 702.2L82.5 702.2L83.2 702.2L83.9 702.2L84.6 702.2L85.3 702.2L86 702.2L86.7 702.2L87.4 702.2L88.1 702.2L88.8 702.2L89.5 702.2L90.2 702.2L90.9 702.2L91.6 702.2L92.3 702.2L93 702.2L93.7 702.2L94.4 702.2L95.1 702.2L95.8 702.2L96.5 702.2L97.2 702.2L97.9 702.2L98.6 702.2L99.3 702.2L100 702.2L100.7 702.2L101.4 702.2L102.1 702.2L102.8 702.2L103.5 702.2L104.2 702.2L104.9 702.2L105.6 702.2L106.3 702.2L107 702.2L107.7 702.2L108.4 702.2L109.1 702.2L109.8 702.2L110.5 702.2L111.2 702.2L111.9 702.2L112.6 702.2L113.3 702.2L114 702.2L114.7 702.2L115.4 702.2L116.1 702.2L116.8 702.2L117.5 702.2L118.2 702.2L118.9 702.2L119.6 702.2L120.3 702.2L121 702.2L121.7 702.2L122.4 702.2L123.1 702.2L123.8 702.2L124.5 702.2L125.2 702.2L125.9 702.2L126.6 702.2L127.3 702.2L128 702.2L128.7 702.2L129.4 702.2L130.1 702.2L130.8 702.2L131.5 702.2L132.2 702.2L132.9 702.2L133.6 702.2L134.3 702.2L135 702.2L135.7 702.2L136.4 702.2L137.1 702.2L137.8 702.2L138.5 702.2L139.2 702.2L139.9 702.2L140.6 702.2L141.3 702.2L142 702.2" fill="none" stroke="#b8b8b8" stroke-width="1.6" stroke-opacity="0.55"/><rect x="34.6" y="669.2" width="107.8" height="33.6" fill="none" stroke="#222" stroke-width="1.1"/><path d="M34.6 670.2h-3.2M34.6 672.15h-2M34.6 674.1h-2M34.6 676.05h-3.2M34.6 678h-2M34.6 679.95h-2M34.6 681.9h-3.2M34.6 683.85h-2M34.6 685.8h-2M34.6 687.75h-3.2M34.6 689.7h-2M34.6 691.65h-2M34.6 693.6h-3.2M34.6 695.55h-2M34.6 697.5h-2M34.6 699.45h-3.2M34.6 701.4h-2M34.6 703.35h-2" fill="none" stroke="#222" stroke-width="0.7"/><path d="M34.6 702.8v2.6M42.71 702.8v1.5M47.46 702.8v1.5M50.83 702.8v1.5M53.44 702.8v1.5M55.57 702.8v1.5M57.38 702.8v1.5M58.94 702.8v1.5M60.32 702.8v1.5M61.55 702.8v2.6M69.66 702.8v1.5M74.41 702.8v1.5M77.78 702.8v1.5M80.39 702.8v1.5M82.52 702.8v1.5M84.33 702.8v1.5M85.89 702.8v1.5M87.27 702.8v1.5M88.5 702.8v2.6M96.61 702.8v1.5M101.36 702.8v1.5M104.73 702.8v1.5M107.34 702.8v1.5M109.47 702.8v1.5M111.28 702.8v1.5M112.84 702.8v1.5M114.22 702.8v1.5M115.45 702.8v2.6M123.56 702.8v1.5M128.31 702.8v1.5M131.68 702.8v1.5M134.29 702.8v1.5M136.42 702.8v1.5M138.23 702.8v1.5M139.79 702.8v1.5M141.17 702.8v1.5" fill="none" stroke="#222" stroke-width="0.7"/><text x="26.7" y="617.5" font-size="7.06" fill="#222" stroke="#222" stroke-width="0.25" textLength="7.7" lengthAdjust="spacingAndGlyphs">10</text><text x="34.8" y="613.5" font-size="4.94" fill="#222" stroke="#222" stroke-width="0.17">0</text><text x="53.65" y="617.5" font-size="7.06" fill="#222" stroke="#222" stroke-width="0.25" textLength="7.7" lengthAdjust="spacingAndGlyphs">10</text><text x="61.75" y="613.5" font-size="4.94" fill="#222" stroke="#222" stroke-width="0.17">1</text><text x="80.6" y="617.5" font-size="7.06" fill="#222" stroke="#222" stroke-width="0.25" textLength="7.7" lengthAdjust="spacingAndGlyphs">10</text><text x="88.7" y="613.5" font-size="4.94" fill="#222" stroke="#222" stroke-width="0.17">2</text><text x="107.55" y="617.5" font-size="7.06" fill="#222" stroke="#222" stroke-width="0.25" textLength="7.7" lengthAdjust="spacingAndGlyphs">10</text><text x="115.65" y="613.5" font-size="4.94" fill="#222" stroke="#222" stroke-width="0.17">3</text><text x="134.5" y="617.5" font-size="7.06" fill="#222" stroke="#222" stroke-width="0.25" textLength="7.7" lengthAdjust="spacingAndGlyphs">10</text><text x="142.6" y="613.5" font-size="4.94" fill="#222" stroke="#222" stroke-width="0.17">4</text><text x="26.7" y="714" font-size="7.06" fill="#222" stroke="#222" stroke-width="0.25" textLength="7.7" lengthAdjust="spacingAndGlyphs">10</text><text x="34.8" y="710" font-size="4.94" fill="#222" stroke="#222" stroke-width="0.17">0</text><text x="53.65" y="714" font-size="7.06" fill="#222" stroke="#222" stroke-width="0.25" textLength="7.7" lengthAdjust="spacingAndGlyphs">10</text><text x="61.75" y="710" font-size="4.94" fill="#222" stroke="#222" stroke-width="0.17">1</text><text x="80.6" y="714" font-size="7.06" fill="#222" stroke="#222" stroke-width="0.25" textLength="7.7" lengthAdjust="spacingAndGlyphs">10</text><text x="88.7" y="710" font-size="4.94" fill="#222" stroke="#222" stroke-width="0.17">2</text><text x="107.55" y="714" font-size="7.06" fill="#222" stroke="#222" stroke-width="0.25" textLength="7.7" lengthAdjust="spacingAndGlyphs">10</text><text x="115.65" y="710" font-size="4.94" fill="#222" stroke="#222" stroke-width="0.17">3</text><text x="134.5" y="714" font-size="7.06" fill="#222" stroke="#222" stroke-width="0.25" textLength="7.7" lengthAdjust="spacingAndGlyphs">10</text><text x="142.6" y="710" font-size="4.94" fill="#222" stroke="#222" stroke-width="0.17">4</text><line x1="16.6" y1="530" x2="16.6" y2="606" stroke="#888" stroke-width="1.1"/><line x1="16.6" y1="627" x2="16.6" y2="703.8" stroke="#888" stroke-width="1.1"/><text transform="translate(12.3 583) rotate(-90)" font-size="10.03" font-weight="normal" fill="#111" stroke="#111" stroke-width="0.4" textLength="28.8" lengthAdjust="spacingAndGlyphs">CD122</text><text transform="translate(12.3 680.8) rotate(-90)" font-size="10.03" font-weight="normal" fill="#111" stroke="#111" stroke-width="0.4" textLength="29.3" lengthAdjust="spacingAndGlyphs">CD215</text><text transform="translate(27.4 556.5) rotate(-90)" font-size="10.47" font-weight="normal" fill="#111" stroke="#111" stroke-width="0.4" textLength="20.7" lengthAdjust="spacingAndGlyphs">CTRL</text><text transform="translate(27.4 600.8) rotate(-90)" font-size="10.47" font-weight="normal" fill="#111" stroke="#111" stroke-width="0.4" textLength="24.8" lengthAdjust="spacingAndGlyphs">BMP4</text><text transform="translate(27.4 653.8) rotate(-90)" font-size="10.47" font-weight="normal" fill="#111" stroke="#111" stroke-width="0.4" textLength="21.5" lengthAdjust="spacingAndGlyphs">CTRL</text><text transform="translate(27.4 697.7) rotate(-90)" font-size="10.47" font-weight="normal" fill="#111" stroke="#111" stroke-width="0.4" textLength="24.7" lengthAdjust="spacingAndGlyphs">BMP4</text><text x="117.6" y="542.2" font-size="8.43" font-weight="normal" fill="#111" stroke="#111" stroke-width="0.3" textLength="16.1" lengthAdjust="spacingAndGlyphs">25%</text><text x="117.6" y="551.5" font-size="8.43" font-weight="normal" fill="#111" stroke="#111" stroke-width="0.3" textLength="16.1" lengthAdjust="spacingAndGlyphs">(28)</text><text x="117.2" y="583.6" font-size="8.43" font-weight="normal" fill="#111" stroke="#111" stroke-width="0.3" textLength="16.2" lengthAdjust="spacingAndGlyphs">40%</text><text x="117.2" y="593" font-size="8.43" font-weight="normal" fill="#111" stroke="#111" stroke-width="0.3" textLength="16.2" lengthAdjust="spacingAndGlyphs">(33)</text><text x="119.8" y="639.2" font-size="8.43" font-weight="normal" fill="#111" stroke="#111" stroke-width="0.3" textLength="15.9" lengthAdjust="spacingAndGlyphs">89%</text><text x="117.6" y="648.8" font-size="8.43" font-weight="normal" fill="#111" stroke="#111" stroke-width="0.3" textLength="19" lengthAdjust="spacingAndGlyphs">(263)</text><text x="119" y="680.4" font-size="8.43" font-weight="normal" fill="#111" stroke="#111" stroke-width="0.3" textLength="16.4" lengthAdjust="spacingAndGlyphs">87%</text><text x="117.4" y="690.2" font-size="8.43" font-weight="normal" fill="#111" stroke="#111" stroke-width="0.3" textLength="19" lengthAdjust="spacingAndGlyphs">(294)</text><rect x="183.7" y="530.2" width="147.6" height="110.8" fill="none" stroke="#8a8a8a" stroke-width="1"/><line x1="183.7" y1="529.7" x2="183.7" y2="641.5" stroke="#808080" stroke-width="1.3"/><line x1="183.7" y1="641" x2="331.3" y2="641" stroke="#808080" stroke-width="1.3"/><line x1="194.2" y1="584.24" x2="194.2" y2="587.89" stroke="#8a8a8a" stroke-width="0.8"/><line x1="191.7" y1="584.24" x2="196.7" y2="584.24" stroke="#8a8a8a" stroke-width="0.8"/><rect x="188.3" y="587.89" width="11.8" height="53.11" fill="#7b7b7b" stroke="#6a6a6a" stroke-width="0.6"/><line x1="215.3" y1="536.14" x2="215.3" y2="549.24" stroke="#8a8a8a" stroke-width="0.8"/><line x1="212.8" y1="536.14" x2="217.8" y2="536.14" stroke="#8a8a8a" stroke-width="0.8"/><rect x="209.4" y="549.24" width="11.8" height="91.76" fill="#7b7b7b" stroke="#6a6a6a" stroke-width="0.6"/><line x1="236.1" y1="630.04" x2="236.1" y2="633.41" stroke="#8a8a8a" stroke-width="0.8"/><line x1="233.6" y1="630.04" x2="238.6" y2="630.04" stroke="#8a8a8a" stroke-width="0.8"/><rect x="230.2" y="633.41" width="11.8" height="7.59" fill="#7b7b7b" stroke="#6a6a6a" stroke-width="0.6"/><line x1="257.1" y1="578.34" x2="257.1" y2="582.27" stroke="#8a8a8a" stroke-width="0.8"/><line x1="254.6" y1="578.34" x2="259.6" y2="578.34" stroke="#8a8a8a" stroke-width="0.8"/><rect x="251.2" y="582.27" width="11.8" height="58.73" fill="#7b7b7b" stroke="#6a6a6a" stroke-width="0.6"/><line x1="278.2" y1="600.25" x2="278.2" y2="601.94" stroke="#8a8a8a" stroke-width="0.8"/><line x1="275.7" y1="600.25" x2="280.7" y2="600.25" stroke="#8a8a8a" stroke-width="0.8"/><rect x="272.3" y="601.94" width="11.8" height="39.06" fill="#7b7b7b" stroke="#6a6a6a" stroke-width="0.6"/><line x1="299.4" y1="567.38" x2="299.4" y2="586.49" stroke="#8a8a8a" stroke-width="0.8"/><line x1="296.9" y1="567.38" x2="301.9" y2="567.38" stroke="#8a8a8a" stroke-width="0.8"/><rect x="293.5" y="586.49" width="11.8" height="54.51" fill="#7b7b7b" stroke="#6a6a6a" stroke-width="0.6"/><line x1="320.5" y1="609.53" x2="320.5" y2="612.9" stroke="#8a8a8a" stroke-width="0.8"/><line x1="318" y1="609.53" x2="323" y2="609.53" stroke="#8a8a8a" stroke-width="0.8"/><rect x="314.6" y="612.9" width="11.8" height="28.1" fill="#7b7b7b" stroke="#6a6a6a" stroke-width="0.6"/><rect x="208.8" y="562.3" width="13" height="2.4" fill="#fff" stroke="none" stroke-width="1"/><path d="M180.9 563.6l5.4 -2.3l0 1.9l-5.4 2.3z" fill="#fff" stroke="none" stroke-width="1"/><path d="M180.9 563.7l5.4 -2.3M180.9 565.6l5.4 -2.3" fill="none" stroke="#555" stroke-width="0.9"/><path d="M328.5 563.6l5.4 -2.3l0 1.9l-5.4 2.3z" fill="#fff" stroke="none" stroke-width="1"/><path d="M328.5 563.7l5.4 -2.3M328.5 565.6l5.4 -2.3" fill="none" stroke="#555" stroke-width="0.9"/><line x1="182.3" y1="612.7" x2="331.3" y2="612.7" stroke="#555" stroke-width="0.9"/><line x1="181.4" y1="641" x2="183.7" y2="641" stroke="#777" stroke-width="0.8"/><text x="174.3" y="643.4" font-size="6.98" font-weight="normal" fill="#222" stroke="#222" stroke-width="0.35" textLength="3.7" lengthAdjust="spacingAndGlyphs">0</text><line x1="181.4" y1="612.9" x2="183.7" y2="612.9" stroke="#777" stroke-width="0.8"/><text x="174.3" y="615.3" font-size="6.98" font-weight="normal" fill="#222" stroke="#222" stroke-width="0.35" textLength="3.7" lengthAdjust="spacingAndGlyphs">1</text><line x1="181.4" y1="584.8" x2="183.7" y2="584.8" stroke="#777" stroke-width="0.8"/><text x="174.3" y="587.2" font-size="6.98" font-weight="normal" fill="#222" stroke="#222" stroke-width="0.35" textLength="3.7" lengthAdjust="spacingAndGlyphs">2</text><line x1="181.4" y1="553.4" x2="183.7" y2="553.4" stroke="#777" stroke-width="0.8"/><text x="174.3" y="555.8" font-size="6.98" font-weight="normal" fill="#222" stroke="#222" stroke-width="0.35" textLength="3.7" lengthAdjust="spacingAndGlyphs">5</text><line x1="181.4" y1="541.5" x2="183.7" y2="541.5" stroke="#777" stroke-width="0.8"/><text x="174.3" y="543.9" font-size="6.98" font-weight="normal" fill="#222" stroke="#222" stroke-width="0.35" textLength="3.7" lengthAdjust="spacingAndGlyphs">6</text><text transform="translate(167.4 631.7) rotate(-90)" font-size="8.58" font-weight="normal" fill="#111" stroke="#111" stroke-width="0.25" textLength="87.5" lengthAdjust="spacingAndGlyphs">Relative mRNA expression</text><text x="219" y="520" font-size="11.63" font-weight="normal" fill="#111" stroke="#111" stroke-width="0.65" textLength="87.4" lengthAdjust="spacingAndGlyphs">BMP4 treatment</text><text transform="translate(197.3 658.8) rotate(-90)" font-size="9.16" font-weight="normal" fill="#111" stroke="#111" stroke-width="0.35" textLength="12.1" lengthAdjust="spacingAndGlyphs">ID2</text><text transform="translate(218.4 658.8) rotate(-90)" font-size="9.16" font-weight="normal" fill="#111" stroke="#111" stroke-width="0.35" textLength="12.1" lengthAdjust="spacingAndGlyphs">ID3</text><text transform="translate(239.2 664.9) rotate(-90)" font-size="9.16" font-weight="normal" fill="#111" stroke="#111" stroke-width="0.35" textLength="18.2" lengthAdjust="spacingAndGlyphs">HES1</text><text transform="translate(260.2 673) rotate(-90)" font-size="9.16" font-weight="normal" fill="#111" stroke="#111" stroke-width="0.35" textLength="26.3" lengthAdjust="spacingAndGlyphs">RUNX3</text><text transform="translate(281.3 668.1) rotate(-90)" font-size="9.16" font-weight="normal" fill="#111" stroke="#111" stroke-width="0.35" textLength="21.4" lengthAdjust="spacingAndGlyphs">NFIL3</text><text transform="translate(302.5 670.9) rotate(-90)" font-size="9.16" font-weight="normal" fill="#111" stroke="#111" stroke-width="0.35" textLength="24.2" lengthAdjust="spacingAndGlyphs">IL-2Rβ</text><text transform="translate(323.6 675.6) rotate(-90)" font-size="9.16" font-weight="normal" fill="#111" stroke="#111" stroke-width="0.35" textLength="28.9" lengthAdjust="spacingAndGlyphs">BCL11B</text><rect x="369.3" y="530.4" width="147.1" height="110.9" fill="none" stroke="#8a8a8a" stroke-width="1"/><line x1="369.3" y1="529.9" x2="369.3" y2="641.8" stroke="#808080" stroke-width="1.3"/><line x1="369.3" y1="641.3" x2="516.4" y2="641.3" stroke="#808080" stroke-width="1.3"/><line x1="379.8" y1="598.05" x2="379.8" y2="611.66" stroke="#9a9a9a" stroke-width="0.8"/><line x1="377.3" y1="598.05" x2="382.3" y2="598.05" stroke="#9a9a9a" stroke-width="0.8"/><rect x="373.3" y="611.66" width="13" height="29.64" fill="#7b7b7b" stroke="#6a6a6a" stroke-width="0.6"/><line x1="401.3" y1="610.06" x2="401.3" y2="617.27" stroke="#9a9a9a" stroke-width="0.8"/><line x1="398.8" y1="610.06" x2="403.8" y2="610.06" stroke="#9a9a9a" stroke-width="0.8"/><rect x="394.8" y="617.27" width="13" height="24.03" fill="#7b7b7b" stroke="#6a6a6a" stroke-width="0.6"/><line x1="422.7" y1="537.97" x2="422.7" y2="553.19" stroke="#9a9a9a" stroke-width="0.8"/><line x1="420.2" y1="537.97" x2="425.2" y2="537.97" stroke="#9a9a9a" stroke-width="0.8"/><rect x="416.2" y="553.19" width="13" height="88.11" fill="#7b7b7b" stroke="#6a6a6a" stroke-width="0.6"/><line x1="443.8" y1="598.05" x2="443.8" y2="610.86" stroke="#9a9a9a" stroke-width="0.8"/><line x1="441.3" y1="598.05" x2="446.3" y2="598.05" stroke="#9a9a9a" stroke-width="0.8"/><rect x="437.3" y="610.86" width="13" height="30.44" fill="#7b7b7b" stroke="#6a6a6a" stroke-width="0.6"/><line x1="465" y1="607.66" x2="465" y2="616.47" stroke="#9a9a9a" stroke-width="0.8"/><line x1="462.5" y1="607.66" x2="467.5" y2="607.66" stroke="#9a9a9a" stroke-width="0.8"/><rect x="458.5" y="616.47" width="13" height="24.83" fill="#7b7b7b" stroke="#6a6a6a" stroke-width="0.6"/><line x1="486.5" y1="577.22" x2="486.5" y2="585.23" stroke="#9a9a9a" stroke-width="0.8"/><line x1="484" y1="577.22" x2="489" y2="577.22" stroke="#9a9a9a" stroke-width="0.8"/><rect x="480" y="585.23" width="13" height="56.07" fill="#7b7b7b" stroke="#6a6a6a" stroke-width="0.6"/><line x1="507.5" y1="538.77" x2="507.5" y2="559.6" stroke="#9a9a9a" stroke-width="0.8"/><line x1="505" y1="538.77" x2="510" y2="538.77" stroke="#9a9a9a" stroke-width="0.8"/><rect x="501" y="559.6" width="13" height="81.7" fill="#7b7b7b" stroke="#6a6a6a" stroke-width="0.6"/><line x1="366.5" y1="561.2" x2="516.4" y2="561.2" stroke="#555" stroke-width="0.9"/><line x1="366.6" y1="641.3" x2="369.3" y2="641.3" stroke="#777" stroke-width="0.8"/><text x="360.5" y="643.6" font-size="6.69" font-weight="normal" fill="#222" stroke="#222" stroke-width="0.35" textLength="3.8" lengthAdjust="spacingAndGlyphs">0</text><line x1="366.6" y1="625.28" x2="369.3" y2="625.28" stroke="#777" stroke-width="0.8"/><text x="355.1" y="627.58" font-size="6.69" font-weight="normal" fill="#222" stroke="#222" stroke-width="0.35" textLength="9.2" lengthAdjust="spacingAndGlyphs">0,2</text><line x1="366.6" y1="609.26" x2="369.3" y2="609.26" stroke="#777" stroke-width="0.8"/><text x="355.1" y="611.56" font-size="6.69" font-weight="normal" fill="#222" stroke="#222" stroke-width="0.35" textLength="9.2" lengthAdjust="spacingAndGlyphs">0,4</text><line x1="366.6" y1="593.24" x2="369.3" y2="593.24" stroke="#777" stroke-width="0.8"/><text x="355.1" y="595.54" font-size="6.69" font-weight="normal" fill="#222" stroke="#222" stroke-width="0.35" textLength="9.2" lengthAdjust="spacingAndGlyphs">0,6</text><line x1="366.6" y1="577.22" x2="369.3" y2="577.22" stroke="#777" stroke-width="0.8"/><text x="355.1" y="579.52" font-size="6.69" font-weight="normal" fill="#222" stroke="#222" stroke-width="0.35" textLength="9.2" lengthAdjust="spacingAndGlyphs">0,8</text><line x1="366.6" y1="561.2" x2="369.3" y2="561.2" stroke="#777" stroke-width="0.8"/><text x="355.1" y="563.5" font-size="6.69" font-weight="normal" fill="#222" stroke="#222" stroke-width="0.35" textLength="9.2" lengthAdjust="spacingAndGlyphs">1,0</text><line x1="366.6" y1="545.18" x2="369.3" y2="545.18" stroke="#777" stroke-width="0.8"/><text x="355.1" y="547.48" font-size="6.69" font-weight="normal" fill="#222" stroke="#222" stroke-width="0.35" textLength="9.2" lengthAdjust="spacingAndGlyphs">1,2</text><text transform="translate(349.4 631.7) rotate(-90)" font-size="8.58" font-weight="normal" fill="#111" stroke="#111" stroke-width="0.25" textLength="87.5" lengthAdjust="spacingAndGlyphs">Relative mRNA expression</text><text x="405" y="520" font-size="11.63" font-weight="normal" fill="#111" stroke="#111" stroke-width="0.65" textLength="75.6" lengthAdjust="spacingAndGlyphs">DM treatment</text><text transform="translate(383.2 658.7) rotate(-90)" font-size="9.3" font-weight="normal" fill="#111" stroke="#111" stroke-width="0.35" textLength="12.1" lengthAdjust="spacingAndGlyphs">ID2</text><text transform="translate(404.7 658.7) rotate(-90)" font-size="9.3" font-weight="normal" fill="#111" stroke="#111" stroke-width="0.35" textLength="12.1" lengthAdjust="spacingAndGlyphs">ID3</text><text transform="translate(426.1 665.2) rotate(-90)" font-size="9.3" font-weight="normal" fill="#111" stroke="#111" stroke-width="0.35" textLength="18.6" lengthAdjust="spacingAndGlyphs">HES1</text><text transform="translate(447.2 673.2) rotate(-90)" font-size="9.3" font-weight="normal" fill="#111" stroke="#111" stroke-width="0.35" textLength="26.6" lengthAdjust="spacingAndGlyphs">RUNX3</text><text transform="translate(468.4 668) rotate(-90)" font-size="9.3" font-weight="normal" fill="#111" stroke="#111" stroke-width="0.35" textLength="21.4" lengthAdjust="spacingAndGlyphs">NFIL3</text><text transform="translate(489.9 671.1) rotate(-90)" font-size="9.3" font-weight="normal" fill="#111" stroke="#111" stroke-width="0.35" textLength="24.5" lengthAdjust="spacingAndGlyphs">IL-2Rβ</text><text transform="translate(510.9 675.5) rotate(-90)" font-size="9.3" font-weight="normal" fill="#111" stroke="#111" stroke-width="0.35" textLength="28.9" lengthAdjust="spacingAndGlyphs">BCL11B</text></svg></body></html>
